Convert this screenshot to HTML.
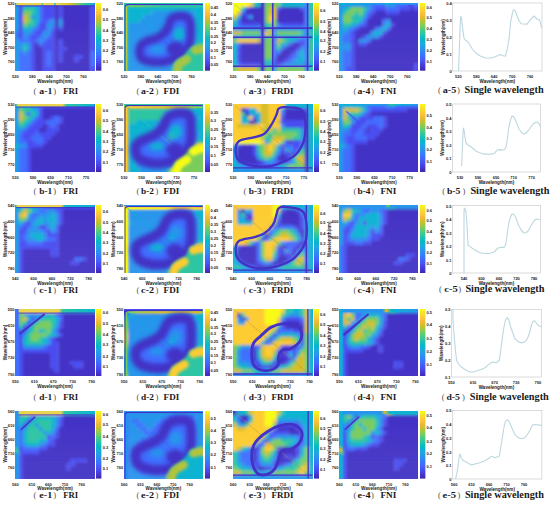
<!DOCTYPE html><html><head><meta charset="utf-8"><style>
*{margin:0;padding:0;box-sizing:border-box}
html,body{width:550px;height:505px;background:#fff;overflow:hidden}
body{position:relative}
.hm,.cb,.lp,.tx{position:absolute;display:block;overflow:hidden}
.tk{font-family:"Liberation Sans",sans-serif;font-weight:bold;font-size:4.0px;fill:#1a1a1a;dominant-baseline:central}
.xl{font-family:"Liberation Sans",sans-serif;font-weight:bold;font-size:4.6px;fill:#1a1a1a;dominant-baseline:central}
.cp{font-family:"Liberation Serif",serif;font-weight:normal;font-size:8.6px;fill:#555}
.cl{font-family:"Liberation Serif",serif;font-weight:bold;font-size:8.8px;fill:#1a1a1a}
.cn{font-family:"Liberation Serif",serif;font-weight:bold;font-size:9px;fill:#1a1a1a}
.cs{font-family:"Liberation Serif",serif;font-weight:bold;font-size:10.3px;fill:#1a1a1a}
</style></head><body>
<svg width="0" height="0" style="position:absolute"><defs><linearGradient id="pg" x1="0" y1="0" x2="0" y2="1"><stop offset="0" stop-color="#f9fb15"/><stop offset="0.05" stop-color="#f5e825"/><stop offset="0.1" stop-color="#fad42e"/><stop offset="0.15" stop-color="#fec13a"/><stop offset="0.2" stop-color="#eaba31"/><stop offset="0.25" stop-color="#c8c129"/><stop offset="0.3" stop-color="#9fc942"/><stop offset="0.35" stop-color="#71cd64"/><stop offset="0.4" stop-color="#48cb86"/><stop offset="0.45" stop-color="#2fc5a2"/><stop offset="0.5" stop-color="#12beb9"/><stop offset="0.55" stop-color="#05b6ce"/><stop offset="0.6" stop-color="#1caadf"/><stop offset="0.65" stop-color="#259ce7"/><stop offset="0.7" stop-color="#2d8cf3"/><stop offset="0.75" stop-color="#347afd"/><stop offset="0.8" stop-color="#4367fd"/><stop offset="0.85" stop-color="#4755f6"/><stop offset="0.9" stop-color="#4743e7"/><stop offset="0.95" stop-color="#4433cc"/><stop offset="1" stop-color="#3e26a8"/></linearGradient></defs></svg>

<svg class="hm" style="left:15.3px;top:3px;width:79.5px;height:67.7px" viewBox="0 0 550 468" preserveAspectRatio="none"><filter id="f1" x="-10%" y="-10%" width="120%" height="120%"><feGaussianBlur stdDeviation="12"/></filter><g filter="url(#f1)"><rect x="-27.5" y="-27.53" width="55.5" height="28.03" fill="#2895ec"/><rect x="27.5" y="-27.53" width="28" height="28.03" fill="#484ef1"/><rect x="55" y="-27.53" width="110.5" height="28.03" fill="#2895ec"/><rect x="165" y="-27.53" width="28" height="28.03" fill="#3f6eff"/><rect x="192.5" y="-27.53" width="83" height="28.03" fill="#484ef1"/><rect x="275" y="-27.53" width="28" height="28.03" fill="#4330c5"/><rect x="302.5" y="-27.53" width="28" height="28.03" fill="#484ef1"/><rect x="330" y="-27.53" width="193" height="28.03" fill="#4330c5"/><rect x="522.5" y="-27.53" width="55.5" height="28.03" fill="#484ef1"/><rect x="-27.5" y="0" width="55.5" height="28.03" fill="#2895ec"/><rect x="27.5" y="0" width="28" height="28.03" fill="#484ef1"/><rect x="55" y="0" width="110.5" height="28.03" fill="#2895ec"/><rect x="165" y="0" width="28" height="28.03" fill="#3f6eff"/><rect x="192.5" y="0" width="83" height="28.03" fill="#484ef1"/><rect x="275" y="0" width="28" height="28.03" fill="#4330c5"/><rect x="302.5" y="0" width="28" height="28.03" fill="#484ef1"/><rect x="330" y="0" width="193" height="28.03" fill="#4330c5"/><rect x="522.5" y="0" width="55.5" height="28.03" fill="#484ef1"/><rect x="-27.5" y="27.53" width="55.5" height="28.03" fill="#2895ec"/><rect x="27.5" y="27.53" width="28" height="28.03" fill="#484ef1"/><rect x="55" y="27.53" width="83" height="28.03" fill="#2fc5a2"/><rect x="137.5" y="27.53" width="28" height="28.03" fill="#0ab4d2"/><rect x="165" y="27.53" width="28" height="28.03" fill="#3f6eff"/><rect x="192.5" y="27.53" width="83" height="28.03" fill="#484ef1"/><rect x="275" y="27.53" width="28" height="28.03" fill="#4330c5"/><rect x="302.5" y="27.53" width="28" height="28.03" fill="#484ef1"/><rect x="330" y="27.53" width="193" height="28.03" fill="#4330c5"/><rect x="522.5" y="27.53" width="55.5" height="28.03" fill="#484ef1"/><rect x="-27.5" y="55.06" width="55.5" height="28.03" fill="#2895ec"/><rect x="27.5" y="55.06" width="28" height="28.03" fill="#484ef1"/><rect x="55" y="55.06" width="55.5" height="28.03" fill="#7acc5d"/><rect x="110" y="55.06" width="28" height="28.03" fill="#2fc5a2"/><rect x="137.5" y="55.06" width="28" height="28.03" fill="#0ab4d2"/><rect x="165" y="55.06" width="28" height="28.03" fill="#3f6eff"/><rect x="192.5" y="55.06" width="83" height="28.03" fill="#484ef1"/><rect x="275" y="55.06" width="28" height="28.03" fill="#4330c5"/><rect x="302.5" y="55.06" width="28" height="28.03" fill="#484ef1"/><rect x="330" y="55.06" width="193" height="28.03" fill="#4330c5"/><rect x="522.5" y="55.06" width="55.5" height="28.03" fill="#484ef1"/><rect x="-27.5" y="82.59" width="55.5" height="28.03" fill="#2895ec"/><rect x="27.5" y="82.59" width="28" height="28.03" fill="#484ef1"/><rect x="55" y="82.59" width="28" height="28.03" fill="#d7be28"/><rect x="82.5" y="82.59" width="28" height="28.03" fill="#7acc5d"/><rect x="110" y="82.59" width="28" height="28.03" fill="#2895ec"/><rect x="137.5" y="82.59" width="28" height="28.03" fill="#0ab4d2"/><rect x="165" y="82.59" width="28" height="28.03" fill="#3f6eff"/><rect x="192.5" y="82.59" width="83" height="28.03" fill="#484ef1"/><rect x="275" y="82.59" width="28" height="28.03" fill="#4330c5"/><rect x="302.5" y="82.59" width="28" height="28.03" fill="#484ef1"/><rect x="330" y="82.59" width="193" height="28.03" fill="#4330c5"/><rect x="522.5" y="82.59" width="55.5" height="28.03" fill="#484ef1"/><rect x="-27.5" y="110.12" width="55.5" height="28.03" fill="#2895ec"/><rect x="27.5" y="110.12" width="28" height="28.03" fill="#484ef1"/><rect x="55" y="110.12" width="28" height="28.03" fill="#d7be28"/><rect x="82.5" y="110.12" width="28" height="28.03" fill="#7acc5d"/><rect x="110" y="110.12" width="28" height="28.03" fill="#2fc5a2"/><rect x="137.5" y="110.12" width="28" height="28.03" fill="#0ab4d2"/><rect x="165" y="110.12" width="28" height="28.03" fill="#3f6eff"/><rect x="192.5" y="110.12" width="28" height="28.03" fill="#484ef1"/><rect x="220" y="110.12" width="28" height="28.03" fill="#3f6eff"/><rect x="247.5" y="110.12" width="28" height="28.03" fill="#2895ec"/><rect x="275" y="110.12" width="28" height="28.03" fill="#4330c5"/><rect x="302.5" y="110.12" width="28" height="28.03" fill="#2895ec"/><rect x="330" y="110.12" width="193" height="28.03" fill="#4330c5"/><rect x="522.5" y="110.12" width="55.5" height="28.03" fill="#484ef1"/><rect x="-27.5" y="137.65" width="55.5" height="28.03" fill="#2895ec"/><rect x="27.5" y="137.65" width="28" height="28.03" fill="#484ef1"/><rect x="55" y="137.65" width="28" height="28.03" fill="#7acc5d"/><rect x="82.5" y="137.65" width="55.5" height="28.03" fill="#2fc5a2"/><rect x="137.5" y="137.65" width="28" height="28.03" fill="#2895ec"/><rect x="165" y="137.65" width="55.5" height="28.03" fill="#484ef1"/><rect x="220" y="137.65" width="55.5" height="28.03" fill="#2895ec"/><rect x="275" y="137.65" width="28" height="28.03" fill="#4330c5"/><rect x="302.5" y="137.65" width="28" height="28.03" fill="#2895ec"/><rect x="330" y="137.65" width="193" height="28.03" fill="#4330c5"/><rect x="522.5" y="137.65" width="55.5" height="28.03" fill="#484ef1"/><rect x="-27.5" y="165.18" width="55.5" height="28.03" fill="#2895ec"/><rect x="27.5" y="165.18" width="28" height="28.03" fill="#484ef1"/><rect x="55" y="165.18" width="55.5" height="28.03" fill="#0ab4d2"/><rect x="110" y="165.18" width="28" height="28.03" fill="#2895ec"/><rect x="137.5" y="165.18" width="28" height="28.03" fill="#3f6eff"/><rect x="165" y="165.18" width="55.5" height="28.03" fill="#484ef1"/><rect x="220" y="165.18" width="28" height="28.03" fill="#2895ec"/><rect x="247.5" y="165.18" width="28" height="28.03" fill="#3f6eff"/><rect x="275" y="165.18" width="28" height="28.03" fill="#4330c5"/><rect x="302.5" y="165.18" width="28" height="28.03" fill="#484ef1"/><rect x="330" y="165.18" width="193" height="28.03" fill="#4330c5"/><rect x="522.5" y="165.18" width="55.5" height="28.03" fill="#484ef1"/><rect x="-27.5" y="192.71" width="55.5" height="28.03" fill="#3f6eff"/><rect x="27.5" y="192.71" width="28" height="28.03" fill="#484ef1"/><rect x="55" y="192.71" width="55.5" height="28.03" fill="#2895ec"/><rect x="110" y="192.71" width="28" height="28.03" fill="#3f6eff"/><rect x="137.5" y="192.71" width="55.5" height="28.03" fill="#484ef1"/><rect x="192.5" y="192.71" width="55.5" height="28.03" fill="#2895ec"/><rect x="247.5" y="192.71" width="28" height="28.03" fill="#484ef1"/><rect x="275" y="192.71" width="248" height="28.03" fill="#4330c5"/><rect x="522.5" y="192.71" width="55.5" height="28.03" fill="#484ef1"/><rect x="-27.5" y="220.24" width="55.5" height="28.03" fill="#3f6eff"/><rect x="27.5" y="220.24" width="28" height="28.03" fill="#484ef1"/><rect x="55" y="220.24" width="28" height="28.03" fill="#2895ec"/><rect x="82.5" y="220.24" width="28" height="28.03" fill="#3f6eff"/><rect x="110" y="220.24" width="55.5" height="28.03" fill="#484ef1"/><rect x="165" y="220.24" width="28" height="28.03" fill="#3f6eff"/><rect x="192.5" y="220.24" width="28" height="28.03" fill="#2895ec"/><rect x="220" y="220.24" width="28" height="28.03" fill="#3f6eff"/><rect x="247.5" y="220.24" width="28" height="28.03" fill="#484ef1"/><rect x="275" y="220.24" width="248" height="28.03" fill="#4330c5"/><rect x="522.5" y="220.24" width="55.5" height="28.03" fill="#484ef1"/><rect x="-27.5" y="247.76" width="55.5" height="28.03" fill="#2895ec"/><rect x="27.5" y="247.76" width="83" height="28.03" fill="#3f6eff"/><rect x="110" y="247.76" width="28" height="28.03" fill="#484ef1"/><rect x="137.5" y="247.76" width="28" height="28.03" fill="#3f6eff"/><rect x="165" y="247.76" width="28" height="28.03" fill="#2895ec"/><rect x="192.5" y="247.76" width="28" height="28.03" fill="#3f6eff"/><rect x="220" y="247.76" width="55.5" height="28.03" fill="#484ef1"/><rect x="275" y="247.76" width="28" height="28.03" fill="#4330c5"/><rect x="302.5" y="247.76" width="28" height="28.03" fill="#484ef1"/><rect x="330" y="247.76" width="193" height="28.03" fill="#4330c5"/><rect x="522.5" y="247.76" width="55.5" height="28.03" fill="#484ef1"/><rect x="-27.5" y="275.29" width="83" height="28.03" fill="#2895ec"/><rect x="55" y="275.29" width="28" height="28.03" fill="#0ab4d2"/><rect x="82.5" y="275.29" width="28" height="28.03" fill="#2895ec"/><rect x="110" y="275.29" width="28" height="28.03" fill="#484ef1"/><rect x="137.5" y="275.29" width="28" height="28.03" fill="#4330c5"/><rect x="165" y="275.29" width="28" height="28.03" fill="#3f6eff"/><rect x="192.5" y="275.29" width="83" height="28.03" fill="#484ef1"/><rect x="275" y="275.29" width="28" height="28.03" fill="#4330c5"/><rect x="302.5" y="275.29" width="28" height="28.03" fill="#484ef1"/><rect x="330" y="275.29" width="193" height="28.03" fill="#4330c5"/><rect x="522.5" y="275.29" width="55.5" height="28.03" fill="#484ef1"/><rect x="-27.5" y="302.82" width="83" height="28.03" fill="#2895ec"/><rect x="55" y="302.82" width="28" height="28.03" fill="#2fc5a2"/><rect x="82.5" y="302.82" width="28" height="28.03" fill="#2895ec"/><rect x="110" y="302.82" width="28" height="28.03" fill="#484ef1"/><rect x="137.5" y="302.82" width="55.5" height="28.03" fill="#4330c5"/><rect x="192.5" y="302.82" width="83" height="28.03" fill="#484ef1"/><rect x="275" y="302.82" width="28" height="28.03" fill="#4330c5"/><rect x="302.5" y="302.82" width="55.5" height="28.03" fill="#484ef1"/><rect x="357.5" y="302.82" width="165.5" height="28.03" fill="#4330c5"/><rect x="522.5" y="302.82" width="55.5" height="28.03" fill="#484ef1"/><rect x="-27.5" y="330.35" width="55.5" height="28.03" fill="#2895ec"/><rect x="27.5" y="330.35" width="28" height="28.03" fill="#3f6eff"/><rect x="55" y="330.35" width="28" height="28.03" fill="#2895ec"/><rect x="82.5" y="330.35" width="28" height="28.03" fill="#3f6eff"/><rect x="110" y="330.35" width="28" height="28.03" fill="#484ef1"/><rect x="137.5" y="330.35" width="55.5" height="28.03" fill="#4330c5"/><rect x="192.5" y="330.35" width="28" height="28.03" fill="#484ef1"/><rect x="220" y="330.35" width="28" height="28.03" fill="#3f6eff"/><rect x="247.5" y="330.35" width="28" height="28.03" fill="#484ef1"/><rect x="275" y="330.35" width="28" height="28.03" fill="#4330c5"/><rect x="302.5" y="330.35" width="28" height="28.03" fill="#484ef1"/><rect x="330" y="330.35" width="193" height="28.03" fill="#4330c5"/><rect x="522.5" y="330.35" width="55.5" height="28.03" fill="#3f6eff"/><rect x="-27.5" y="357.88" width="55.5" height="28.03" fill="#2895ec"/><rect x="27.5" y="357.88" width="83" height="28.03" fill="#3f6eff"/><rect x="110" y="357.88" width="28" height="28.03" fill="#484ef1"/><rect x="137.5" y="357.88" width="55.5" height="28.03" fill="#4330c5"/><rect x="192.5" y="357.88" width="28" height="28.03" fill="#484ef1"/><rect x="220" y="357.88" width="28" height="28.03" fill="#3f6eff"/><rect x="247.5" y="357.88" width="28" height="28.03" fill="#484ef1"/><rect x="275" y="357.88" width="28" height="28.03" fill="#4330c5"/><rect x="302.5" y="357.88" width="28" height="28.03" fill="#484ef1"/><rect x="330" y="357.88" width="83" height="28.03" fill="#4330c5"/><rect x="412.5" y="357.88" width="55.5" height="28.03" fill="#484ef1"/><rect x="467.5" y="357.88" width="55.5" height="28.03" fill="#4330c5"/><rect x="522.5" y="357.88" width="55.5" height="28.03" fill="#3f6eff"/><rect x="-27.5" y="385.41" width="55.5" height="28.03" fill="#2895ec"/><rect x="27.5" y="385.41" width="83" height="28.03" fill="#3f6eff"/><rect x="110" y="385.41" width="28" height="28.03" fill="#484ef1"/><rect x="137.5" y="385.41" width="55.5" height="28.03" fill="#4330c5"/><rect x="192.5" y="385.41" width="28" height="28.03" fill="#484ef1"/><rect x="220" y="385.41" width="28" height="28.03" fill="#3f6eff"/><rect x="247.5" y="385.41" width="28" height="28.03" fill="#484ef1"/><rect x="275" y="385.41" width="28" height="28.03" fill="#4330c5"/><rect x="302.5" y="385.41" width="28" height="28.03" fill="#484ef1"/><rect x="330" y="385.41" width="83" height="28.03" fill="#4330c5"/><rect x="412.5" y="385.41" width="28" height="28.03" fill="#484ef1"/><rect x="440" y="385.41" width="83" height="28.03" fill="#4330c5"/><rect x="522.5" y="385.41" width="55.5" height="28.03" fill="#3f6eff"/><rect x="-27.5" y="412.94" width="55.5" height="28.03" fill="#2895ec"/><rect x="27.5" y="412.94" width="83" height="28.03" fill="#3f6eff"/><rect x="110" y="412.94" width="28" height="28.03" fill="#484ef1"/><rect x="137.5" y="412.94" width="55.5" height="28.03" fill="#4330c5"/><rect x="192.5" y="412.94" width="28" height="28.03" fill="#484ef1"/><rect x="220" y="412.94" width="28" height="28.03" fill="#3f6eff"/><rect x="247.5" y="412.94" width="28" height="28.03" fill="#484ef1"/><rect x="275" y="412.94" width="248" height="28.03" fill="#4330c5"/><rect x="522.5" y="412.94" width="55.5" height="28.03" fill="#3f6eff"/><rect x="-27.5" y="440.47" width="55.5" height="28.03" fill="#2895ec"/><rect x="27.5" y="440.47" width="83" height="28.03" fill="#3f6eff"/><rect x="110" y="440.47" width="28" height="28.03" fill="#484ef1"/><rect x="137.5" y="440.47" width="55.5" height="28.03" fill="#4330c5"/><rect x="192.5" y="440.47" width="83" height="28.03" fill="#484ef1"/><rect x="275" y="440.47" width="248" height="28.03" fill="#4330c5"/><rect x="522.5" y="440.47" width="55.5" height="28.03" fill="#484ef1"/><rect x="-27.5" y="468" width="55.5" height="28.03" fill="#2895ec"/><rect x="27.5" y="468" width="83" height="28.03" fill="#3f6eff"/><rect x="110" y="468" width="28" height="28.03" fill="#484ef1"/><rect x="137.5" y="468" width="55.5" height="28.03" fill="#4330c5"/><rect x="192.5" y="468" width="83" height="28.03" fill="#484ef1"/><rect x="275" y="468" width="248" height="28.03" fill="#4330c5"/><rect x="522.5" y="468" width="55.5" height="28.03" fill="#484ef1"/></g><filter id="o1" filterUnits="userSpaceOnUse" x="-100" y="-100" width="750" height="668"><feGaussianBlur stdDeviation="1.5"/></filter><g filter="url(#o1)"><linearGradient id="go1" x1="0" y1="0" x2="1" y2="0"><stop offset="0" stop-color="#2fc5a2"/><stop offset="0.02" stop-color="#ead44e"/><stop offset="0.33" stop-color="#ead44e"/><stop offset="0.34" stop-color="#2fc5a2"/><stop offset="0.36" stop-color="#ead44e"/><stop offset="0.49" stop-color="#ead44e"/><stop offset="0.5" stop-color="#0ab4d2"/><stop offset="0.52" stop-color="#ead44e"/><stop offset="0.7" stop-color="#d7be28"/><stop offset="0.88" stop-color="#2fc5a2"/><stop offset="1" stop-color="#0ab4d2"/></linearGradient><rect x="0" y="0" width="550" height="17" fill="url(#go1)"/></g><filter id="o2" filterUnits="userSpaceOnUse" x="-100" y="-100" width="750" height="668"><feGaussianBlur stdDeviation="2"/></filter><g filter="url(#o2)"><rect x="0" y="17" width="550" height="6" fill="#4330c5"/></g><filter id="o3" filterUnits="userSpaceOnUse" x="-100" y="-100" width="750" height="668"><feGaussianBlur stdDeviation="1.5"/></filter><g filter="url(#o3)"><rect x="0" y="0" width="9" height="468" fill="#0ab4d2"/></g></svg>
<svg class="cb" style="left:96.4px;top:3px;width:5.4px;height:67.7px" viewBox="0 0 10 100" preserveAspectRatio="none"><rect width="10" height="100" fill="url(#pg)"/></svg>
<svg class="hm" style="left:124.1px;top:3px;width:78.6px;height:67.7px" viewBox="0 0 550 468" preserveAspectRatio="none"><filter id="f2" x="-10%" y="-10%" width="120%" height="120%"><feGaussianBlur stdDeviation="12"/></filter><g filter="url(#f2)"><rect x="-27.5" y="-27.53" width="550.5" height="28.03" fill="#2fc5a2"/><rect x="522.5" y="-27.53" width="55.5" height="28.03" fill="#0ab4d2"/><rect x="-27.5" y="0" width="550.5" height="28.03" fill="#2fc5a2"/><rect x="522.5" y="0" width="55.5" height="28.03" fill="#0ab4d2"/><rect x="-27.5" y="27.53" width="55.5" height="28.03" fill="#2fc5a2"/><rect x="27.5" y="27.53" width="550.5" height="28.03" fill="#0ab4d2"/><rect x="-27.5" y="55.06" width="55.5" height="28.03" fill="#2fc5a2"/><rect x="27.5" y="55.06" width="165.5" height="28.03" fill="#0ab4d2"/><rect x="192.5" y="55.06" width="303" height="28.03" fill="#2895ec"/><rect x="495" y="55.06" width="83" height="28.03" fill="#0ab4d2"/><rect x="-27.5" y="82.59" width="55.5" height="28.03" fill="#2fc5a2"/><rect x="27.5" y="82.59" width="110.5" height="28.03" fill="#0ab4d2"/><rect x="137.5" y="82.59" width="358" height="28.03" fill="#2895ec"/><rect x="495" y="82.59" width="83" height="28.03" fill="#0ab4d2"/><rect x="-27.5" y="110.12" width="55.5" height="28.03" fill="#2fc5a2"/><rect x="27.5" y="110.12" width="83" height="28.03" fill="#0ab4d2"/><rect x="110" y="110.12" width="385.5" height="28.03" fill="#2895ec"/><rect x="495" y="110.12" width="83" height="28.03" fill="#0ab4d2"/><rect x="-27.5" y="137.65" width="55.5" height="28.03" fill="#2fc5a2"/><rect x="27.5" y="137.65" width="468" height="28.03" fill="#2895ec"/><rect x="495" y="137.65" width="83" height="28.03" fill="#0ab4d2"/><rect x="-27.5" y="165.18" width="55.5" height="28.03" fill="#2fc5a2"/><rect x="27.5" y="165.18" width="275.5" height="28.03" fill="#2895ec"/><rect x="302.5" y="165.18" width="110.5" height="28.03" fill="#0ab4d2"/><rect x="412.5" y="165.18" width="83" height="28.03" fill="#2895ec"/><rect x="495" y="165.18" width="83" height="28.03" fill="#0ab4d2"/><rect x="-27.5" y="192.71" width="55.5" height="28.03" fill="#2fc5a2"/><rect x="27.5" y="192.71" width="248" height="28.03" fill="#2895ec"/><rect x="275" y="192.71" width="138" height="28.03" fill="#0ab4d2"/><rect x="412.5" y="192.71" width="83" height="28.03" fill="#2895ec"/><rect x="495" y="192.71" width="83" height="28.03" fill="#0ab4d2"/><rect x="-27.5" y="220.24" width="55.5" height="28.03" fill="#2fc5a2"/><rect x="27.5" y="220.24" width="275.5" height="28.03" fill="#2895ec"/><rect x="302.5" y="220.24" width="28" height="28.03" fill="#0ab4d2"/><rect x="330" y="220.24" width="165.5" height="28.03" fill="#2895ec"/><rect x="495" y="220.24" width="83" height="28.03" fill="#0ab4d2"/><rect x="-27.5" y="247.76" width="55.5" height="28.03" fill="#2fc5a2"/><rect x="27.5" y="247.76" width="468" height="28.03" fill="#2895ec"/><rect x="495" y="247.76" width="83" height="28.03" fill="#0ab4d2"/><rect x="-27.5" y="275.29" width="55.5" height="28.03" fill="#2fc5a2"/><rect x="27.5" y="275.29" width="468" height="28.03" fill="#2895ec"/><rect x="495" y="275.29" width="83" height="28.03" fill="#2fc5a2"/><rect x="-27.5" y="302.82" width="55.5" height="28.03" fill="#2fc5a2"/><rect x="27.5" y="302.82" width="440.5" height="28.03" fill="#2895ec"/><rect x="467.5" y="302.82" width="28" height="28.03" fill="#2fc5a2"/><rect x="495" y="302.82" width="83" height="28.03" fill="#7acc5d"/><rect x="-27.5" y="330.35" width="55.5" height="28.03" fill="#2fc5a2"/><rect x="27.5" y="330.35" width="413" height="28.03" fill="#2895ec"/><rect x="440" y="330.35" width="28" height="28.03" fill="#7acc5d"/><rect x="467.5" y="330.35" width="55.5" height="28.03" fill="#d7be28"/><rect x="522.5" y="330.35" width="55.5" height="28.03" fill="#7acc5d"/><rect x="-27.5" y="357.88" width="55.5" height="28.03" fill="#2fc5a2"/><rect x="27.5" y="357.88" width="358" height="28.03" fill="#2895ec"/><rect x="385" y="357.88" width="28" height="28.03" fill="#0ab4d2"/><rect x="412.5" y="357.88" width="28" height="28.03" fill="#7acc5d"/><rect x="440" y="357.88" width="83" height="28.03" fill="#d7be28"/><rect x="522.5" y="357.88" width="55.5" height="28.03" fill="#7acc5d"/><rect x="-27.5" y="385.41" width="55.5" height="28.03" fill="#2fc5a2"/><rect x="27.5" y="385.41" width="303" height="28.03" fill="#2895ec"/><rect x="330" y="385.41" width="28" height="28.03" fill="#0ab4d2"/><rect x="357.5" y="385.41" width="28" height="28.03" fill="#2fc5a2"/><rect x="385" y="385.41" width="28" height="28.03" fill="#d7be28"/><rect x="412.5" y="385.41" width="28" height="28.03" fill="#fdcc32"/><rect x="440" y="385.41" width="83" height="28.03" fill="#d7be28"/><rect x="522.5" y="385.41" width="55.5" height="28.03" fill="#7acc5d"/><rect x="-27.5" y="412.94" width="55.5" height="28.03" fill="#2fc5a2"/><rect x="27.5" y="412.94" width="303" height="28.03" fill="#2895ec"/><rect x="330" y="412.94" width="28" height="28.03" fill="#0ab4d2"/><rect x="357.5" y="412.94" width="28" height="28.03" fill="#d7be28"/><rect x="385" y="412.94" width="55.5" height="28.03" fill="#fdcc32"/><rect x="440" y="412.94" width="83" height="28.03" fill="#d7be28"/><rect x="522.5" y="412.94" width="55.5" height="28.03" fill="#7acc5d"/><rect x="-27.5" y="440.47" width="55.5" height="28.03" fill="#2fc5a2"/><rect x="27.5" y="440.47" width="303" height="28.03" fill="#2895ec"/><rect x="330" y="440.47" width="28" height="28.03" fill="#0ab4d2"/><rect x="357.5" y="440.47" width="165.5" height="28.03" fill="#d7be28"/><rect x="522.5" y="440.47" width="55.5" height="28.03" fill="#7acc5d"/><rect x="-27.5" y="468" width="55.5" height="28.03" fill="#2fc5a2"/><rect x="27.5" y="468" width="303" height="28.03" fill="#2895ec"/><rect x="330" y="468" width="28" height="28.03" fill="#0ab4d2"/><rect x="357.5" y="468" width="165.5" height="28.03" fill="#d7be28"/><rect x="522.5" y="468" width="55.5" height="28.03" fill="#7acc5d"/></g><filter id="o4" filterUnits="userSpaceOnUse" x="-100" y="-100" width="750" height="668"><feGaussianBlur stdDeviation="1"/></filter><g filter="url(#o4)"><rect x="0" y="0" width="550" height="8" fill="#2fc5a2"/></g><filter id="o5" filterUnits="userSpaceOnUse" x="-100" y="-100" width="750" height="668"><feGaussianBlur stdDeviation="1.5"/></filter><g filter="url(#o5)"><path d="M 8,470 L 8,30 Q 8,11 27,11 L 548,11" fill="none" stroke="#4330c5" stroke-width="8" stroke-linecap="round" stroke-linejoin="round"/></g><filter id="o6" filterUnits="userSpaceOnUse" x="-100" y="-100" width="750" height="668"><feGaussianBlur stdDeviation="1.5"/></filter><g filter="url(#o6)"><linearGradient id="go6" x1="0" y1="0" x2="1" y2="0"><stop offset="0" stop-color="#7acc5d"/><stop offset="0.5" stop-color="#2fc5a2"/><stop offset="1" stop-color="#2fc5a2"/></linearGradient><rect x="22" y="16" width="528" height="13" fill="url(#go6)"/></g><filter id="o7" filterUnits="userSpaceOnUse" x="-100" y="-100" width="750" height="668"><feGaussianBlur stdDeviation="1.5"/></filter><g filter="url(#o7)"><rect x="12" y="22" width="11" height="446" fill="#b8cc40"/></g><g transform="translate(0,0)"><filter id="o9" filterUnits="userSpaceOnUse" x="-100" y="-100" width="750" height="668"><feGaussianBlur stdDeviation="10"/></filter><g filter="url(#o9)"><path d="M 330,110 C 342,98 362,92 380,90 C 398,88 421,88 435,95 C 449,102 460,118 465,135 C 470,152 468,178 468,200 C 468,222 468,248 462,270 C 456,292 445,315 432,330 C 419,345 404,351 385,362 C 366,373 342,390 320,398 C 298,406 274,409 250,410 C 226,411 196,409 175,405 C 154,401 136,395 125,385 C 114,375 109,360 108,345 C 107,330 109,309 118,295 C 127,281 143,270 160,262 C 177,254 201,253 220,245 C 239,237 260,225 275,212 C 290,199 301,182 310,165 C 319,148 318,122 330,110 Z" fill="#3f6eff"/></g><filter id="o10" filterUnits="userSpaceOnUse" x="-100" y="-100" width="750" height="668"><feGaussianBlur stdDeviation="18"/></filter><g filter="url(#o10)"><ellipse cx="385" cy="215" rx="45" ry="50" fill="#0ab4d2"/></g><filter id="o11" filterUnits="userSpaceOnUse" x="-100" y="-100" width="750" height="668"><feGaussianBlur stdDeviation="18"/></filter><g filter="url(#o11)"><ellipse cx="235" cy="320" rx="60" ry="35" fill="#2895ec"/></g><filter id="o12" filterUnits="userSpaceOnUse" x="-100" y="-100" width="750" height="668"><feGaussianBlur stdDeviation="3"/></filter><g filter="url(#o12)"><line x1="20" y1="17" x2="550" y2="468" stroke="#0ab4d2" stroke-width="5"/></g><filter id="o13" filterUnits="userSpaceOnUse" x="-100" y="-100" width="750" height="668"><feGaussianBlur stdDeviation="14"/></filter><g filter="url(#o13)"><path d="M 330,110 C 342,98 362,92 380,90 C 398,88 421,88 435,95 C 449,102 460,118 465,135 C 470,152 468,178 468,200 C 468,222 468,248 462,270 C 456,292 445,315 432,330 C 419,345 404,351 385,362 C 366,373 342,390 320,398 C 298,406 274,409 250,410 C 226,411 196,409 175,405 C 154,401 136,395 125,385 C 114,375 109,360 108,345 C 107,330 109,309 118,295 C 127,281 143,270 160,262 C 177,254 201,253 220,245 C 239,237 260,225 275,212 C 290,199 301,182 310,165 C 319,148 318,122 330,110 Z" fill="none" stroke="#4330c5" stroke-width="60" stroke-linecap="round" stroke-linejoin="round"/></g><filter id="o14" filterUnits="userSpaceOnUse" x="-100" y="-100" width="750" height="668"><feGaussianBlur stdDeviation="14"/></filter><g filter="url(#o14)"><ellipse cx="362" cy="318" rx="62" ry="52" fill="#4330c5"/></g></g><filter id="o16" filterUnits="userSpaceOnUse" x="-100" y="-100" width="750" height="668"><feGaussianBlur stdDeviation="10"/></filter><g filter="url(#o16)"><path d="M 351,480 C 351,478 349,480 351,468 C 353,456 351,423 362,406 C 373,389 406,379 419,367 C 432,355 432,343 442,333 C 452,323 461,312 476,305 C 491,298 521,296 533,294 C 545,292 546,294 550,294 C 554,294 558,294 560,294 L 560,480 Z" fill="#2fc5a2"/></g><filter id="o17" filterUnits="userSpaceOnUse" x="-100" y="-100" width="750" height="668"><feGaussianBlur stdDeviation="10"/></filter><g filter="url(#o17)"><path d="M 373,490 C 375,480 373,445 384,428 C 395,411 432,396 441,389" fill="none" stroke="#a8c642" stroke-width="58" stroke-linecap="round" stroke-linejoin="round"/></g><filter id="o18" filterUnits="userSpaceOnUse" x="-100" y="-100" width="750" height="668"><feGaussianBlur stdDeviation="10"/></filter><g filter="url(#o18)"><path d="M 498,327 C 508,325 543,318 555,316 C 567,314 569,316 572,316" fill="none" stroke="#a8c642" stroke-width="58" stroke-linecap="round" stroke-linejoin="round"/></g></svg>
<svg class="cb" style="left:204.5px;top:3px;width:5px;height:67.7px" viewBox="0 0 10 100" preserveAspectRatio="none"><rect width="10" height="100" fill="url(#pg)"/></svg>
<svg class="hm" style="left:233.2px;top:3px;width:79.5px;height:67.7px" viewBox="0 0 550 468" preserveAspectRatio="none"><filter id="f3" x="-10%" y="-10%" width="120%" height="120%"><feGaussianBlur stdDeviation="12"/></filter><g filter="url(#f3)"><rect x="-27.5" y="-27.53" width="138" height="28.03" fill="#f9fb15"/><rect x="110" y="-27.53" width="28" height="28.03" fill="#fdcc32"/><rect x="137.5" y="-27.53" width="28" height="28.03" fill="#2fc5a2"/><rect x="165" y="-27.53" width="28" height="28.03" fill="#0ab4d2"/><rect x="192.5" y="-27.53" width="28" height="28.03" fill="#4330c5"/><rect x="220" y="-27.53" width="110.5" height="28.03" fill="#7acc5d"/><rect x="330" y="-27.53" width="165.5" height="28.03" fill="#0ab4d2"/><rect x="495" y="-27.53" width="28" height="28.03" fill="#3f6eff"/><rect x="522.5" y="-27.53" width="55.5" height="28.03" fill="#2fc5a2"/><rect x="-27.5" y="0" width="138" height="28.03" fill="#f9fb15"/><rect x="110" y="0" width="28" height="28.03" fill="#fdcc32"/><rect x="137.5" y="0" width="28" height="28.03" fill="#2fc5a2"/><rect x="165" y="0" width="28" height="28.03" fill="#0ab4d2"/><rect x="192.5" y="0" width="28" height="28.03" fill="#4330c5"/><rect x="220" y="0" width="110.5" height="28.03" fill="#7acc5d"/><rect x="330" y="0" width="165.5" height="28.03" fill="#0ab4d2"/><rect x="495" y="0" width="28" height="28.03" fill="#3f6eff"/><rect x="522.5" y="0" width="55.5" height="28.03" fill="#2fc5a2"/><rect x="-27.5" y="27.53" width="83" height="28.03" fill="#f9fb15"/><rect x="55" y="27.53" width="28" height="28.03" fill="#2fc5a2"/><rect x="82.5" y="27.53" width="28" height="28.03" fill="#484ef1"/><rect x="110" y="27.53" width="110.5" height="28.03" fill="#4330c5"/><rect x="220" y="27.53" width="28" height="28.03" fill="#7acc5d"/><rect x="247.5" y="27.53" width="55.5" height="28.03" fill="#d7be28"/><rect x="302.5" y="27.53" width="28" height="28.03" fill="#484ef1"/><rect x="330" y="27.53" width="138" height="28.03" fill="#4330c5"/><rect x="467.5" y="27.53" width="28" height="28.03" fill="#484ef1"/><rect x="495" y="27.53" width="28" height="28.03" fill="#3f6eff"/><rect x="522.5" y="27.53" width="55.5" height="28.03" fill="#2fc5a2"/><rect x="-27.5" y="55.06" width="55.5" height="28.03" fill="#f9fb15"/><rect x="27.5" y="55.06" width="28" height="28.03" fill="#d7be28"/><rect x="55" y="55.06" width="28" height="28.03" fill="#3f6eff"/><rect x="82.5" y="55.06" width="138" height="28.03" fill="#4330c5"/><rect x="220" y="55.06" width="28" height="28.03" fill="#7acc5d"/><rect x="247.5" y="55.06" width="55.5" height="28.03" fill="#d7be28"/><rect x="302.5" y="55.06" width="193" height="28.03" fill="#4330c5"/><rect x="495" y="55.06" width="28" height="28.03" fill="#3f6eff"/><rect x="522.5" y="55.06" width="55.5" height="28.03" fill="#2fc5a2"/><rect x="-27.5" y="82.59" width="55.5" height="28.03" fill="#d7be28"/><rect x="27.5" y="82.59" width="28" height="28.03" fill="#0ab4d2"/><rect x="55" y="82.59" width="28" height="28.03" fill="#4330c5"/><rect x="82.5" y="82.59" width="28" height="28.03" fill="#484ef1"/><rect x="110" y="82.59" width="28" height="28.03" fill="#2895ec"/><rect x="137.5" y="82.59" width="83" height="28.03" fill="#4330c5"/><rect x="220" y="82.59" width="28" height="28.03" fill="#7acc5d"/><rect x="247.5" y="82.59" width="28" height="28.03" fill="#fdcc32"/><rect x="275" y="82.59" width="28" height="28.03" fill="#d7be28"/><rect x="302.5" y="82.59" width="193" height="28.03" fill="#4330c5"/><rect x="495" y="82.59" width="28" height="28.03" fill="#3f6eff"/><rect x="522.5" y="82.59" width="55.5" height="28.03" fill="#2fc5a2"/><rect x="-27.5" y="110.12" width="55.5" height="28.03" fill="#2fc5a2"/><rect x="27.5" y="110.12" width="28" height="28.03" fill="#3f6eff"/><rect x="55" y="110.12" width="165.5" height="28.03" fill="#4330c5"/><rect x="220" y="110.12" width="28" height="28.03" fill="#7acc5d"/><rect x="247.5" y="110.12" width="28" height="28.03" fill="#fdcc32"/><rect x="275" y="110.12" width="28" height="28.03" fill="#7acc5d"/><rect x="302.5" y="110.12" width="193" height="28.03" fill="#4330c5"/><rect x="495" y="110.12" width="28" height="28.03" fill="#3f6eff"/><rect x="522.5" y="110.12" width="55.5" height="28.03" fill="#2fc5a2"/><rect x="-27.5" y="137.65" width="55.5" height="28.03" fill="#0ab4d2"/><rect x="27.5" y="137.65" width="28" height="28.03" fill="#3f6eff"/><rect x="55" y="137.65" width="138" height="28.03" fill="#484ef1"/><rect x="192.5" y="137.65" width="28" height="28.03" fill="#4330c5"/><rect x="220" y="137.65" width="55.5" height="28.03" fill="#2fc5a2"/><rect x="275" y="137.65" width="28" height="28.03" fill="#7acc5d"/><rect x="302.5" y="137.65" width="28" height="28.03" fill="#3f6eff"/><rect x="330" y="137.65" width="165.5" height="28.03" fill="#484ef1"/><rect x="495" y="137.65" width="28" height="28.03" fill="#3f6eff"/><rect x="522.5" y="137.65" width="55.5" height="28.03" fill="#2fc5a2"/><rect x="-27.5" y="165.18" width="220.5" height="28.03" fill="#2895ec"/><rect x="192.5" y="165.18" width="28" height="28.03" fill="#4330c5"/><rect x="220" y="165.18" width="28" height="28.03" fill="#0ab4d2"/><rect x="247.5" y="165.18" width="28" height="28.03" fill="#7acc5d"/><rect x="275" y="165.18" width="28" height="28.03" fill="#3f6eff"/><rect x="302.5" y="165.18" width="193" height="28.03" fill="#2895ec"/><rect x="495" y="165.18" width="28" height="28.03" fill="#3f6eff"/><rect x="522.5" y="165.18" width="55.5" height="28.03" fill="#0ab4d2"/><rect x="-27.5" y="192.71" width="83" height="28.03" fill="#d7be28"/><rect x="55" y="192.71" width="138" height="28.03" fill="#7acc5d"/><rect x="192.5" y="192.71" width="28" height="28.03" fill="#484ef1"/><rect x="220" y="192.71" width="28" height="28.03" fill="#fdcc32"/><rect x="247.5" y="192.71" width="28" height="28.03" fill="#d7be28"/><rect x="275" y="192.71" width="28" height="28.03" fill="#2895ec"/><rect x="302.5" y="192.71" width="165.5" height="28.03" fill="#7acc5d"/><rect x="467.5" y="192.71" width="28" height="28.03" fill="#2fc5a2"/><rect x="495" y="192.71" width="28" height="28.03" fill="#3f6eff"/><rect x="522.5" y="192.71" width="55.5" height="28.03" fill="#2fc5a2"/><rect x="-27.5" y="220.24" width="220.5" height="28.03" fill="#0ab4d2"/><rect x="192.5" y="220.24" width="28" height="28.03" fill="#484ef1"/><rect x="220" y="220.24" width="28" height="28.03" fill="#2fc5a2"/><rect x="247.5" y="220.24" width="28" height="28.03" fill="#7acc5d"/><rect x="275" y="220.24" width="28" height="28.03" fill="#3f6eff"/><rect x="302.5" y="220.24" width="165.5" height="28.03" fill="#0ab4d2"/><rect x="467.5" y="220.24" width="28" height="28.03" fill="#2895ec"/><rect x="495" y="220.24" width="28" height="28.03" fill="#3f6eff"/><rect x="522.5" y="220.24" width="55.5" height="28.03" fill="#0ab4d2"/><rect x="-27.5" y="247.76" width="55.5" height="28.03" fill="#7acc5d"/><rect x="27.5" y="247.76" width="138" height="28.03" fill="#fdcc32"/><rect x="165" y="247.76" width="28" height="28.03" fill="#d7be28"/><rect x="192.5" y="247.76" width="28" height="28.03" fill="#4330c5"/><rect x="220" y="247.76" width="55.5" height="28.03" fill="#7acc5d"/><rect x="275" y="247.76" width="28" height="28.03" fill="#3f6eff"/><rect x="302.5" y="247.76" width="28" height="28.03" fill="#d7be28"/><rect x="330" y="247.76" width="28" height="28.03" fill="#7acc5d"/><rect x="357.5" y="247.76" width="28" height="28.03" fill="#2fc5a2"/><rect x="385" y="247.76" width="28" height="28.03" fill="#0ab4d2"/><rect x="412.5" y="247.76" width="28" height="28.03" fill="#2895ec"/><rect x="440" y="247.76" width="28" height="28.03" fill="#3f6eff"/><rect x="467.5" y="247.76" width="28" height="28.03" fill="#484ef1"/><rect x="495" y="247.76" width="28" height="28.03" fill="#3f6eff"/><rect x="522.5" y="247.76" width="55.5" height="28.03" fill="#2fc5a2"/><rect x="-27.5" y="275.29" width="55.5" height="28.03" fill="#0ab4d2"/><rect x="27.5" y="275.29" width="28" height="28.03" fill="#3f6eff"/><rect x="55" y="275.29" width="165.5" height="28.03" fill="#4330c5"/><rect x="220" y="275.29" width="55.5" height="28.03" fill="#7acc5d"/><rect x="275" y="275.29" width="28" height="28.03" fill="#3f6eff"/><rect x="302.5" y="275.29" width="28" height="28.03" fill="#7acc5d"/><rect x="330" y="275.29" width="28" height="28.03" fill="#0ab4d2"/><rect x="357.5" y="275.29" width="28" height="28.03" fill="#2895ec"/><rect x="385" y="275.29" width="28" height="28.03" fill="#484ef1"/><rect x="412.5" y="275.29" width="55.5" height="28.03" fill="#4330c5"/><rect x="467.5" y="275.29" width="28" height="28.03" fill="#484ef1"/><rect x="495" y="275.29" width="28" height="28.03" fill="#3f6eff"/><rect x="522.5" y="275.29" width="55.5" height="28.03" fill="#2fc5a2"/><rect x="-27.5" y="302.82" width="55.5" height="28.03" fill="#0ab4d2"/><rect x="27.5" y="302.82" width="28" height="28.03" fill="#484ef1"/><rect x="55" y="302.82" width="165.5" height="28.03" fill="#4330c5"/><rect x="220" y="302.82" width="55.5" height="28.03" fill="#7acc5d"/><rect x="275" y="302.82" width="28" height="28.03" fill="#3f6eff"/><rect x="302.5" y="302.82" width="28" height="28.03" fill="#2fc5a2"/><rect x="330" y="302.82" width="28" height="28.03" fill="#3f6eff"/><rect x="357.5" y="302.82" width="83" height="28.03" fill="#4330c5"/><rect x="440" y="302.82" width="28" height="28.03" fill="#484ef1"/><rect x="467.5" y="302.82" width="28" height="28.03" fill="#2895ec"/><rect x="495" y="302.82" width="28" height="28.03" fill="#3f6eff"/><rect x="522.5" y="302.82" width="55.5" height="28.03" fill="#2fc5a2"/><rect x="-27.5" y="330.35" width="55.5" height="28.03" fill="#0ab4d2"/><rect x="27.5" y="330.35" width="28" height="28.03" fill="#484ef1"/><rect x="55" y="330.35" width="165.5" height="28.03" fill="#4330c5"/><rect x="220" y="330.35" width="55.5" height="28.03" fill="#7acc5d"/><rect x="275" y="330.35" width="55.5" height="28.03" fill="#3f6eff"/><rect x="330" y="330.35" width="83" height="28.03" fill="#4330c5"/><rect x="412.5" y="330.35" width="28" height="28.03" fill="#484ef1"/><rect x="440" y="330.35" width="28" height="28.03" fill="#2895ec"/><rect x="467.5" y="330.35" width="28" height="28.03" fill="#0ab4d2"/><rect x="495" y="330.35" width="28" height="28.03" fill="#3f6eff"/><rect x="522.5" y="330.35" width="55.5" height="28.03" fill="#2fc5a2"/><rect x="-27.5" y="357.88" width="55.5" height="28.03" fill="#0ab4d2"/><rect x="27.5" y="357.88" width="28" height="28.03" fill="#484ef1"/><rect x="55" y="357.88" width="165.5" height="28.03" fill="#4330c5"/><rect x="220" y="357.88" width="55.5" height="28.03" fill="#7acc5d"/><rect x="275" y="357.88" width="28" height="28.03" fill="#3f6eff"/><rect x="302.5" y="357.88" width="83" height="28.03" fill="#4330c5"/><rect x="385" y="357.88" width="28" height="28.03" fill="#484ef1"/><rect x="412.5" y="357.88" width="28" height="28.03" fill="#3f6eff"/><rect x="440" y="357.88" width="28" height="28.03" fill="#2895ec"/><rect x="467.5" y="357.88" width="28" height="28.03" fill="#0ab4d2"/><rect x="495" y="357.88" width="28" height="28.03" fill="#3f6eff"/><rect x="522.5" y="357.88" width="55.5" height="28.03" fill="#2fc5a2"/><rect x="-27.5" y="385.41" width="55.5" height="28.03" fill="#0ab4d2"/><rect x="27.5" y="385.41" width="28" height="28.03" fill="#484ef1"/><rect x="55" y="385.41" width="165.5" height="28.03" fill="#4330c5"/><rect x="220" y="385.41" width="55.5" height="28.03" fill="#2fc5a2"/><rect x="275" y="385.41" width="28" height="28.03" fill="#484ef1"/><rect x="302.5" y="385.41" width="55.5" height="28.03" fill="#4330c5"/><rect x="357.5" y="385.41" width="28" height="28.03" fill="#484ef1"/><rect x="385" y="385.41" width="28" height="28.03" fill="#3f6eff"/><rect x="412.5" y="385.41" width="28" height="28.03" fill="#2895ec"/><rect x="440" y="385.41" width="55.5" height="28.03" fill="#0ab4d2"/><rect x="495" y="385.41" width="28" height="28.03" fill="#3f6eff"/><rect x="522.5" y="385.41" width="55.5" height="28.03" fill="#2fc5a2"/><rect x="-27.5" y="412.94" width="55.5" height="28.03" fill="#0ab4d2"/><rect x="27.5" y="412.94" width="28" height="28.03" fill="#3f6eff"/><rect x="55" y="412.94" width="138" height="28.03" fill="#484ef1"/><rect x="192.5" y="412.94" width="28" height="28.03" fill="#4330c5"/><rect x="220" y="412.94" width="55.5" height="28.03" fill="#0ab4d2"/><rect x="275" y="412.94" width="55.5" height="28.03" fill="#484ef1"/><rect x="330" y="412.94" width="28" height="28.03" fill="#3f6eff"/><rect x="357.5" y="412.94" width="138" height="28.03" fill="#2895ec"/><rect x="495" y="412.94" width="28" height="28.03" fill="#484ef1"/><rect x="522.5" y="412.94" width="55.5" height="28.03" fill="#0ab4d2"/><rect x="-27.5" y="440.47" width="55.5" height="28.03" fill="#7acc5d"/><rect x="27.5" y="440.47" width="138" height="28.03" fill="#d7be28"/><rect x="165" y="440.47" width="28" height="28.03" fill="#7acc5d"/><rect x="192.5" y="440.47" width="28" height="28.03" fill="#4330c5"/><rect x="220" y="440.47" width="55.5" height="28.03" fill="#7acc5d"/><rect x="275" y="440.47" width="28" height="28.03" fill="#2895ec"/><rect x="302.5" y="440.47" width="193" height="28.03" fill="#7acc5d"/><rect x="495" y="440.47" width="28" height="28.03" fill="#3f6eff"/><rect x="522.5" y="440.47" width="55.5" height="28.03" fill="#2fc5a2"/><rect x="-27.5" y="468" width="55.5" height="28.03" fill="#7acc5d"/><rect x="27.5" y="468" width="138" height="28.03" fill="#d7be28"/><rect x="165" y="468" width="28" height="28.03" fill="#7acc5d"/><rect x="192.5" y="468" width="28" height="28.03" fill="#4330c5"/><rect x="220" y="468" width="55.5" height="28.03" fill="#7acc5d"/><rect x="275" y="468" width="28" height="28.03" fill="#2895ec"/><rect x="302.5" y="468" width="193" height="28.03" fill="#7acc5d"/><rect x="495" y="468" width="28" height="28.03" fill="#3f6eff"/><rect x="522.5" y="468" width="55.5" height="28.03" fill="#2fc5a2"/></g><filter id="o19" filterUnits="userSpaceOnUse" x="-100" y="-100" width="750" height="668"><feGaussianBlur stdDeviation="2"/></filter><g filter="url(#o19)"><line x1="15" y1="13" x2="550" y2="468" stroke="#2895ec" stroke-width="2"/></g><filter id="o20" filterUnits="userSpaceOnUse" x="-100" y="-100" width="750" height="668"><feGaussianBlur stdDeviation="2.5"/></filter><g filter="url(#o20)"><line x1="204" y1="0" x2="204" y2="468" stroke="#4330c5" stroke-width="11"/></g><filter id="o21" filterUnits="userSpaceOnUse" x="-100" y="-100" width="750" height="668"><feGaussianBlur stdDeviation="2.5"/></filter><g filter="url(#o21)"><line x1="275" y1="0" x2="275" y2="468" stroke="#4330c5" stroke-width="11"/></g><filter id="o22" filterUnits="userSpaceOnUse" x="-100" y="-100" width="750" height="668"><feGaussianBlur stdDeviation="2.5"/></filter><g filter="url(#o22)"><line x1="516" y1="0" x2="516" y2="468" stroke="#4330c5" stroke-width="10"/></g><filter id="o23" filterUnits="userSpaceOnUse" x="-100" y="-100" width="750" height="668"><feGaussianBlur stdDeviation="2.5"/></filter><g filter="url(#o23)"><line x1="0" y1="174" x2="550" y2="174" stroke="#4330c5" stroke-width="11"/></g><filter id="o24" filterUnits="userSpaceOnUse" x="-100" y="-100" width="750" height="668"><feGaussianBlur stdDeviation="2.5"/></filter><g filter="url(#o24)"><line x1="0" y1="237" x2="550" y2="237" stroke="#4330c5" stroke-width="11"/></g><filter id="o25" filterUnits="userSpaceOnUse" x="-100" y="-100" width="750" height="668"><feGaussianBlur stdDeviation="2.5"/></filter><g filter="url(#o25)"><line x1="0" y1="437" x2="550" y2="437" stroke="#4330c5" stroke-width="10"/></g></svg>
<svg class="cb" style="left:314.1px;top:3px;width:5px;height:67.7px" viewBox="0 0 10 100" preserveAspectRatio="none"><rect width="10" height="100" fill="url(#pg)"/></svg>
<svg class="hm" style="left:339.3px;top:3px;width:79.2px;height:67.7px" viewBox="0 0 550 468" preserveAspectRatio="none"><filter id="f4" x="-10%" y="-10%" width="120%" height="120%"><feGaussianBlur stdDeviation="12"/></filter><g filter="url(#f4)"><rect x="-27.5" y="-27.53" width="248" height="28.03" fill="#2895ec"/><rect x="220" y="-27.53" width="110.5" height="28.03" fill="#3f6eff"/><rect x="330" y="-27.53" width="55.5" height="28.03" fill="#2895ec"/><rect x="385" y="-27.53" width="83" height="28.03" fill="#3f6eff"/><rect x="467.5" y="-27.53" width="55.5" height="28.03" fill="#484ef1"/><rect x="522.5" y="-27.53" width="55.5" height="28.03" fill="#3f6eff"/><rect x="-27.5" y="0" width="248" height="28.03" fill="#2895ec"/><rect x="220" y="0" width="110.5" height="28.03" fill="#3f6eff"/><rect x="330" y="0" width="55.5" height="28.03" fill="#2895ec"/><rect x="385" y="0" width="83" height="28.03" fill="#3f6eff"/><rect x="467.5" y="0" width="55.5" height="28.03" fill="#484ef1"/><rect x="522.5" y="0" width="55.5" height="28.03" fill="#3f6eff"/><rect x="-27.5" y="27.53" width="55.5" height="28.03" fill="#2895ec"/><rect x="27.5" y="27.53" width="28" height="28.03" fill="#0ab4d2"/><rect x="55" y="27.53" width="28" height="28.03" fill="#2fc5a2"/><rect x="82.5" y="27.53" width="83" height="28.03" fill="#7acc5d"/><rect x="165" y="27.53" width="28" height="28.03" fill="#2fc5a2"/><rect x="192.5" y="27.53" width="28" height="28.03" fill="#2895ec"/><rect x="220" y="27.53" width="28" height="28.03" fill="#3f6eff"/><rect x="247.5" y="27.53" width="83" height="28.03" fill="#484ef1"/><rect x="330" y="27.53" width="83" height="28.03" fill="#3f6eff"/><rect x="412.5" y="27.53" width="83" height="28.03" fill="#484ef1"/><rect x="495" y="27.53" width="28" height="28.03" fill="#4330c5"/><rect x="522.5" y="27.53" width="55.5" height="28.03" fill="#484ef1"/><rect x="-27.5" y="55.06" width="55.5" height="28.03" fill="#2895ec"/><rect x="27.5" y="55.06" width="28" height="28.03" fill="#2fc5a2"/><rect x="55" y="55.06" width="55.5" height="28.03" fill="#7acc5d"/><rect x="110" y="55.06" width="28" height="28.03" fill="#2fc5a2"/><rect x="137.5" y="55.06" width="28" height="28.03" fill="#7acc5d"/><rect x="165" y="55.06" width="28" height="28.03" fill="#0ab4d2"/><rect x="192.5" y="55.06" width="28" height="28.03" fill="#3f6eff"/><rect x="220" y="55.06" width="28" height="28.03" fill="#484ef1"/><rect x="247.5" y="55.06" width="83" height="28.03" fill="#4330c5"/><rect x="330" y="55.06" width="83" height="28.03" fill="#484ef1"/><rect x="412.5" y="55.06" width="165.5" height="28.03" fill="#4330c5"/><rect x="-27.5" y="82.59" width="55.5" height="28.03" fill="#2895ec"/><rect x="27.5" y="82.59" width="55.5" height="28.03" fill="#7acc5d"/><rect x="82.5" y="82.59" width="28" height="28.03" fill="#2fc5a2"/><rect x="110" y="82.59" width="28" height="28.03" fill="#0ab4d2"/><rect x="137.5" y="82.59" width="28" height="28.03" fill="#2fc5a2"/><rect x="165" y="82.59" width="28" height="28.03" fill="#2895ec"/><rect x="192.5" y="82.59" width="28" height="28.03" fill="#484ef1"/><rect x="220" y="82.59" width="358" height="28.03" fill="#4330c5"/><rect x="-27.5" y="110.12" width="55.5" height="28.03" fill="#2895ec"/><rect x="27.5" y="110.12" width="55.5" height="28.03" fill="#7acc5d"/><rect x="82.5" y="110.12" width="55.5" height="28.03" fill="#2fc5a2"/><rect x="137.5" y="110.12" width="28" height="28.03" fill="#0ab4d2"/><rect x="165" y="110.12" width="28" height="28.03" fill="#3f6eff"/><rect x="192.5" y="110.12" width="110.5" height="28.03" fill="#4330c5"/><rect x="302.5" y="110.12" width="28" height="28.03" fill="#3f6eff"/><rect x="330" y="110.12" width="28" height="28.03" fill="#2895ec"/><rect x="357.5" y="110.12" width="220.5" height="28.03" fill="#4330c5"/><rect x="-27.5" y="137.65" width="55.5" height="28.03" fill="#2895ec"/><rect x="27.5" y="137.65" width="55.5" height="28.03" fill="#2fc5a2"/><rect x="82.5" y="137.65" width="28" height="28.03" fill="#0ab4d2"/><rect x="110" y="137.65" width="28" height="28.03" fill="#2895ec"/><rect x="137.5" y="137.65" width="28" height="28.03" fill="#3f6eff"/><rect x="165" y="137.65" width="28" height="28.03" fill="#484ef1"/><rect x="192.5" y="137.65" width="110.5" height="28.03" fill="#4330c5"/><rect x="302.5" y="137.65" width="28" height="28.03" fill="#2895ec"/><rect x="330" y="137.65" width="28" height="28.03" fill="#0ab4d2"/><rect x="357.5" y="137.65" width="28" height="28.03" fill="#484ef1"/><rect x="385" y="137.65" width="193" height="28.03" fill="#4330c5"/><rect x="-27.5" y="165.18" width="55.5" height="28.03" fill="#2895ec"/><rect x="27.5" y="165.18" width="28" height="28.03" fill="#0ab4d2"/><rect x="55" y="165.18" width="28" height="28.03" fill="#2895ec"/><rect x="82.5" y="165.18" width="28" height="28.03" fill="#3f6eff"/><rect x="110" y="165.18" width="28" height="28.03" fill="#484ef1"/><rect x="137.5" y="165.18" width="110.5" height="28.03" fill="#4330c5"/><rect x="247.5" y="165.18" width="28" height="28.03" fill="#3f6eff"/><rect x="275" y="165.18" width="28" height="28.03" fill="#2895ec"/><rect x="302.5" y="165.18" width="28" height="28.03" fill="#0ab4d2"/><rect x="330" y="165.18" width="28" height="28.03" fill="#3f6eff"/><rect x="357.5" y="165.18" width="220.5" height="28.03" fill="#4330c5"/><rect x="-27.5" y="192.71" width="83" height="28.03" fill="#2895ec"/><rect x="55" y="192.71" width="28" height="28.03" fill="#3f6eff"/><rect x="82.5" y="192.71" width="28" height="28.03" fill="#484ef1"/><rect x="110" y="192.71" width="110.5" height="28.03" fill="#4330c5"/><rect x="220" y="192.71" width="28" height="28.03" fill="#2895ec"/><rect x="247.5" y="192.71" width="55.5" height="28.03" fill="#0ab4d2"/><rect x="302.5" y="192.71" width="28" height="28.03" fill="#484ef1"/><rect x="330" y="192.71" width="248" height="28.03" fill="#4330c5"/><rect x="-27.5" y="220.24" width="55.5" height="28.03" fill="#2895ec"/><rect x="27.5" y="220.24" width="55.5" height="28.03" fill="#3f6eff"/><rect x="82.5" y="220.24" width="28" height="28.03" fill="#484ef1"/><rect x="110" y="220.24" width="55.5" height="28.03" fill="#4330c5"/><rect x="165" y="220.24" width="28" height="28.03" fill="#484ef1"/><rect x="192.5" y="220.24" width="83" height="28.03" fill="#2895ec"/><rect x="275" y="220.24" width="28" height="28.03" fill="#484ef1"/><rect x="302.5" y="220.24" width="275.5" height="28.03" fill="#4330c5"/><rect x="-27.5" y="247.76" width="55.5" height="28.03" fill="#2895ec"/><rect x="27.5" y="247.76" width="55.5" height="28.03" fill="#3f6eff"/><rect x="82.5" y="247.76" width="28" height="28.03" fill="#484ef1"/><rect x="110" y="247.76" width="28" height="28.03" fill="#4330c5"/><rect x="137.5" y="247.76" width="55.5" height="28.03" fill="#2895ec"/><rect x="192.5" y="247.76" width="28" height="28.03" fill="#3f6eff"/><rect x="220" y="247.76" width="358" height="28.03" fill="#4330c5"/><rect x="-27.5" y="275.29" width="110.5" height="28.03" fill="#2895ec"/><rect x="82.5" y="275.29" width="28" height="28.03" fill="#484ef1"/><rect x="110" y="275.29" width="28" height="28.03" fill="#4330c5"/><rect x="137.5" y="275.29" width="55.5" height="28.03" fill="#484ef1"/><rect x="192.5" y="275.29" width="385.5" height="28.03" fill="#4330c5"/><rect x="-27.5" y="302.82" width="110.5" height="28.03" fill="#2895ec"/><rect x="82.5" y="302.82" width="28" height="28.03" fill="#484ef1"/><rect x="110" y="302.82" width="468" height="28.03" fill="#4330c5"/><rect x="-27.5" y="330.35" width="55.5" height="28.03" fill="#2895ec"/><rect x="27.5" y="330.35" width="55.5" height="28.03" fill="#3f6eff"/><rect x="82.5" y="330.35" width="28" height="28.03" fill="#484ef1"/><rect x="110" y="330.35" width="468" height="28.03" fill="#4330c5"/><rect x="-27.5" y="357.88" width="55.5" height="28.03" fill="#2895ec"/><rect x="27.5" y="357.88" width="55.5" height="28.03" fill="#3f6eff"/><rect x="82.5" y="357.88" width="28" height="28.03" fill="#484ef1"/><rect x="110" y="357.88" width="468" height="28.03" fill="#4330c5"/><rect x="-27.5" y="385.41" width="55.5" height="28.03" fill="#2895ec"/><rect x="27.5" y="385.41" width="55.5" height="28.03" fill="#3f6eff"/><rect x="82.5" y="385.41" width="28" height="28.03" fill="#484ef1"/><rect x="110" y="385.41" width="468" height="28.03" fill="#4330c5"/><rect x="-27.5" y="412.94" width="55.5" height="28.03" fill="#2895ec"/><rect x="27.5" y="412.94" width="55.5" height="28.03" fill="#3f6eff"/><rect x="82.5" y="412.94" width="28" height="28.03" fill="#484ef1"/><rect x="110" y="412.94" width="413" height="28.03" fill="#4330c5"/><rect x="522.5" y="412.94" width="55.5" height="28.03" fill="#484ef1"/><rect x="-27.5" y="440.47" width="55.5" height="28.03" fill="#2895ec"/><rect x="27.5" y="440.47" width="28" height="28.03" fill="#3f6eff"/><rect x="55" y="440.47" width="55.5" height="28.03" fill="#484ef1"/><rect x="110" y="440.47" width="413" height="28.03" fill="#4330c5"/><rect x="522.5" y="440.47" width="55.5" height="28.03" fill="#484ef1"/><rect x="-27.5" y="468" width="55.5" height="28.03" fill="#2895ec"/><rect x="27.5" y="468" width="28" height="28.03" fill="#3f6eff"/><rect x="55" y="468" width="55.5" height="28.03" fill="#484ef1"/><rect x="110" y="468" width="413" height="28.03" fill="#4330c5"/><rect x="522.5" y="468" width="55.5" height="28.03" fill="#484ef1"/></g><filter id="o26" filterUnits="userSpaceOnUse" x="-100" y="-100" width="750" height="668"><feGaussianBlur stdDeviation="1.5"/></filter><g filter="url(#o26)"><linearGradient id="go26" x1="0" y1="0" x2="1" y2="0"><stop offset="0" stop-color="#0ab4d2"/><stop offset="0.55" stop-color="#2895ec"/><stop offset="0.6" stop-color="#0ab4d2"/><stop offset="0.75" stop-color="#2895ec"/><stop offset="1" stop-color="#2895ec"/></linearGradient><rect x="0" y="0" width="550" height="12" fill="url(#go26)"/></g><filter id="o27" filterUnits="userSpaceOnUse" x="-100" y="-100" width="750" height="668"><feGaussianBlur stdDeviation="1.5"/></filter><g filter="url(#o27)"><rect x="0" y="0" width="9" height="468" fill="#0ab4d2"/></g></svg>
<svg class="cb" style="left:420.2px;top:3px;width:5.4px;height:67.7px" viewBox="0 0 10 100" preserveAspectRatio="none"><rect width="10" height="100" fill="url(#pg)"/></svg>
<svg class="hm" style="left:15.3px;top:104px;width:79.5px;height:68px" viewBox="0 0 550 468" preserveAspectRatio="none"><filter id="f6" x="-10%" y="-10%" width="120%" height="120%"><feGaussianBlur stdDeviation="12"/></filter><g filter="url(#f6)"><rect x="-27.5" y="-27.53" width="55.5" height="28.03" fill="#2895ec"/><rect x="27.5" y="-27.53" width="83" height="28.03" fill="#0ab4d2"/><rect x="110" y="-27.53" width="55.5" height="28.03" fill="#2895ec"/><rect x="165" y="-27.53" width="28" height="28.03" fill="#3f6eff"/><rect x="192.5" y="-27.53" width="385.5" height="28.03" fill="#484ef1"/><rect x="-27.5" y="0" width="55.5" height="28.03" fill="#2895ec"/><rect x="27.5" y="0" width="83" height="28.03" fill="#0ab4d2"/><rect x="110" y="0" width="55.5" height="28.03" fill="#2895ec"/><rect x="165" y="0" width="28" height="28.03" fill="#3f6eff"/><rect x="192.5" y="0" width="385.5" height="28.03" fill="#484ef1"/><rect x="-27.5" y="27.53" width="55.5" height="28.03" fill="#2895ec"/><rect x="27.5" y="27.53" width="28" height="28.03" fill="#7acc5d"/><rect x="55" y="27.53" width="55.5" height="28.03" fill="#2fc5a2"/><rect x="110" y="27.53" width="28" height="28.03" fill="#0ab4d2"/><rect x="137.5" y="27.53" width="28" height="28.03" fill="#2895ec"/><rect x="165" y="27.53" width="28" height="28.03" fill="#484ef1"/><rect x="192.5" y="27.53" width="385.5" height="28.03" fill="#4330c5"/><rect x="-27.5" y="55.06" width="55.5" height="28.03" fill="#2895ec"/><rect x="27.5" y="55.06" width="28" height="28.03" fill="#d7be28"/><rect x="55" y="55.06" width="28" height="28.03" fill="#2fc5a2"/><rect x="82.5" y="55.06" width="28" height="28.03" fill="#3f6eff"/><rect x="110" y="55.06" width="28" height="28.03" fill="#2fc5a2"/><rect x="137.5" y="55.06" width="28" height="28.03" fill="#0ab4d2"/><rect x="165" y="55.06" width="28" height="28.03" fill="#484ef1"/><rect x="192.5" y="55.06" width="385.5" height="28.03" fill="#4330c5"/><rect x="-27.5" y="82.59" width="55.5" height="28.03" fill="#2895ec"/><rect x="27.5" y="82.59" width="28" height="28.03" fill="#d7be28"/><rect x="55" y="82.59" width="28" height="28.03" fill="#7acc5d"/><rect x="82.5" y="82.59" width="28" height="28.03" fill="#2fc5a2"/><rect x="110" y="82.59" width="28" height="28.03" fill="#0ab4d2"/><rect x="137.5" y="82.59" width="28" height="28.03" fill="#3f6eff"/><rect x="165" y="82.59" width="28" height="28.03" fill="#484ef1"/><rect x="192.5" y="82.59" width="55.5" height="28.03" fill="#4330c5"/><rect x="247.5" y="82.59" width="28" height="28.03" fill="#484ef1"/><rect x="275" y="82.59" width="28" height="28.03" fill="#3f6eff"/><rect x="302.5" y="82.59" width="28" height="28.03" fill="#484ef1"/><rect x="330" y="82.59" width="248" height="28.03" fill="#4330c5"/><rect x="-27.5" y="110.12" width="55.5" height="28.03" fill="#2895ec"/><rect x="27.5" y="110.12" width="28" height="28.03" fill="#7acc5d"/><rect x="55" y="110.12" width="28" height="28.03" fill="#2fc5a2"/><rect x="82.5" y="110.12" width="28" height="28.03" fill="#0ab4d2"/><rect x="110" y="110.12" width="28" height="28.03" fill="#3f6eff"/><rect x="137.5" y="110.12" width="83" height="28.03" fill="#484ef1"/><rect x="220" y="110.12" width="83" height="28.03" fill="#3f6eff"/><rect x="302.5" y="110.12" width="28" height="28.03" fill="#484ef1"/><rect x="330" y="110.12" width="248" height="28.03" fill="#4330c5"/><rect x="-27.5" y="137.65" width="55.5" height="28.03" fill="#2895ec"/><rect x="27.5" y="137.65" width="28" height="28.03" fill="#2fc5a2"/><rect x="55" y="137.65" width="28" height="28.03" fill="#0ab4d2"/><rect x="82.5" y="137.65" width="28" height="28.03" fill="#3f6eff"/><rect x="110" y="137.65" width="83" height="28.03" fill="#484ef1"/><rect x="192.5" y="137.65" width="28" height="28.03" fill="#4330c5"/><rect x="220" y="137.65" width="28" height="28.03" fill="#484ef1"/><rect x="247.5" y="137.65" width="28" height="28.03" fill="#3f6eff"/><rect x="275" y="137.65" width="28" height="28.03" fill="#484ef1"/><rect x="302.5" y="137.65" width="275.5" height="28.03" fill="#4330c5"/><rect x="-27.5" y="165.18" width="83" height="28.03" fill="#2895ec"/><rect x="55" y="165.18" width="28" height="28.03" fill="#3f6eff"/><rect x="82.5" y="165.18" width="83" height="28.03" fill="#484ef1"/><rect x="165" y="165.18" width="55.5" height="28.03" fill="#4330c5"/><rect x="220" y="165.18" width="83" height="28.03" fill="#484ef1"/><rect x="302.5" y="165.18" width="275.5" height="28.03" fill="#4330c5"/><rect x="-27.5" y="192.71" width="55.5" height="28.03" fill="#2895ec"/><rect x="27.5" y="192.71" width="28" height="28.03" fill="#3f6eff"/><rect x="55" y="192.71" width="83" height="28.03" fill="#484ef1"/><rect x="137.5" y="192.71" width="28" height="28.03" fill="#3f6eff"/><rect x="165" y="192.71" width="110.5" height="28.03" fill="#484ef1"/><rect x="275" y="192.71" width="303" height="28.03" fill="#4330c5"/><rect x="-27.5" y="220.24" width="55.5" height="28.03" fill="#2895ec"/><rect x="27.5" y="220.24" width="28" height="28.03" fill="#3f6eff"/><rect x="55" y="220.24" width="55.5" height="28.03" fill="#484ef1"/><rect x="110" y="220.24" width="83" height="28.03" fill="#3f6eff"/><rect x="192.5" y="220.24" width="55.5" height="28.03" fill="#484ef1"/><rect x="247.5" y="220.24" width="330.5" height="28.03" fill="#4330c5"/><rect x="-27.5" y="247.76" width="55.5" height="28.03" fill="#2895ec"/><rect x="27.5" y="247.76" width="55.5" height="28.03" fill="#3f6eff"/><rect x="82.5" y="247.76" width="55.5" height="28.03" fill="#484ef1"/><rect x="137.5" y="247.76" width="55.5" height="28.03" fill="#3f6eff"/><rect x="192.5" y="247.76" width="28" height="28.03" fill="#484ef1"/><rect x="220" y="247.76" width="358" height="28.03" fill="#4330c5"/><rect x="-27.5" y="275.29" width="55.5" height="28.03" fill="#0ab4d2"/><rect x="27.5" y="275.29" width="55.5" height="28.03" fill="#2895ec"/><rect x="82.5" y="275.29" width="110.5" height="28.03" fill="#484ef1"/><rect x="192.5" y="275.29" width="385.5" height="28.03" fill="#4330c5"/><rect x="-27.5" y="302.82" width="55.5" height="28.03" fill="#2895ec"/><rect x="27.5" y="302.82" width="55.5" height="28.03" fill="#3f6eff"/><rect x="82.5" y="302.82" width="28" height="28.03" fill="#484ef1"/><rect x="110" y="302.82" width="468" height="28.03" fill="#4330c5"/><rect x="-27.5" y="330.35" width="55.5" height="28.03" fill="#2895ec"/><rect x="27.5" y="330.35" width="55.5" height="28.03" fill="#3f6eff"/><rect x="82.5" y="330.35" width="28" height="28.03" fill="#484ef1"/><rect x="110" y="330.35" width="468" height="28.03" fill="#4330c5"/><rect x="-27.5" y="357.88" width="55.5" height="28.03" fill="#2895ec"/><rect x="27.5" y="357.88" width="55.5" height="28.03" fill="#3f6eff"/><rect x="82.5" y="357.88" width="28" height="28.03" fill="#484ef1"/><rect x="110" y="357.88" width="468" height="28.03" fill="#4330c5"/><rect x="-27.5" y="385.41" width="55.5" height="28.03" fill="#2895ec"/><rect x="27.5" y="385.41" width="55.5" height="28.03" fill="#3f6eff"/><rect x="82.5" y="385.41" width="28" height="28.03" fill="#484ef1"/><rect x="110" y="385.41" width="468" height="28.03" fill="#4330c5"/><rect x="-27.5" y="412.94" width="55.5" height="28.03" fill="#2895ec"/><rect x="27.5" y="412.94" width="55.5" height="28.03" fill="#3f6eff"/><rect x="82.5" y="412.94" width="28" height="28.03" fill="#484ef1"/><rect x="110" y="412.94" width="468" height="28.03" fill="#4330c5"/><rect x="-27.5" y="440.47" width="55.5" height="28.03" fill="#2895ec"/><rect x="27.5" y="440.47" width="55.5" height="28.03" fill="#3f6eff"/><rect x="82.5" y="440.47" width="28" height="28.03" fill="#484ef1"/><rect x="110" y="440.47" width="468" height="28.03" fill="#4330c5"/><rect x="-27.5" y="468" width="55.5" height="28.03" fill="#2895ec"/><rect x="27.5" y="468" width="55.5" height="28.03" fill="#3f6eff"/><rect x="82.5" y="468" width="28" height="28.03" fill="#484ef1"/><rect x="110" y="468" width="468" height="28.03" fill="#4330c5"/></g><filter id="o28" filterUnits="userSpaceOnUse" x="-100" y="-100" width="750" height="668"><feGaussianBlur stdDeviation="1.5"/></filter><g filter="url(#o28)"><linearGradient id="go28" x1="0" y1="0" x2="1" y2="0"><stop offset="0" stop-color="#2fc5a2"/><stop offset="0.04" stop-color="#ead44e"/><stop offset="0.6" stop-color="#ead44e"/><stop offset="0.65" stop-color="#2fc5a2"/><stop offset="1" stop-color="#0ab4d2"/></linearGradient><rect x="0" y="0" width="550" height="18" fill="url(#go28)"/></g><filter id="o29" filterUnits="userSpaceOnUse" x="-100" y="-100" width="750" height="668"><feGaussianBlur stdDeviation="2"/></filter><g filter="url(#o29)"><rect x="0" y="18" width="550" height="6" fill="#4330c5"/></g><filter id="o30" filterUnits="userSpaceOnUse" x="-100" y="-100" width="750" height="668"><feGaussianBlur stdDeviation="1.5"/></filter><g filter="url(#o30)"><rect x="0" y="0" width="9" height="468" fill="#0ab4d2"/></g></svg>
<svg class="cb" style="left:96.4px;top:104px;width:5.4px;height:68px" viewBox="0 0 10 100" preserveAspectRatio="none"><rect width="10" height="100" fill="url(#pg)"/></svg>
<svg class="hm" style="left:124.1px;top:104px;width:78.6px;height:68px" viewBox="0 0 550 468" preserveAspectRatio="none"><filter id="f7" x="-10%" y="-10%" width="120%" height="120%"><feGaussianBlur stdDeviation="12"/></filter><g filter="url(#f7)"><rect x="-27.5" y="-27.53" width="55.5" height="28.03" fill="#7acc5d"/><rect x="27.5" y="-27.53" width="413" height="28.03" fill="#d7be28"/><rect x="440" y="-27.53" width="55.5" height="28.03" fill="#7acc5d"/><rect x="495" y="-27.53" width="83" height="28.03" fill="#2fc5a2"/><rect x="-27.5" y="0" width="55.5" height="28.03" fill="#7acc5d"/><rect x="27.5" y="0" width="413" height="28.03" fill="#d7be28"/><rect x="440" y="0" width="55.5" height="28.03" fill="#7acc5d"/><rect x="495" y="0" width="83" height="28.03" fill="#2fc5a2"/><rect x="-27.5" y="27.53" width="55.5" height="28.03" fill="#d7be28"/><rect x="27.5" y="27.53" width="303" height="28.03" fill="#2fc5a2"/><rect x="330" y="27.53" width="248" height="28.03" fill="#0ab4d2"/><rect x="-27.5" y="55.06" width="55.5" height="28.03" fill="#d7be28"/><rect x="27.5" y="55.06" width="248" height="28.03" fill="#2fc5a2"/><rect x="275" y="55.06" width="28" height="28.03" fill="#0ab4d2"/><rect x="302.5" y="55.06" width="193" height="28.03" fill="#2895ec"/><rect x="495" y="55.06" width="83" height="28.03" fill="#0ab4d2"/><rect x="-27.5" y="82.59" width="55.5" height="28.03" fill="#d7be28"/><rect x="27.5" y="82.59" width="248" height="28.03" fill="#2fc5a2"/><rect x="275" y="82.59" width="28" height="28.03" fill="#0ab4d2"/><rect x="302.5" y="82.59" width="220.5" height="28.03" fill="#2895ec"/><rect x="522.5" y="82.59" width="55.5" height="28.03" fill="#0ab4d2"/><rect x="-27.5" y="110.12" width="55.5" height="28.03" fill="#d7be28"/><rect x="27.5" y="110.12" width="55.5" height="28.03" fill="#2fc5a2"/><rect x="82.5" y="110.12" width="165.5" height="28.03" fill="#0ab4d2"/><rect x="247.5" y="110.12" width="248" height="28.03" fill="#2895ec"/><rect x="495" y="110.12" width="83" height="28.03" fill="#0ab4d2"/><rect x="-27.5" y="137.65" width="55.5" height="28.03" fill="#d7be28"/><rect x="27.5" y="137.65" width="193" height="28.03" fill="#0ab4d2"/><rect x="220" y="137.65" width="110.5" height="28.03" fill="#2895ec"/><rect x="330" y="137.65" width="83" height="28.03" fill="#0ab4d2"/><rect x="412.5" y="137.65" width="83" height="28.03" fill="#2895ec"/><rect x="495" y="137.65" width="83" height="28.03" fill="#0ab4d2"/><rect x="-27.5" y="165.18" width="55.5" height="28.03" fill="#d7be28"/><rect x="27.5" y="165.18" width="193" height="28.03" fill="#0ab4d2"/><rect x="220" y="165.18" width="83" height="28.03" fill="#2895ec"/><rect x="302.5" y="165.18" width="110.5" height="28.03" fill="#0ab4d2"/><rect x="412.5" y="165.18" width="83" height="28.03" fill="#2895ec"/><rect x="495" y="165.18" width="83" height="28.03" fill="#0ab4d2"/><rect x="-27.5" y="192.71" width="55.5" height="28.03" fill="#d7be28"/><rect x="27.5" y="192.71" width="165.5" height="28.03" fill="#0ab4d2"/><rect x="192.5" y="192.71" width="110.5" height="28.03" fill="#2895ec"/><rect x="302.5" y="192.71" width="28" height="28.03" fill="#0ab4d2"/><rect x="330" y="192.71" width="28" height="28.03" fill="#2fc5a2"/><rect x="357.5" y="192.71" width="83" height="28.03" fill="#0ab4d2"/><rect x="440" y="192.71" width="83" height="28.03" fill="#2895ec"/><rect x="522.5" y="192.71" width="55.5" height="28.03" fill="#0ab4d2"/><rect x="-27.5" y="220.24" width="55.5" height="28.03" fill="#d7be28"/><rect x="27.5" y="220.24" width="110.5" height="28.03" fill="#0ab4d2"/><rect x="137.5" y="220.24" width="138" height="28.03" fill="#2895ec"/><rect x="275" y="220.24" width="28" height="28.03" fill="#0ab4d2"/><rect x="302.5" y="220.24" width="28" height="28.03" fill="#2fc5a2"/><rect x="330" y="220.24" width="28" height="28.03" fill="#0ab4d2"/><rect x="357.5" y="220.24" width="165.5" height="28.03" fill="#2895ec"/><rect x="522.5" y="220.24" width="55.5" height="28.03" fill="#0ab4d2"/><rect x="-27.5" y="247.76" width="55.5" height="28.03" fill="#d7be28"/><rect x="27.5" y="247.76" width="55.5" height="28.03" fill="#0ab4d2"/><rect x="82.5" y="247.76" width="138" height="28.03" fill="#2895ec"/><rect x="220" y="247.76" width="83" height="28.03" fill="#0ab4d2"/><rect x="302.5" y="247.76" width="193" height="28.03" fill="#2895ec"/><rect x="495" y="247.76" width="83" height="28.03" fill="#2fc5a2"/><rect x="-27.5" y="275.29" width="55.5" height="28.03" fill="#d7be28"/><rect x="27.5" y="275.29" width="55.5" height="28.03" fill="#0ab4d2"/><rect x="82.5" y="275.29" width="110.5" height="28.03" fill="#2895ec"/><rect x="192.5" y="275.29" width="28" height="28.03" fill="#0ab4d2"/><rect x="220" y="275.29" width="28" height="28.03" fill="#2fc5a2"/><rect x="247.5" y="275.29" width="28" height="28.03" fill="#0ab4d2"/><rect x="275" y="275.29" width="193" height="28.03" fill="#2895ec"/><rect x="467.5" y="275.29" width="28" height="28.03" fill="#2fc5a2"/><rect x="495" y="275.29" width="83" height="28.03" fill="#fdcc32"/><rect x="-27.5" y="302.82" width="55.5" height="28.03" fill="#d7be28"/><rect x="27.5" y="302.82" width="28" height="28.03" fill="#0ab4d2"/><rect x="55" y="302.82" width="138" height="28.03" fill="#2895ec"/><rect x="192.5" y="302.82" width="55.5" height="28.03" fill="#0ab4d2"/><rect x="247.5" y="302.82" width="220.5" height="28.03" fill="#2895ec"/><rect x="467.5" y="302.82" width="28" height="28.03" fill="#d7be28"/><rect x="495" y="302.82" width="28" height="28.03" fill="#fdcc32"/><rect x="522.5" y="302.82" width="55.5" height="28.03" fill="#d7be28"/><rect x="-27.5" y="330.35" width="55.5" height="28.03" fill="#d7be28"/><rect x="27.5" y="330.35" width="28" height="28.03" fill="#0ab4d2"/><rect x="55" y="330.35" width="385.5" height="28.03" fill="#2895ec"/><rect x="440" y="330.35" width="28" height="28.03" fill="#2fc5a2"/><rect x="467.5" y="330.35" width="28" height="28.03" fill="#d7be28"/><rect x="495" y="330.35" width="83" height="28.03" fill="#7acc5d"/><rect x="-27.5" y="357.88" width="55.5" height="28.03" fill="#d7be28"/><rect x="27.5" y="357.88" width="28" height="28.03" fill="#0ab4d2"/><rect x="55" y="357.88" width="358" height="28.03" fill="#2895ec"/><rect x="412.5" y="357.88" width="28" height="28.03" fill="#2fc5a2"/><rect x="440" y="357.88" width="138" height="28.03" fill="#7acc5d"/><rect x="-27.5" y="385.41" width="55.5" height="28.03" fill="#d7be28"/><rect x="27.5" y="385.41" width="55.5" height="28.03" fill="#0ab4d2"/><rect x="82.5" y="385.41" width="303" height="28.03" fill="#2895ec"/><rect x="385" y="385.41" width="28" height="28.03" fill="#d7be28"/><rect x="412.5" y="385.41" width="165.5" height="28.03" fill="#7acc5d"/><rect x="-27.5" y="412.94" width="55.5" height="28.03" fill="#d7be28"/><rect x="27.5" y="412.94" width="55.5" height="28.03" fill="#0ab4d2"/><rect x="82.5" y="412.94" width="275.5" height="28.03" fill="#2895ec"/><rect x="357.5" y="412.94" width="28" height="28.03" fill="#2fc5a2"/><rect x="385" y="412.94" width="55.5" height="28.03" fill="#fdcc32"/><rect x="440" y="412.94" width="138" height="28.03" fill="#7acc5d"/><rect x="-27.5" y="440.47" width="55.5" height="28.03" fill="#d7be28"/><rect x="27.5" y="440.47" width="83" height="28.03" fill="#0ab4d2"/><rect x="110" y="440.47" width="193" height="28.03" fill="#2895ec"/><rect x="302.5" y="440.47" width="28" height="28.03" fill="#2fc5a2"/><rect x="330" y="440.47" width="55.5" height="28.03" fill="#fdcc32"/><rect x="385" y="440.47" width="28" height="28.03" fill="#d7be28"/><rect x="412.5" y="440.47" width="110.5" height="28.03" fill="#7acc5d"/><rect x="522.5" y="440.47" width="55.5" height="28.03" fill="#2fc5a2"/><rect x="-27.5" y="468" width="55.5" height="28.03" fill="#d7be28"/><rect x="27.5" y="468" width="83" height="28.03" fill="#0ab4d2"/><rect x="110" y="468" width="193" height="28.03" fill="#2895ec"/><rect x="302.5" y="468" width="28" height="28.03" fill="#2fc5a2"/><rect x="330" y="468" width="55.5" height="28.03" fill="#fdcc32"/><rect x="385" y="468" width="28" height="28.03" fill="#d7be28"/><rect x="412.5" y="468" width="110.5" height="28.03" fill="#7acc5d"/><rect x="522.5" y="468" width="55.5" height="28.03" fill="#2fc5a2"/></g><filter id="o31" filterUnits="userSpaceOnUse" x="-100" y="-100" width="750" height="668"><feGaussianBlur stdDeviation="1"/></filter><g filter="url(#o31)"><rect x="0" y="0" width="550" height="8" fill="#2fc5a2"/></g><filter id="o32" filterUnits="userSpaceOnUse" x="-100" y="-100" width="750" height="668"><feGaussianBlur stdDeviation="1.5"/></filter><g filter="url(#o32)"><path d="M 8,470 L 8,30 Q 8,11 27,11 L 548,11" fill="none" stroke="#4330c5" stroke-width="8" stroke-linecap="round" stroke-linejoin="round"/></g><filter id="o33" filterUnits="userSpaceOnUse" x="-100" y="-100" width="750" height="668"><feGaussianBlur stdDeviation="1.5"/></filter><g filter="url(#o33)"><linearGradient id="go33" x1="0" y1="0" x2="1" y2="0"><stop offset="0" stop-color="#fdcc32"/><stop offset="0.6" stop-color="#d7be28"/><stop offset="1" stop-color="#7acc5d"/></linearGradient><rect x="22" y="16" width="528" height="13" fill="url(#go33)"/></g><filter id="o34" filterUnits="userSpaceOnUse" x="-100" y="-100" width="750" height="668"><feGaussianBlur stdDeviation="1.5"/></filter><g filter="url(#o34)"><rect x="12" y="22" width="11" height="446" fill="#fdcc32"/></g><g transform="translate(0,0)"><filter id="o36" filterUnits="userSpaceOnUse" x="-100" y="-100" width="750" height="668"><feGaussianBlur stdDeviation="10"/></filter><g filter="url(#o36)"><path d="M 295,110 C 306,94 312,83 330,75 C 348,67 380,62 400,62 C 420,62 439,62 450,72 C 461,82 465,99 468,120 C 471,141 470,176 470,200 C 470,224 470,242 465,262 C 460,282 452,304 440,320 C 428,336 408,342 390,355 C 372,368 353,386 330,395 C 307,404 278,409 250,410 C 222,411 185,407 160,400 C 135,393 113,383 100,370 C 87,357 82,336 80,320 C 78,304 80,288 90,275 C 100,262 120,253 140,243 C 160,233 189,225 210,213 C 231,201 251,187 265,170 C 279,153 284,126 295,110 Z" fill="#3f6eff"/></g><filter id="o37" filterUnits="userSpaceOnUse" x="-100" y="-100" width="750" height="668"><feGaussianBlur stdDeviation="18"/></filter><g filter="url(#o37)"><ellipse cx="360" cy="190" rx="50" ry="50" fill="#0ab4d2"/></g><filter id="o38" filterUnits="userSpaceOnUse" x="-100" y="-100" width="750" height="668"><feGaussianBlur stdDeviation="18"/></filter><g filter="url(#o38)"><ellipse cx="330" cy="225" rx="25" ry="20" fill="#2fc5a2"/></g><filter id="o39" filterUnits="userSpaceOnUse" x="-100" y="-100" width="750" height="668"><feGaussianBlur stdDeviation="18"/></filter><g filter="url(#o39)"><ellipse cx="230" cy="290" rx="55" ry="30" fill="#0ab4d2"/></g><filter id="o40" filterUnits="userSpaceOnUse" x="-100" y="-100" width="750" height="668"><feGaussianBlur stdDeviation="3"/></filter><g filter="url(#o40)"><line x1="20" y1="17" x2="550" y2="468" stroke="#2fc5a2" stroke-width="5"/></g><filter id="o41" filterUnits="userSpaceOnUse" x="-100" y="-100" width="750" height="668"><feGaussianBlur stdDeviation="14"/></filter><g filter="url(#o41)"><path d="M 295,110 C 306,94 312,83 330,75 C 348,67 380,62 400,62 C 420,62 439,62 450,72 C 461,82 465,99 468,120 C 471,141 470,176 470,200 C 470,224 470,242 465,262 C 460,282 452,304 440,320 C 428,336 408,342 390,355 C 372,368 353,386 330,395 C 307,404 278,409 250,410 C 222,411 185,407 160,400 C 135,393 113,383 100,370 C 87,357 82,336 80,320 C 78,304 80,288 90,275 C 100,262 120,253 140,243 C 160,233 189,225 210,213 C 231,201 251,187 265,170 C 279,153 284,126 295,110 Z" fill="none" stroke="#4330c5" stroke-width="68" stroke-linecap="round" stroke-linejoin="round"/></g><filter id="o42" filterUnits="userSpaceOnUse" x="-100" y="-100" width="750" height="668"><feGaussianBlur stdDeviation="14"/></filter><g filter="url(#o42)"><ellipse cx="357" cy="318" rx="62" ry="52" fill="#4330c5"/></g></g><filter id="o44" filterUnits="userSpaceOnUse" x="-100" y="-100" width="750" height="668"><feGaussianBlur stdDeviation="10"/></filter><g filter="url(#o44)"><path d="M 334,480 C 334,478 329,481 334,468 C 339,455 348,418 362,400 C 376,382 402,377 419,361 C 436,345 450,317 464,305 C 478,293 490,292 504,288 C 518,284 541,283 550,282 C 559,281 558,282 560,282 L 560,480 Z" fill="#7acc5d"/></g><filter id="o45" filterUnits="userSpaceOnUse" x="-100" y="-100" width="750" height="668"><feGaussianBlur stdDeviation="10"/></filter><g filter="url(#o45)"><path d="M 356,490 C 361,479 370,440 384,422 C 398,404 432,390 441,383" fill="none" stroke="#f9fb15" stroke-width="58" stroke-linecap="round" stroke-linejoin="round"/></g><filter id="o46" filterUnits="userSpaceOnUse" x="-100" y="-100" width="750" height="668"><feGaussianBlur stdDeviation="10"/></filter><g filter="url(#o46)"><path d="M 486,327 C 493,324 512,314 526,310 C 540,306 564,305 572,304" fill="none" stroke="#f9fb15" stroke-width="58" stroke-linecap="round" stroke-linejoin="round"/></g></svg>
<svg class="cb" style="left:204.5px;top:104px;width:5px;height:68px" viewBox="0 0 10 100" preserveAspectRatio="none"><rect width="10" height="100" fill="url(#pg)"/></svg>
<svg class="hm" style="left:233.2px;top:104px;width:79.5px;height:68px" viewBox="0 0 550 468" preserveAspectRatio="none"><filter id="f8" x="-10%" y="-10%" width="120%" height="120%"><feGaussianBlur stdDeviation="12"/></filter><g filter="url(#f8)"><rect x="-27.5" y="-27.53" width="220.5" height="28.03" fill="#fdcc32"/><rect x="192.5" y="-27.53" width="55.5" height="28.03" fill="#d7be28"/><rect x="247.5" y="-27.53" width="110.5" height="28.03" fill="#fdcc32"/><rect x="357.5" y="-27.53" width="220.5" height="28.03" fill="#0ab4d2"/><rect x="-27.5" y="0" width="220.5" height="28.03" fill="#fdcc32"/><rect x="192.5" y="0" width="55.5" height="28.03" fill="#d7be28"/><rect x="247.5" y="0" width="110.5" height="28.03" fill="#fdcc32"/><rect x="357.5" y="0" width="220.5" height="28.03" fill="#0ab4d2"/><rect x="-27.5" y="27.53" width="83" height="28.03" fill="#fdcc32"/><rect x="55" y="27.53" width="28" height="28.03" fill="#4330c5"/><rect x="82.5" y="27.53" width="28" height="28.03" fill="#484ef1"/><rect x="110" y="27.53" width="55.5" height="28.03" fill="#0ab4d2"/><rect x="165" y="27.53" width="28" height="28.03" fill="#fdcc32"/><rect x="192.5" y="27.53" width="55.5" height="28.03" fill="#d7be28"/><rect x="247.5" y="27.53" width="83" height="28.03" fill="#fdcc32"/><rect x="330" y="27.53" width="28" height="28.03" fill="#2895ec"/><rect x="357.5" y="27.53" width="138" height="28.03" fill="#4330c5"/><rect x="495" y="27.53" width="28" height="28.03" fill="#484ef1"/><rect x="522.5" y="27.53" width="55.5" height="28.03" fill="#0ab4d2"/><rect x="-27.5" y="55.06" width="83" height="28.03" fill="#fdcc32"/><rect x="55" y="55.06" width="28" height="28.03" fill="#2fc5a2"/><rect x="82.5" y="55.06" width="28" height="28.03" fill="#4330c5"/><rect x="110" y="55.06" width="28" height="28.03" fill="#2895ec"/><rect x="137.5" y="55.06" width="55.5" height="28.03" fill="#0ab4d2"/><rect x="192.5" y="55.06" width="55.5" height="28.03" fill="#d7be28"/><rect x="247.5" y="55.06" width="83" height="28.03" fill="#fdcc32"/><rect x="330" y="55.06" width="28" height="28.03" fill="#3f6eff"/><rect x="357.5" y="55.06" width="165.5" height="28.03" fill="#4330c5"/><rect x="522.5" y="55.06" width="55.5" height="28.03" fill="#0ab4d2"/><rect x="-27.5" y="82.59" width="83" height="28.03" fill="#fdcc32"/><rect x="55" y="82.59" width="55.5" height="28.03" fill="#0ab4d2"/><rect x="110" y="82.59" width="28" height="28.03" fill="#fdcc32"/><rect x="137.5" y="82.59" width="28" height="28.03" fill="#484ef1"/><rect x="165" y="82.59" width="28" height="28.03" fill="#0ab4d2"/><rect x="192.5" y="82.59" width="55.5" height="28.03" fill="#d7be28"/><rect x="247.5" y="82.59" width="83" height="28.03" fill="#fdcc32"/><rect x="330" y="82.59" width="28" height="28.03" fill="#484ef1"/><rect x="357.5" y="82.59" width="165.5" height="28.03" fill="#4330c5"/><rect x="522.5" y="82.59" width="55.5" height="28.03" fill="#0ab4d2"/><rect x="-27.5" y="110.12" width="83" height="28.03" fill="#fdcc32"/><rect x="55" y="110.12" width="55.5" height="28.03" fill="#0ab4d2"/><rect x="110" y="110.12" width="55.5" height="28.03" fill="#4330c5"/><rect x="165" y="110.12" width="28" height="28.03" fill="#0ab4d2"/><rect x="192.5" y="110.12" width="55.5" height="28.03" fill="#d7be28"/><rect x="247.5" y="110.12" width="55.5" height="28.03" fill="#fdcc32"/><rect x="302.5" y="110.12" width="28" height="28.03" fill="#d7be28"/><rect x="330" y="110.12" width="165.5" height="28.03" fill="#484ef1"/><rect x="495" y="110.12" width="28" height="28.03" fill="#4330c5"/><rect x="522.5" y="110.12" width="55.5" height="28.03" fill="#0ab4d2"/><rect x="-27.5" y="137.65" width="55.5" height="28.03" fill="#fdcc32"/><rect x="27.5" y="137.65" width="138" height="28.03" fill="#d7be28"/><rect x="165" y="137.65" width="55.5" height="28.03" fill="#fdcc32"/><rect x="220" y="137.65" width="55.5" height="28.03" fill="#d7be28"/><rect x="275" y="137.65" width="55.5" height="28.03" fill="#fdcc32"/><rect x="330" y="137.65" width="28" height="28.03" fill="#2895ec"/><rect x="357.5" y="137.65" width="138" height="28.03" fill="#484ef1"/><rect x="495" y="137.65" width="28" height="28.03" fill="#4330c5"/><rect x="522.5" y="137.65" width="55.5" height="28.03" fill="#0ab4d2"/><rect x="-27.5" y="165.18" width="220.5" height="28.03" fill="#fdcc32"/><rect x="192.5" y="165.18" width="28" height="28.03" fill="#d7be28"/><rect x="220" y="165.18" width="28" height="28.03" fill="#7acc5d"/><rect x="247.5" y="165.18" width="28" height="28.03" fill="#d7be28"/><rect x="275" y="165.18" width="28" height="28.03" fill="#2fc5a2"/><rect x="302.5" y="165.18" width="28" height="28.03" fill="#d7be28"/><rect x="330" y="165.18" width="138" height="28.03" fill="#2fc5a2"/><rect x="467.5" y="165.18" width="28" height="28.03" fill="#2895ec"/><rect x="495" y="165.18" width="28" height="28.03" fill="#4330c5"/><rect x="522.5" y="165.18" width="55.5" height="28.03" fill="#0ab4d2"/><rect x="-27.5" y="192.71" width="248" height="28.03" fill="#fdcc32"/><rect x="220" y="192.71" width="28" height="28.03" fill="#7acc5d"/><rect x="247.5" y="192.71" width="28" height="28.03" fill="#2fc5a2"/><rect x="275" y="192.71" width="165.5" height="28.03" fill="#7acc5d"/><rect x="440" y="192.71" width="28" height="28.03" fill="#2fc5a2"/><rect x="467.5" y="192.71" width="28" height="28.03" fill="#2895ec"/><rect x="495" y="192.71" width="28" height="28.03" fill="#4330c5"/><rect x="522.5" y="192.71" width="55.5" height="28.03" fill="#0ab4d2"/><rect x="-27.5" y="220.24" width="220.5" height="28.03" fill="#fdcc32"/><rect x="192.5" y="220.24" width="28" height="28.03" fill="#7acc5d"/><rect x="220" y="220.24" width="55.5" height="28.03" fill="#2fc5a2"/><rect x="275" y="220.24" width="83" height="28.03" fill="#d7be28"/><rect x="357.5" y="220.24" width="55.5" height="28.03" fill="#7acc5d"/><rect x="412.5" y="220.24" width="55.5" height="28.03" fill="#2fc5a2"/><rect x="467.5" y="220.24" width="28" height="28.03" fill="#2895ec"/><rect x="495" y="220.24" width="28" height="28.03" fill="#4330c5"/><rect x="522.5" y="220.24" width="55.5" height="28.03" fill="#0ab4d2"/><rect x="-27.5" y="247.76" width="55.5" height="28.03" fill="#fdcc32"/><rect x="27.5" y="247.76" width="165.5" height="28.03" fill="#f9fb15"/><rect x="192.5" y="247.76" width="28" height="28.03" fill="#fdcc32"/><rect x="220" y="247.76" width="28" height="28.03" fill="#2895ec"/><rect x="247.5" y="247.76" width="28" height="28.03" fill="#7acc5d"/><rect x="275" y="247.76" width="55.5" height="28.03" fill="#fdcc32"/><rect x="330" y="247.76" width="28" height="28.03" fill="#7acc5d"/><rect x="357.5" y="247.76" width="28" height="28.03" fill="#484ef1"/><rect x="385" y="247.76" width="28" height="28.03" fill="#4330c5"/><rect x="412.5" y="247.76" width="55.5" height="28.03" fill="#484ef1"/><rect x="467.5" y="247.76" width="28" height="28.03" fill="#3f6eff"/><rect x="495" y="247.76" width="28" height="28.03" fill="#4330c5"/><rect x="522.5" y="247.76" width="55.5" height="28.03" fill="#0ab4d2"/><rect x="-27.5" y="275.29" width="55.5" height="28.03" fill="#0ab4d2"/><rect x="27.5" y="275.29" width="28" height="28.03" fill="#484ef1"/><rect x="55" y="275.29" width="83" height="28.03" fill="#4330c5"/><rect x="137.5" y="275.29" width="28" height="28.03" fill="#484ef1"/><rect x="165" y="275.29" width="28" height="28.03" fill="#2fc5a2"/><rect x="192.5" y="275.29" width="28" height="28.03" fill="#7acc5d"/><rect x="220" y="275.29" width="28" height="28.03" fill="#d7be28"/><rect x="247.5" y="275.29" width="28" height="28.03" fill="#fdcc32"/><rect x="275" y="275.29" width="28" height="28.03" fill="#d7be28"/><rect x="302.5" y="275.29" width="28" height="28.03" fill="#0ab4d2"/><rect x="330" y="275.29" width="28" height="28.03" fill="#484ef1"/><rect x="357.5" y="275.29" width="55.5" height="28.03" fill="#3f6eff"/><rect x="412.5" y="275.29" width="55.5" height="28.03" fill="#484ef1"/><rect x="467.5" y="275.29" width="28" height="28.03" fill="#2895ec"/><rect x="495" y="275.29" width="28" height="28.03" fill="#4330c5"/><rect x="522.5" y="275.29" width="55.5" height="28.03" fill="#0ab4d2"/><rect x="-27.5" y="302.82" width="55.5" height="28.03" fill="#2895ec"/><rect x="27.5" y="302.82" width="110.5" height="28.03" fill="#4330c5"/><rect x="137.5" y="302.82" width="28" height="28.03" fill="#484ef1"/><rect x="165" y="302.82" width="28" height="28.03" fill="#2fc5a2"/><rect x="192.5" y="302.82" width="28" height="28.03" fill="#7acc5d"/><rect x="220" y="302.82" width="28" height="28.03" fill="#d7be28"/><rect x="247.5" y="302.82" width="28" height="28.03" fill="#fdcc32"/><rect x="275" y="302.82" width="28" height="28.03" fill="#7acc5d"/><rect x="302.5" y="302.82" width="28" height="28.03" fill="#2895ec"/><rect x="330" y="302.82" width="28" height="28.03" fill="#484ef1"/><rect x="357.5" y="302.82" width="55.5" height="28.03" fill="#2895ec"/><rect x="412.5" y="302.82" width="28" height="28.03" fill="#484ef1"/><rect x="440" y="302.82" width="28" height="28.03" fill="#3f6eff"/><rect x="467.5" y="302.82" width="28" height="28.03" fill="#2fc5a2"/><rect x="495" y="302.82" width="28" height="28.03" fill="#4330c5"/><rect x="522.5" y="302.82" width="55.5" height="28.03" fill="#0ab4d2"/><rect x="-27.5" y="330.35" width="55.5" height="28.03" fill="#2895ec"/><rect x="27.5" y="330.35" width="110.5" height="28.03" fill="#4330c5"/><rect x="137.5" y="330.35" width="28" height="28.03" fill="#484ef1"/><rect x="165" y="330.35" width="28" height="28.03" fill="#0ab4d2"/><rect x="192.5" y="330.35" width="28" height="28.03" fill="#7acc5d"/><rect x="220" y="330.35" width="55.5" height="28.03" fill="#d7be28"/><rect x="275" y="330.35" width="28" height="28.03" fill="#2fc5a2"/><rect x="302.5" y="330.35" width="28" height="28.03" fill="#3f6eff"/><rect x="330" y="330.35" width="28" height="28.03" fill="#4330c5"/><rect x="357.5" y="330.35" width="83" height="28.03" fill="#484ef1"/><rect x="440" y="330.35" width="28" height="28.03" fill="#2fc5a2"/><rect x="467.5" y="330.35" width="28" height="28.03" fill="#7acc5d"/><rect x="495" y="330.35" width="28" height="28.03" fill="#4330c5"/><rect x="522.5" y="330.35" width="55.5" height="28.03" fill="#0ab4d2"/><rect x="-27.5" y="357.88" width="55.5" height="28.03" fill="#2895ec"/><rect x="27.5" y="357.88" width="138" height="28.03" fill="#4330c5"/><rect x="165" y="357.88" width="28" height="28.03" fill="#2895ec"/><rect x="192.5" y="357.88" width="28" height="28.03" fill="#2fc5a2"/><rect x="220" y="357.88" width="28" height="28.03" fill="#7acc5d"/><rect x="247.5" y="357.88" width="28" height="28.03" fill="#2fc5a2"/><rect x="275" y="357.88" width="28" height="28.03" fill="#2895ec"/><rect x="302.5" y="357.88" width="83" height="28.03" fill="#4330c5"/><rect x="385" y="357.88" width="28" height="28.03" fill="#3f6eff"/><rect x="412.5" y="357.88" width="28" height="28.03" fill="#2fc5a2"/><rect x="440" y="357.88" width="55.5" height="28.03" fill="#d7be28"/><rect x="495" y="357.88" width="28" height="28.03" fill="#4330c5"/><rect x="522.5" y="357.88" width="55.5" height="28.03" fill="#0ab4d2"/><rect x="-27.5" y="385.41" width="55.5" height="28.03" fill="#0ab4d2"/><rect x="27.5" y="385.41" width="28" height="28.03" fill="#484ef1"/><rect x="55" y="385.41" width="138" height="28.03" fill="#4330c5"/><rect x="192.5" y="385.41" width="28" height="28.03" fill="#484ef1"/><rect x="220" y="385.41" width="55.5" height="28.03" fill="#2895ec"/><rect x="275" y="385.41" width="28" height="28.03" fill="#3f6eff"/><rect x="302.5" y="385.41" width="28" height="28.03" fill="#484ef1"/><rect x="330" y="385.41" width="28" height="28.03" fill="#4330c5"/><rect x="357.5" y="385.41" width="28" height="28.03" fill="#484ef1"/><rect x="385" y="385.41" width="28" height="28.03" fill="#3f6eff"/><rect x="412.5" y="385.41" width="28" height="28.03" fill="#0ab4d2"/><rect x="440" y="385.41" width="28" height="28.03" fill="#7acc5d"/><rect x="467.5" y="385.41" width="28" height="28.03" fill="#d7be28"/><rect x="495" y="385.41" width="28" height="28.03" fill="#4330c5"/><rect x="522.5" y="385.41" width="55.5" height="28.03" fill="#0ab4d2"/><rect x="-27.5" y="412.94" width="83" height="28.03" fill="#0ab4d2"/><rect x="55" y="412.94" width="28" height="28.03" fill="#2895ec"/><rect x="82.5" y="412.94" width="28" height="28.03" fill="#3f6eff"/><rect x="110" y="412.94" width="165.5" height="28.03" fill="#484ef1"/><rect x="275" y="412.94" width="28" height="28.03" fill="#3f6eff"/><rect x="302.5" y="412.94" width="28" height="28.03" fill="#2895ec"/><rect x="330" y="412.94" width="28" height="28.03" fill="#0ab4d2"/><rect x="357.5" y="412.94" width="28" height="28.03" fill="#2fc5a2"/><rect x="385" y="412.94" width="110.5" height="28.03" fill="#7acc5d"/><rect x="495" y="412.94" width="28" height="28.03" fill="#4330c5"/><rect x="522.5" y="412.94" width="55.5" height="28.03" fill="#0ab4d2"/><rect x="-27.5" y="440.47" width="523" height="28.03" fill="#2895ec"/><rect x="495" y="440.47" width="28" height="28.03" fill="#4330c5"/><rect x="522.5" y="440.47" width="55.5" height="28.03" fill="#2895ec"/><rect x="-27.5" y="468" width="523" height="28.03" fill="#2895ec"/><rect x="495" y="468" width="28" height="28.03" fill="#4330c5"/><rect x="522.5" y="468" width="55.5" height="28.03" fill="#2895ec"/></g><filter id="o47" filterUnits="userSpaceOnUse" x="-100" y="-100" width="750" height="668"><feGaussianBlur stdDeviation="1.5"/></filter><g filter="url(#o47)"><line x1="15" y1="13" x2="550" y2="468" stroke="#c09040" stroke-width="3"/></g><filter id="o48" filterUnits="userSpaceOnUse" x="-100" y="-100" width="750" height="668"><feGaussianBlur stdDeviation="2.5"/></filter><g filter="url(#o48)"><line x1="515" y1="0" x2="515" y2="468" stroke="#4330c5" stroke-width="9"/></g><filter id="o49" filterUnits="userSpaceOnUse" x="-100" y="-100" width="750" height="668"><feGaussianBlur stdDeviation="2.5"/></filter><g filter="url(#o49)"><line x1="0" y1="439" x2="550" y2="439" stroke="#4330c5" stroke-width="9"/></g><filter id="o50" filterUnits="userSpaceOnUse" x="-100" y="-100" width="750" height="668"><feGaussianBlur stdDeviation="4"/></filter><g filter="url(#o50)"><path d="M 314,34 C 322,26 326,22 351,22 C 376,22 438,22 462,34 C 486,46 492,64 498,95 C 504,126 502,185 498,218 C 494,251 488,268 474,292 C 460,316 447,343 412,365 C 377,387 310,416 265,426 C 220,436 179,432 142,426 C 105,420 64,408 43,390 C 22,372 18,338 18,316 C 18,294 22,269 43,255 C 64,241 113,238 142,230 C 171,222 194,220 215,206 C 236,192 250,166 265,144 C 280,122 294,89 302,71 C 310,53 306,42 314,34 Z" fill="none" stroke="#4330c5" stroke-width="16" stroke-linecap="round" stroke-linejoin="round"/></g></svg>
<svg class="cb" style="left:314.1px;top:104px;width:5px;height:68px" viewBox="0 0 10 100" preserveAspectRatio="none"><rect width="10" height="100" fill="url(#pg)"/></svg>
<svg class="hm" style="left:339.3px;top:104px;width:79.2px;height:68px" viewBox="0 0 550 468" preserveAspectRatio="none"><filter id="f9" x="-10%" y="-10%" width="120%" height="120%"><feGaussianBlur stdDeviation="12"/></filter><g filter="url(#f9)"><rect x="-27.5" y="-27.53" width="55.5" height="28.03" fill="#2895ec"/><rect x="27.5" y="-27.53" width="138" height="28.03" fill="#0ab4d2"/><rect x="165" y="-27.53" width="28" height="28.03" fill="#2895ec"/><rect x="192.5" y="-27.53" width="138" height="28.03" fill="#3f6eff"/><rect x="330" y="-27.53" width="55.5" height="28.03" fill="#2895ec"/><rect x="385" y="-27.53" width="193" height="28.03" fill="#3f6eff"/><rect x="-27.5" y="0" width="55.5" height="28.03" fill="#2895ec"/><rect x="27.5" y="0" width="138" height="28.03" fill="#0ab4d2"/><rect x="165" y="0" width="28" height="28.03" fill="#2895ec"/><rect x="192.5" y="0" width="138" height="28.03" fill="#3f6eff"/><rect x="330" y="0" width="55.5" height="28.03" fill="#2895ec"/><rect x="385" y="0" width="193" height="28.03" fill="#3f6eff"/><rect x="-27.5" y="27.53" width="55.5" height="28.03" fill="#2895ec"/><rect x="27.5" y="27.53" width="110.5" height="28.03" fill="#d7be28"/><rect x="137.5" y="27.53" width="28" height="28.03" fill="#7acc5d"/><rect x="165" y="27.53" width="28" height="28.03" fill="#0ab4d2"/><rect x="192.5" y="27.53" width="28" height="28.03" fill="#3f6eff"/><rect x="220" y="27.53" width="248" height="28.03" fill="#484ef1"/><rect x="467.5" y="27.53" width="110.5" height="28.03" fill="#4330c5"/><rect x="-27.5" y="55.06" width="55.5" height="28.03" fill="#2895ec"/><rect x="27.5" y="55.06" width="28" height="28.03" fill="#d7be28"/><rect x="55" y="55.06" width="28" height="28.03" fill="#0ab4d2"/><rect x="82.5" y="55.06" width="55.5" height="28.03" fill="#2fc5a2"/><rect x="137.5" y="55.06" width="28" height="28.03" fill="#0ab4d2"/><rect x="165" y="55.06" width="28" height="28.03" fill="#3f6eff"/><rect x="192.5" y="55.06" width="28" height="28.03" fill="#484ef1"/><rect x="220" y="55.06" width="358" height="28.03" fill="#4330c5"/><rect x="-27.5" y="82.59" width="55.5" height="28.03" fill="#2895ec"/><rect x="27.5" y="82.59" width="28" height="28.03" fill="#d7be28"/><rect x="55" y="82.59" width="28" height="28.03" fill="#2fc5a2"/><rect x="82.5" y="82.59" width="28" height="28.03" fill="#3f6eff"/><rect x="110" y="82.59" width="28" height="28.03" fill="#2895ec"/><rect x="137.5" y="82.59" width="110.5" height="28.03" fill="#484ef1"/><rect x="247.5" y="82.59" width="55.5" height="28.03" fill="#3f6eff"/><rect x="302.5" y="82.59" width="28" height="28.03" fill="#484ef1"/><rect x="330" y="82.59" width="248" height="28.03" fill="#4330c5"/><rect x="-27.5" y="110.12" width="55.5" height="28.03" fill="#2895ec"/><rect x="27.5" y="110.12" width="55.5" height="28.03" fill="#7acc5d"/><rect x="82.5" y="110.12" width="28" height="28.03" fill="#2895ec"/><rect x="110" y="110.12" width="83" height="28.03" fill="#484ef1"/><rect x="192.5" y="110.12" width="110.5" height="28.03" fill="#3f6eff"/><rect x="302.5" y="110.12" width="28" height="28.03" fill="#484ef1"/><rect x="330" y="110.12" width="248" height="28.03" fill="#4330c5"/><rect x="-27.5" y="137.65" width="55.5" height="28.03" fill="#2895ec"/><rect x="27.5" y="137.65" width="28" height="28.03" fill="#2fc5a2"/><rect x="55" y="137.65" width="28" height="28.03" fill="#0ab4d2"/><rect x="82.5" y="137.65" width="83" height="28.03" fill="#484ef1"/><rect x="165" y="137.65" width="28" height="28.03" fill="#3f6eff"/><rect x="192.5" y="137.65" width="83" height="28.03" fill="#484ef1"/><rect x="275" y="137.65" width="28" height="28.03" fill="#3f6eff"/><rect x="302.5" y="137.65" width="28" height="28.03" fill="#484ef1"/><rect x="330" y="137.65" width="248" height="28.03" fill="#4330c5"/><rect x="-27.5" y="165.18" width="83" height="28.03" fill="#2895ec"/><rect x="55" y="165.18" width="28" height="28.03" fill="#3f6eff"/><rect x="82.5" y="165.18" width="55.5" height="28.03" fill="#484ef1"/><rect x="137.5" y="165.18" width="28" height="28.03" fill="#3f6eff"/><rect x="165" y="165.18" width="28" height="28.03" fill="#484ef1"/><rect x="192.5" y="165.18" width="28" height="28.03" fill="#4330c5"/><rect x="220" y="165.18" width="83" height="28.03" fill="#484ef1"/><rect x="302.5" y="165.18" width="275.5" height="28.03" fill="#4330c5"/><rect x="-27.5" y="192.71" width="55.5" height="28.03" fill="#2895ec"/><rect x="27.5" y="192.71" width="55.5" height="28.03" fill="#3f6eff"/><rect x="82.5" y="192.71" width="28" height="28.03" fill="#484ef1"/><rect x="110" y="192.71" width="55.5" height="28.03" fill="#3f6eff"/><rect x="165" y="192.71" width="110.5" height="28.03" fill="#484ef1"/><rect x="275" y="192.71" width="303" height="28.03" fill="#4330c5"/><rect x="-27.5" y="220.24" width="55.5" height="28.03" fill="#2895ec"/><rect x="27.5" y="220.24" width="28" height="28.03" fill="#3f6eff"/><rect x="55" y="220.24" width="55.5" height="28.03" fill="#484ef1"/><rect x="110" y="220.24" width="83" height="28.03" fill="#3f6eff"/><rect x="192.5" y="220.24" width="55.5" height="28.03" fill="#484ef1"/><rect x="247.5" y="220.24" width="330.5" height="28.03" fill="#4330c5"/><rect x="-27.5" y="247.76" width="55.5" height="28.03" fill="#2895ec"/><rect x="27.5" y="247.76" width="28" height="28.03" fill="#3f6eff"/><rect x="55" y="247.76" width="138" height="28.03" fill="#484ef1"/><rect x="192.5" y="247.76" width="385.5" height="28.03" fill="#4330c5"/><rect x="-27.5" y="275.29" width="55.5" height="28.03" fill="#0ab4d2"/><rect x="27.5" y="275.29" width="28" height="28.03" fill="#2895ec"/><rect x="55" y="275.29" width="28" height="28.03" fill="#3f6eff"/><rect x="82.5" y="275.29" width="28" height="28.03" fill="#484ef1"/><rect x="110" y="275.29" width="468" height="28.03" fill="#4330c5"/><rect x="-27.5" y="302.82" width="55.5" height="28.03" fill="#2895ec"/><rect x="27.5" y="302.82" width="55.5" height="28.03" fill="#3f6eff"/><rect x="82.5" y="302.82" width="28" height="28.03" fill="#484ef1"/><rect x="110" y="302.82" width="468" height="28.03" fill="#4330c5"/><rect x="-27.5" y="330.35" width="55.5" height="28.03" fill="#2895ec"/><rect x="27.5" y="330.35" width="55.5" height="28.03" fill="#3f6eff"/><rect x="82.5" y="330.35" width="28" height="28.03" fill="#484ef1"/><rect x="110" y="330.35" width="468" height="28.03" fill="#4330c5"/><rect x="-27.5" y="357.88" width="55.5" height="28.03" fill="#2895ec"/><rect x="27.5" y="357.88" width="55.5" height="28.03" fill="#3f6eff"/><rect x="82.5" y="357.88" width="28" height="28.03" fill="#484ef1"/><rect x="110" y="357.88" width="468" height="28.03" fill="#4330c5"/><rect x="-27.5" y="385.41" width="55.5" height="28.03" fill="#2895ec"/><rect x="27.5" y="385.41" width="55.5" height="28.03" fill="#3f6eff"/><rect x="82.5" y="385.41" width="28" height="28.03" fill="#484ef1"/><rect x="110" y="385.41" width="468" height="28.03" fill="#4330c5"/><rect x="-27.5" y="412.94" width="55.5" height="28.03" fill="#2895ec"/><rect x="27.5" y="412.94" width="55.5" height="28.03" fill="#3f6eff"/><rect x="82.5" y="412.94" width="28" height="28.03" fill="#484ef1"/><rect x="110" y="412.94" width="468" height="28.03" fill="#4330c5"/><rect x="-27.5" y="440.47" width="55.5" height="28.03" fill="#2895ec"/><rect x="27.5" y="440.47" width="55.5" height="28.03" fill="#3f6eff"/><rect x="82.5" y="440.47" width="28" height="28.03" fill="#484ef1"/><rect x="110" y="440.47" width="468" height="28.03" fill="#4330c5"/><rect x="-27.5" y="468" width="55.5" height="28.03" fill="#2895ec"/><rect x="27.5" y="468" width="55.5" height="28.03" fill="#3f6eff"/><rect x="82.5" y="468" width="28" height="28.03" fill="#484ef1"/><rect x="110" y="468" width="468" height="28.03" fill="#4330c5"/></g><filter id="o51" filterUnits="userSpaceOnUse" x="-100" y="-100" width="750" height="668"><feGaussianBlur stdDeviation="1.5"/></filter><g filter="url(#o51)"><linearGradient id="go51" x1="0" y1="0" x2="1" y2="0"><stop offset="0" stop-color="#0ab4d2"/><stop offset="0.6" stop-color="#2895ec"/><stop offset="0.65" stop-color="#2fc5a2"/><stop offset="0.75" stop-color="#0ab4d2"/><stop offset="1" stop-color="#2895ec"/></linearGradient><rect x="0" y="0" width="550" height="12" fill="url(#go51)"/></g><filter id="o52" filterUnits="userSpaceOnUse" x="-100" y="-100" width="750" height="668"><feGaussianBlur stdDeviation="1.5"/></filter><g filter="url(#o52)"><rect x="0" y="0" width="9" height="468" fill="#0ab4d2"/></g><filter id="o53" filterUnits="userSpaceOnUse" x="-100" y="-100" width="750" height="668"><feGaussianBlur stdDeviation="2"/></filter><g filter="url(#o53)"><line x1="50" y1="50" x2="150" y2="135" stroke="#484ef1" stroke-width="7"/></g></svg>
<svg class="cb" style="left:420.2px;top:104px;width:5.4px;height:68px" viewBox="0 0 10 100" preserveAspectRatio="none"><rect width="10" height="100" fill="url(#pg)"/></svg>
<svg class="hm" style="left:15.3px;top:205px;width:79.5px;height:68.3px" viewBox="0 0 550 468" preserveAspectRatio="none"><filter id="f11" x="-10%" y="-10%" width="120%" height="120%"><feGaussianBlur stdDeviation="12"/></filter><g filter="url(#f11)"><rect x="-27.5" y="-27.53" width="55.5" height="28.03" fill="#2895ec"/><rect x="27.5" y="-27.53" width="110.5" height="28.03" fill="#0ab4d2"/><rect x="137.5" y="-27.53" width="55.5" height="28.03" fill="#2895ec"/><rect x="192.5" y="-27.53" width="28" height="28.03" fill="#3f6eff"/><rect x="220" y="-27.53" width="358" height="28.03" fill="#484ef1"/><rect x="-27.5" y="0" width="55.5" height="28.03" fill="#2895ec"/><rect x="27.5" y="0" width="110.5" height="28.03" fill="#0ab4d2"/><rect x="137.5" y="0" width="55.5" height="28.03" fill="#2895ec"/><rect x="192.5" y="0" width="28" height="28.03" fill="#3f6eff"/><rect x="220" y="0" width="358" height="28.03" fill="#484ef1"/><rect x="-27.5" y="27.53" width="55.5" height="28.03" fill="#2895ec"/><rect x="27.5" y="27.53" width="28" height="28.03" fill="#2fc5a2"/><rect x="55" y="27.53" width="28" height="28.03" fill="#d7be28"/><rect x="82.5" y="27.53" width="28" height="28.03" fill="#7acc5d"/><rect x="110" y="27.53" width="28" height="28.03" fill="#0ab4d2"/><rect x="137.5" y="27.53" width="28" height="28.03" fill="#2895ec"/><rect x="165" y="27.53" width="55.5" height="28.03" fill="#3f6eff"/><rect x="220" y="27.53" width="55.5" height="28.03" fill="#2895ec"/><rect x="275" y="27.53" width="28" height="28.03" fill="#3f6eff"/><rect x="302.5" y="27.53" width="28" height="28.03" fill="#484ef1"/><rect x="330" y="27.53" width="248" height="28.03" fill="#4330c5"/><rect x="-27.5" y="55.06" width="55.5" height="28.03" fill="#2895ec"/><rect x="27.5" y="55.06" width="28" height="28.03" fill="#d7be28"/><rect x="55" y="55.06" width="28" height="28.03" fill="#fdcc32"/><rect x="82.5" y="55.06" width="28" height="28.03" fill="#0ab4d2"/><rect x="110" y="55.06" width="55.5" height="28.03" fill="#3f6eff"/><rect x="165" y="55.06" width="83" height="28.03" fill="#2895ec"/><rect x="247.5" y="55.06" width="28" height="28.03" fill="#0ab4d2"/><rect x="275" y="55.06" width="28" height="28.03" fill="#2895ec"/><rect x="302.5" y="55.06" width="28" height="28.03" fill="#484ef1"/><rect x="330" y="55.06" width="248" height="28.03" fill="#4330c5"/><rect x="-27.5" y="82.59" width="55.5" height="28.03" fill="#2895ec"/><rect x="27.5" y="82.59" width="55.5" height="28.03" fill="#7acc5d"/><rect x="82.5" y="82.59" width="28" height="28.03" fill="#2895ec"/><rect x="110" y="82.59" width="28" height="28.03" fill="#3f6eff"/><rect x="137.5" y="82.59" width="28" height="28.03" fill="#2895ec"/><rect x="165" y="82.59" width="28" height="28.03" fill="#0ab4d2"/><rect x="192.5" y="82.59" width="28" height="28.03" fill="#2895ec"/><rect x="220" y="82.59" width="55.5" height="28.03" fill="#0ab4d2"/><rect x="275" y="82.59" width="28" height="28.03" fill="#2895ec"/><rect x="302.5" y="82.59" width="28" height="28.03" fill="#484ef1"/><rect x="330" y="82.59" width="248" height="28.03" fill="#4330c5"/><rect x="-27.5" y="110.12" width="55.5" height="28.03" fill="#2895ec"/><rect x="27.5" y="110.12" width="28" height="28.03" fill="#0ab4d2"/><rect x="55" y="110.12" width="28" height="28.03" fill="#3f6eff"/><rect x="82.5" y="110.12" width="28" height="28.03" fill="#484ef1"/><rect x="110" y="110.12" width="28" height="28.03" fill="#2895ec"/><rect x="137.5" y="110.12" width="55.5" height="28.03" fill="#0ab4d2"/><rect x="192.5" y="110.12" width="55.5" height="28.03" fill="#2895ec"/><rect x="247.5" y="110.12" width="28" height="28.03" fill="#0ab4d2"/><rect x="275" y="110.12" width="28" height="28.03" fill="#2895ec"/><rect x="302.5" y="110.12" width="28" height="28.03" fill="#484ef1"/><rect x="330" y="110.12" width="248" height="28.03" fill="#4330c5"/><rect x="-27.5" y="137.65" width="55.5" height="28.03" fill="#2895ec"/><rect x="27.5" y="137.65" width="28" height="28.03" fill="#3f6eff"/><rect x="55" y="137.65" width="28" height="28.03" fill="#484ef1"/><rect x="82.5" y="137.65" width="28" height="28.03" fill="#3f6eff"/><rect x="110" y="137.65" width="55.5" height="28.03" fill="#2895ec"/><rect x="165" y="137.65" width="55.5" height="28.03" fill="#484ef1"/><rect x="220" y="137.65" width="28" height="28.03" fill="#2895ec"/><rect x="247.5" y="137.65" width="28" height="28.03" fill="#0ab4d2"/><rect x="275" y="137.65" width="28" height="28.03" fill="#3f6eff"/><rect x="302.5" y="137.65" width="275.5" height="28.03" fill="#4330c5"/><rect x="-27.5" y="165.18" width="55.5" height="28.03" fill="#2895ec"/><rect x="27.5" y="165.18" width="55.5" height="28.03" fill="#484ef1"/><rect x="82.5" y="165.18" width="110.5" height="28.03" fill="#2895ec"/><rect x="192.5" y="165.18" width="28" height="28.03" fill="#3f6eff"/><rect x="220" y="165.18" width="28" height="28.03" fill="#484ef1"/><rect x="247.5" y="165.18" width="28" height="28.03" fill="#2895ec"/><rect x="275" y="165.18" width="28" height="28.03" fill="#3f6eff"/><rect x="302.5" y="165.18" width="275.5" height="28.03" fill="#4330c5"/><rect x="-27.5" y="192.71" width="55.5" height="28.03" fill="#2895ec"/><rect x="27.5" y="192.71" width="28" height="28.03" fill="#484ef1"/><rect x="55" y="192.71" width="28" height="28.03" fill="#3f6eff"/><rect x="82.5" y="192.71" width="28" height="28.03" fill="#2895ec"/><rect x="110" y="192.71" width="83" height="28.03" fill="#0ab4d2"/><rect x="192.5" y="192.71" width="28" height="28.03" fill="#2895ec"/><rect x="220" y="192.71" width="83" height="28.03" fill="#484ef1"/><rect x="302.5" y="192.71" width="275.5" height="28.03" fill="#4330c5"/><rect x="-27.5" y="220.24" width="55.5" height="28.03" fill="#2895ec"/><rect x="27.5" y="220.24" width="28" height="28.03" fill="#484ef1"/><rect x="55" y="220.24" width="28" height="28.03" fill="#3f6eff"/><rect x="82.5" y="220.24" width="55.5" height="28.03" fill="#2895ec"/><rect x="137.5" y="220.24" width="55.5" height="28.03" fill="#0ab4d2"/><rect x="192.5" y="220.24" width="28" height="28.03" fill="#2895ec"/><rect x="220" y="220.24" width="55.5" height="28.03" fill="#3f6eff"/><rect x="275" y="220.24" width="28" height="28.03" fill="#484ef1"/><rect x="302.5" y="220.24" width="275.5" height="28.03" fill="#4330c5"/><rect x="-27.5" y="247.76" width="55.5" height="28.03" fill="#2895ec"/><rect x="27.5" y="247.76" width="55.5" height="28.03" fill="#484ef1"/><rect x="82.5" y="247.76" width="110.5" height="28.03" fill="#3f6eff"/><rect x="192.5" y="247.76" width="110.5" height="28.03" fill="#484ef1"/><rect x="302.5" y="247.76" width="275.5" height="28.03" fill="#4330c5"/><rect x="-27.5" y="275.29" width="55.5" height="28.03" fill="#2895ec"/><rect x="27.5" y="275.29" width="275.5" height="28.03" fill="#484ef1"/><rect x="302.5" y="275.29" width="275.5" height="28.03" fill="#4330c5"/><rect x="-27.5" y="302.82" width="55.5" height="28.03" fill="#2895ec"/><rect x="27.5" y="302.82" width="28" height="28.03" fill="#484ef1"/><rect x="55" y="302.82" width="193" height="28.03" fill="#4330c5"/><rect x="247.5" y="302.82" width="55.5" height="28.03" fill="#484ef1"/><rect x="302.5" y="302.82" width="275.5" height="28.03" fill="#4330c5"/><rect x="-27.5" y="330.35" width="55.5" height="28.03" fill="#2895ec"/><rect x="27.5" y="330.35" width="28" height="28.03" fill="#484ef1"/><rect x="55" y="330.35" width="193" height="28.03" fill="#4330c5"/><rect x="247.5" y="330.35" width="55.5" height="28.03" fill="#484ef1"/><rect x="302.5" y="330.35" width="275.5" height="28.03" fill="#4330c5"/><rect x="-27.5" y="357.88" width="55.5" height="28.03" fill="#2895ec"/><rect x="27.5" y="357.88" width="28" height="28.03" fill="#484ef1"/><rect x="55" y="357.88" width="358" height="28.03" fill="#4330c5"/><rect x="412.5" y="357.88" width="55.5" height="28.03" fill="#3f6eff"/><rect x="467.5" y="357.88" width="28" height="28.03" fill="#484ef1"/><rect x="495" y="357.88" width="83" height="28.03" fill="#4330c5"/><rect x="-27.5" y="385.41" width="55.5" height="28.03" fill="#2895ec"/><rect x="27.5" y="385.41" width="28" height="28.03" fill="#484ef1"/><rect x="55" y="385.41" width="330.5" height="28.03" fill="#4330c5"/><rect x="385" y="385.41" width="55.5" height="28.03" fill="#484ef1"/><rect x="440" y="385.41" width="138" height="28.03" fill="#4330c5"/><rect x="-27.5" y="412.94" width="55.5" height="28.03" fill="#2895ec"/><rect x="27.5" y="412.94" width="28" height="28.03" fill="#484ef1"/><rect x="55" y="412.94" width="523" height="28.03" fill="#4330c5"/><rect x="-27.5" y="440.47" width="55.5" height="28.03" fill="#2895ec"/><rect x="27.5" y="440.47" width="28" height="28.03" fill="#484ef1"/><rect x="55" y="440.47" width="523" height="28.03" fill="#4330c5"/><rect x="-27.5" y="468" width="55.5" height="28.03" fill="#2895ec"/><rect x="27.5" y="468" width="28" height="28.03" fill="#484ef1"/><rect x="55" y="468" width="523" height="28.03" fill="#4330c5"/></g><filter id="o54" filterUnits="userSpaceOnUse" x="-100" y="-100" width="750" height="668"><feGaussianBlur stdDeviation="1.5"/></filter><g filter="url(#o54)"><linearGradient id="go54" x1="0" y1="0" x2="1" y2="0"><stop offset="0" stop-color="#7acc5d"/><stop offset="0.03" stop-color="#ead44e"/><stop offset="0.58" stop-color="#ead44e"/><stop offset="0.63" stop-color="#0ab4d2"/><stop offset="1" stop-color="#0ab4d2"/></linearGradient><rect x="0" y="0" width="550" height="15" fill="url(#go54)"/></g><filter id="o55" filterUnits="userSpaceOnUse" x="-100" y="-100" width="750" height="668"><feGaussianBlur stdDeviation="2"/></filter><g filter="url(#o55)"><rect x="0" y="15" width="550" height="6" fill="#4330c5"/></g><filter id="o56" filterUnits="userSpaceOnUse" x="-100" y="-100" width="750" height="668"><feGaussianBlur stdDeviation="1.5"/></filter><g filter="url(#o56)"><rect x="0" y="0" width="9" height="468" fill="#0ab4d2"/></g></svg>
<svg class="cb" style="left:96.4px;top:205px;width:5.4px;height:68.3px" viewBox="0 0 10 100" preserveAspectRatio="none"><rect width="10" height="100" fill="url(#pg)"/></svg>
<svg class="hm" style="left:124.1px;top:205px;width:78.6px;height:68.3px" viewBox="0 0 550 468" preserveAspectRatio="none"><filter id="f12" x="-10%" y="-10%" width="120%" height="120%"><feGaussianBlur stdDeviation="12"/></filter><g filter="url(#f12)"><rect x="-27.5" y="-27.53" width="55.5" height="28.03" fill="#fdcc32"/><rect x="27.5" y="-27.53" width="468" height="28.03" fill="#f9fb15"/><rect x="495" y="-27.53" width="28" height="28.03" fill="#fdcc32"/><rect x="522.5" y="-27.53" width="55.5" height="28.03" fill="#d7be28"/><rect x="-27.5" y="0" width="55.5" height="28.03" fill="#fdcc32"/><rect x="27.5" y="0" width="468" height="28.03" fill="#f9fb15"/><rect x="495" y="0" width="28" height="28.03" fill="#fdcc32"/><rect x="522.5" y="0" width="55.5" height="28.03" fill="#d7be28"/><rect x="-27.5" y="27.53" width="55.5" height="28.03" fill="#f9fb15"/><rect x="27.5" y="27.53" width="468" height="28.03" fill="#2895ec"/><rect x="495" y="27.53" width="83" height="28.03" fill="#0ab4d2"/><rect x="-27.5" y="55.06" width="55.5" height="28.03" fill="#f9fb15"/><rect x="27.5" y="55.06" width="468" height="28.03" fill="#2895ec"/><rect x="495" y="55.06" width="83" height="28.03" fill="#0ab4d2"/><rect x="-27.5" y="82.59" width="55.5" height="28.03" fill="#f9fb15"/><rect x="27.5" y="82.59" width="495.5" height="28.03" fill="#2895ec"/><rect x="522.5" y="82.59" width="55.5" height="28.03" fill="#0ab4d2"/><rect x="-27.5" y="110.12" width="55.5" height="28.03" fill="#f9fb15"/><rect x="27.5" y="110.12" width="28" height="28.03" fill="#0ab4d2"/><rect x="55" y="110.12" width="468" height="28.03" fill="#2895ec"/><rect x="522.5" y="110.12" width="55.5" height="28.03" fill="#0ab4d2"/><rect x="-27.5" y="137.65" width="55.5" height="28.03" fill="#f9fb15"/><rect x="27.5" y="137.65" width="495.5" height="28.03" fill="#2895ec"/><rect x="522.5" y="137.65" width="55.5" height="28.03" fill="#0ab4d2"/><rect x="-27.5" y="165.18" width="55.5" height="28.03" fill="#f9fb15"/><rect x="27.5" y="165.18" width="275.5" height="28.03" fill="#2895ec"/><rect x="302.5" y="165.18" width="55.5" height="28.03" fill="#0ab4d2"/><rect x="357.5" y="165.18" width="165.5" height="28.03" fill="#2895ec"/><rect x="522.5" y="165.18" width="55.5" height="28.03" fill="#0ab4d2"/><rect x="-27.5" y="192.71" width="55.5" height="28.03" fill="#f9fb15"/><rect x="27.5" y="192.71" width="248" height="28.03" fill="#2895ec"/><rect x="275" y="192.71" width="28" height="28.03" fill="#0ab4d2"/><rect x="302.5" y="192.71" width="28" height="28.03" fill="#2fc5a2"/><rect x="330" y="192.71" width="28" height="28.03" fill="#0ab4d2"/><rect x="357.5" y="192.71" width="165.5" height="28.03" fill="#2895ec"/><rect x="522.5" y="192.71" width="55.5" height="28.03" fill="#0ab4d2"/><rect x="-27.5" y="220.24" width="55.5" height="28.03" fill="#f9fb15"/><rect x="27.5" y="220.24" width="248" height="28.03" fill="#2895ec"/><rect x="275" y="220.24" width="55.5" height="28.03" fill="#0ab4d2"/><rect x="330" y="220.24" width="193" height="28.03" fill="#2895ec"/><rect x="522.5" y="220.24" width="55.5" height="28.03" fill="#0ab4d2"/><rect x="-27.5" y="247.76" width="55.5" height="28.03" fill="#f9fb15"/><rect x="27.5" y="247.76" width="193" height="28.03" fill="#2895ec"/><rect x="220" y="247.76" width="55.5" height="28.03" fill="#0ab4d2"/><rect x="275" y="247.76" width="220.5" height="28.03" fill="#2895ec"/><rect x="495" y="247.76" width="28" height="28.03" fill="#0ab4d2"/><rect x="522.5" y="247.76" width="55.5" height="28.03" fill="#2fc5a2"/><rect x="-27.5" y="275.29" width="55.5" height="28.03" fill="#f9fb15"/><rect x="27.5" y="275.29" width="165.5" height="28.03" fill="#2895ec"/><rect x="192.5" y="275.29" width="28" height="28.03" fill="#0ab4d2"/><rect x="220" y="275.29" width="28" height="28.03" fill="#2fc5a2"/><rect x="247.5" y="275.29" width="28" height="28.03" fill="#0ab4d2"/><rect x="275" y="275.29" width="193" height="28.03" fill="#2895ec"/><rect x="467.5" y="275.29" width="28" height="28.03" fill="#2fc5a2"/><rect x="495" y="275.29" width="83" height="28.03" fill="#fdcc32"/><rect x="-27.5" y="302.82" width="55.5" height="28.03" fill="#f9fb15"/><rect x="27.5" y="302.82" width="165.5" height="28.03" fill="#2895ec"/><rect x="192.5" y="302.82" width="55.5" height="28.03" fill="#0ab4d2"/><rect x="247.5" y="302.82" width="220.5" height="28.03" fill="#2895ec"/><rect x="467.5" y="302.82" width="55.5" height="28.03" fill="#d7be28"/><rect x="522.5" y="302.82" width="55.5" height="28.03" fill="#7acc5d"/><rect x="-27.5" y="330.35" width="55.5" height="28.03" fill="#f9fb15"/><rect x="27.5" y="330.35" width="413" height="28.03" fill="#2895ec"/><rect x="440" y="330.35" width="28" height="28.03" fill="#2fc5a2"/><rect x="467.5" y="330.35" width="28" height="28.03" fill="#7acc5d"/><rect x="495" y="330.35" width="83" height="28.03" fill="#2fc5a2"/><rect x="-27.5" y="357.88" width="55.5" height="28.03" fill="#f9fb15"/><rect x="27.5" y="357.88" width="385.5" height="28.03" fill="#2895ec"/><rect x="412.5" y="357.88" width="28" height="28.03" fill="#2fc5a2"/><rect x="440" y="357.88" width="28" height="28.03" fill="#7acc5d"/><rect x="467.5" y="357.88" width="110.5" height="28.03" fill="#2fc5a2"/><rect x="-27.5" y="385.41" width="55.5" height="28.03" fill="#f9fb15"/><rect x="27.5" y="385.41" width="330.5" height="28.03" fill="#2895ec"/><rect x="357.5" y="385.41" width="28" height="28.03" fill="#0ab4d2"/><rect x="385" y="385.41" width="28" height="28.03" fill="#d7be28"/><rect x="412.5" y="385.41" width="28" height="28.03" fill="#7acc5d"/><rect x="440" y="385.41" width="138" height="28.03" fill="#2fc5a2"/><rect x="-27.5" y="412.94" width="55.5" height="28.03" fill="#f9fb15"/><rect x="27.5" y="412.94" width="330.5" height="28.03" fill="#2895ec"/><rect x="357.5" y="412.94" width="28" height="28.03" fill="#2fc5a2"/><rect x="385" y="412.94" width="28" height="28.03" fill="#fdcc32"/><rect x="412.5" y="412.94" width="28" height="28.03" fill="#d7be28"/><rect x="440" y="412.94" width="28" height="28.03" fill="#7acc5d"/><rect x="467.5" y="412.94" width="110.5" height="28.03" fill="#2fc5a2"/><rect x="-27.5" y="440.47" width="55.5" height="28.03" fill="#f9fb15"/><rect x="27.5" y="440.47" width="275.5" height="28.03" fill="#2895ec"/><rect x="302.5" y="440.47" width="28" height="28.03" fill="#2fc5a2"/><rect x="330" y="440.47" width="55.5" height="28.03" fill="#fdcc32"/><rect x="385" y="440.47" width="28" height="28.03" fill="#d7be28"/><rect x="412.5" y="440.47" width="165.5" height="28.03" fill="#2fc5a2"/><rect x="-27.5" y="468" width="55.5" height="28.03" fill="#f9fb15"/><rect x="27.5" y="468" width="275.5" height="28.03" fill="#2895ec"/><rect x="302.5" y="468" width="28" height="28.03" fill="#2fc5a2"/><rect x="330" y="468" width="55.5" height="28.03" fill="#fdcc32"/><rect x="385" y="468" width="28" height="28.03" fill="#d7be28"/><rect x="412.5" y="468" width="165.5" height="28.03" fill="#2fc5a2"/></g><filter id="o57" filterUnits="userSpaceOnUse" x="-100" y="-100" width="750" height="668"><feGaussianBlur stdDeviation="1"/></filter><g filter="url(#o57)"><rect x="0" y="0" width="550" height="8" fill="#2895ec"/></g><filter id="o58" filterUnits="userSpaceOnUse" x="-100" y="-100" width="750" height="668"><feGaussianBlur stdDeviation="1.5"/></filter><g filter="url(#o58)"><path d="M 8,470 L 8,30 Q 8,11 27,11 L 548,11" fill="none" stroke="#4330c5" stroke-width="8" stroke-linecap="round" stroke-linejoin="round"/></g><filter id="o59" filterUnits="userSpaceOnUse" x="-100" y="-100" width="750" height="668"><feGaussianBlur stdDeviation="1.5"/></filter><g filter="url(#o59)"><linearGradient id="go59" x1="0" y1="0" x2="1" y2="0"><stop offset="0" stop-color="#f9fb15"/><stop offset="1" stop-color="#fdcc32"/></linearGradient><rect x="22" y="16" width="528" height="13" fill="url(#go59)"/></g><filter id="o60" filterUnits="userSpaceOnUse" x="-100" y="-100" width="750" height="668"><feGaussianBlur stdDeviation="1.5"/></filter><g filter="url(#o60)"><rect x="12" y="22" width="11" height="446" fill="#f9fb15"/></g><g transform="translate(0,0)"><filter id="o62" filterUnits="userSpaceOnUse" x="-100" y="-100" width="750" height="668"><feGaussianBlur stdDeviation="10"/></filter><g filter="url(#o62)"><path d="M 295,110 C 306,94 312,83 330,75 C 348,67 380,62 400,62 C 420,62 439,62 450,72 C 461,82 465,99 468,120 C 471,141 470,176 470,200 C 470,224 470,242 465,262 C 460,282 452,304 440,320 C 428,336 408,342 390,355 C 372,368 353,386 330,395 C 307,404 278,409 250,410 C 222,411 185,407 160,400 C 135,393 113,383 100,370 C 87,357 82,336 80,320 C 78,304 80,288 90,275 C 100,262 120,253 140,243 C 160,233 189,225 210,213 C 231,201 251,187 265,170 C 279,153 284,126 295,110 Z" fill="#3f6eff"/></g><filter id="o63" filterUnits="userSpaceOnUse" x="-100" y="-100" width="750" height="668"><feGaussianBlur stdDeviation="18"/></filter><g filter="url(#o63)"><ellipse cx="360" cy="190" rx="50" ry="50" fill="#2895ec"/></g><filter id="o64" filterUnits="userSpaceOnUse" x="-100" y="-100" width="750" height="668"><feGaussianBlur stdDeviation="18"/></filter><g filter="url(#o64)"><ellipse cx="330" cy="225" rx="25" ry="20" fill="#0ab4d2"/></g><filter id="o65" filterUnits="userSpaceOnUse" x="-100" y="-100" width="750" height="668"><feGaussianBlur stdDeviation="18"/></filter><g filter="url(#o65)"><ellipse cx="230" cy="290" rx="55" ry="30" fill="#0ab4d2"/></g><filter id="o66" filterUnits="userSpaceOnUse" x="-100" y="-100" width="750" height="668"><feGaussianBlur stdDeviation="3"/></filter><g filter="url(#o66)"><line x1="20" y1="17" x2="550" y2="468" stroke="#0ab4d2" stroke-width="5"/></g><filter id="o67" filterUnits="userSpaceOnUse" x="-100" y="-100" width="750" height="668"><feGaussianBlur stdDeviation="14"/></filter><g filter="url(#o67)"><path d="M 295,110 C 306,94 312,83 330,75 C 348,67 380,62 400,62 C 420,62 439,62 450,72 C 461,82 465,99 468,120 C 471,141 470,176 470,200 C 470,224 470,242 465,262 C 460,282 452,304 440,320 C 428,336 408,342 390,355 C 372,368 353,386 330,395 C 307,404 278,409 250,410 C 222,411 185,407 160,400 C 135,393 113,383 100,370 C 87,357 82,336 80,320 C 78,304 80,288 90,275 C 100,262 120,253 140,243 C 160,233 189,225 210,213 C 231,201 251,187 265,170 C 279,153 284,126 295,110 Z" fill="none" stroke="#4330c5" stroke-width="68" stroke-linecap="round" stroke-linejoin="round"/></g><filter id="o68" filterUnits="userSpaceOnUse" x="-100" y="-100" width="750" height="668"><feGaussianBlur stdDeviation="14"/></filter><g filter="url(#o68)"><ellipse cx="357" cy="318" rx="62" ry="52" fill="#4330c5"/></g></g><filter id="o70" filterUnits="userSpaceOnUse" x="-100" y="-100" width="750" height="668"><feGaussianBlur stdDeviation="10"/></filter><g filter="url(#o70)"><path d="M 322,480 C 322,478 319,480 322,468 C 325,456 326,423 339,406 C 352,389 387,376 402,367 C 417,358 420,364 430,351 C 440,338 452,300 464,288 C 476,276 490,279 504,277 C 518,275 541,277 550,277 C 559,277 558,277 560,277 L 560,480 Z" fill="#2fc5a2"/></g><filter id="o71" filterUnits="userSpaceOnUse" x="-100" y="-100" width="750" height="668"><feGaussianBlur stdDeviation="10"/></filter><g filter="url(#o71)"><path d="M 344,490 C 347,480 348,445 361,428 C 374,411 414,396 424,389" fill="none" stroke="#fdcc32" stroke-width="58" stroke-linecap="round" stroke-linejoin="round"/></g><filter id="o72" filterUnits="userSpaceOnUse" x="-100" y="-100" width="750" height="668"><feGaussianBlur stdDeviation="10"/></filter><g filter="url(#o72)"><path d="M 486,310 C 493,308 512,301 526,299 C 540,297 564,299 572,299" fill="none" stroke="#fdcc32" stroke-width="58" stroke-linecap="round" stroke-linejoin="round"/></g></svg>
<svg class="cb" style="left:204.5px;top:205px;width:5px;height:68.3px" viewBox="0 0 10 100" preserveAspectRatio="none"><rect width="10" height="100" fill="url(#pg)"/></svg>
<svg class="hm" style="left:233.2px;top:205px;width:79.5px;height:68.3px" viewBox="0 0 550 468" preserveAspectRatio="none"><filter id="f13" x="-10%" y="-10%" width="120%" height="120%"><feGaussianBlur stdDeviation="12"/></filter><g filter="url(#f13)"><rect x="-27.5" y="-27.53" width="303" height="28.03" fill="#fdcc32"/><rect x="275" y="-27.53" width="55.5" height="28.03" fill="#f9fb15"/><rect x="330" y="-27.53" width="165.5" height="28.03" fill="#0ab4d2"/><rect x="495" y="-27.53" width="28" height="28.03" fill="#2895ec"/><rect x="522.5" y="-27.53" width="55.5" height="28.03" fill="#0ab4d2"/><rect x="-27.5" y="0" width="303" height="28.03" fill="#fdcc32"/><rect x="275" y="0" width="55.5" height="28.03" fill="#f9fb15"/><rect x="330" y="0" width="165.5" height="28.03" fill="#0ab4d2"/><rect x="495" y="0" width="28" height="28.03" fill="#2895ec"/><rect x="522.5" y="0" width="55.5" height="28.03" fill="#0ab4d2"/><rect x="-27.5" y="27.53" width="55.5" height="28.03" fill="#fdcc32"/><rect x="27.5" y="27.53" width="28" height="28.03" fill="#2895ec"/><rect x="55" y="27.53" width="28" height="28.03" fill="#4330c5"/><rect x="82.5" y="27.53" width="28" height="28.03" fill="#0ab4d2"/><rect x="110" y="27.53" width="28" height="28.03" fill="#2895ec"/><rect x="137.5" y="27.53" width="138" height="28.03" fill="#fdcc32"/><rect x="275" y="27.53" width="28" height="28.03" fill="#f9fb15"/><rect x="302.5" y="27.53" width="28" height="28.03" fill="#d7be28"/><rect x="330" y="27.53" width="28" height="28.03" fill="#484ef1"/><rect x="357.5" y="27.53" width="83" height="28.03" fill="#4330c5"/><rect x="440" y="27.53" width="28" height="28.03" fill="#484ef1"/><rect x="467.5" y="27.53" width="55.5" height="28.03" fill="#2895ec"/><rect x="522.5" y="27.53" width="55.5" height="28.03" fill="#0ab4d2"/><rect x="-27.5" y="55.06" width="55.5" height="28.03" fill="#fdcc32"/><rect x="27.5" y="55.06" width="28" height="28.03" fill="#2895ec"/><rect x="55" y="55.06" width="28" height="28.03" fill="#2fc5a2"/><rect x="82.5" y="55.06" width="55.5" height="28.03" fill="#484ef1"/><rect x="137.5" y="55.06" width="138" height="28.03" fill="#fdcc32"/><rect x="275" y="55.06" width="28" height="28.03" fill="#f9fb15"/><rect x="302.5" y="55.06" width="28" height="28.03" fill="#0ab4d2"/><rect x="330" y="55.06" width="138" height="28.03" fill="#4330c5"/><rect x="467.5" y="55.06" width="28" height="28.03" fill="#3f6eff"/><rect x="495" y="55.06" width="28" height="28.03" fill="#2895ec"/><rect x="522.5" y="55.06" width="55.5" height="28.03" fill="#0ab4d2"/><rect x="-27.5" y="82.59" width="55.5" height="28.03" fill="#fdcc32"/><rect x="27.5" y="82.59" width="28" height="28.03" fill="#2895ec"/><rect x="55" y="82.59" width="28" height="28.03" fill="#0ab4d2"/><rect x="82.5" y="82.59" width="28" height="28.03" fill="#484ef1"/><rect x="110" y="82.59" width="28" height="28.03" fill="#4330c5"/><rect x="137.5" y="82.59" width="165.5" height="28.03" fill="#fdcc32"/><rect x="302.5" y="82.59" width="28" height="28.03" fill="#3f6eff"/><rect x="330" y="82.59" width="138" height="28.03" fill="#4330c5"/><rect x="467.5" y="82.59" width="28" height="28.03" fill="#484ef1"/><rect x="495" y="82.59" width="28" height="28.03" fill="#2895ec"/><rect x="522.5" y="82.59" width="55.5" height="28.03" fill="#0ab4d2"/><rect x="-27.5" y="110.12" width="55.5" height="28.03" fill="#fdcc32"/><rect x="27.5" y="110.12" width="110.5" height="28.03" fill="#0ab4d2"/><rect x="137.5" y="110.12" width="138" height="28.03" fill="#fdcc32"/><rect x="275" y="110.12" width="28" height="28.03" fill="#7acc5d"/><rect x="302.5" y="110.12" width="28" height="28.03" fill="#484ef1"/><rect x="330" y="110.12" width="138" height="28.03" fill="#4330c5"/><rect x="467.5" y="110.12" width="28" height="28.03" fill="#484ef1"/><rect x="495" y="110.12" width="28" height="28.03" fill="#2895ec"/><rect x="522.5" y="110.12" width="55.5" height="28.03" fill="#0ab4d2"/><rect x="-27.5" y="137.65" width="275.5" height="28.03" fill="#fdcc32"/><rect x="247.5" y="137.65" width="28" height="28.03" fill="#d7be28"/><rect x="275" y="137.65" width="28" height="28.03" fill="#3f6eff"/><rect x="302.5" y="137.65" width="28" height="28.03" fill="#484ef1"/><rect x="330" y="137.65" width="83" height="28.03" fill="#3f6eff"/><rect x="412.5" y="137.65" width="28" height="28.03" fill="#484ef1"/><rect x="440" y="137.65" width="28" height="28.03" fill="#4330c5"/><rect x="467.5" y="137.65" width="28" height="28.03" fill="#484ef1"/><rect x="495" y="137.65" width="28" height="28.03" fill="#2895ec"/><rect x="522.5" y="137.65" width="55.5" height="28.03" fill="#0ab4d2"/><rect x="-27.5" y="165.18" width="248" height="28.03" fill="#fdcc32"/><rect x="220" y="165.18" width="28" height="28.03" fill="#d7be28"/><rect x="247.5" y="165.18" width="28" height="28.03" fill="#3f6eff"/><rect x="275" y="165.18" width="28" height="28.03" fill="#2895ec"/><rect x="302.5" y="165.18" width="28" height="28.03" fill="#2fc5a2"/><rect x="330" y="165.18" width="55.5" height="28.03" fill="#7acc5d"/><rect x="385" y="165.18" width="28" height="28.03" fill="#2fc5a2"/><rect x="412.5" y="165.18" width="28" height="28.03" fill="#0ab4d2"/><rect x="440" y="165.18" width="28" height="28.03" fill="#484ef1"/><rect x="467.5" y="165.18" width="28" height="28.03" fill="#4330c5"/><rect x="495" y="165.18" width="28" height="28.03" fill="#2895ec"/><rect x="522.5" y="165.18" width="55.5" height="28.03" fill="#0ab4d2"/><rect x="-27.5" y="192.71" width="220.5" height="28.03" fill="#fdcc32"/><rect x="192.5" y="192.71" width="28" height="28.03" fill="#0ab4d2"/><rect x="220" y="192.71" width="28" height="28.03" fill="#4330c5"/><rect x="247.5" y="192.71" width="28" height="28.03" fill="#3f6eff"/><rect x="275" y="192.71" width="28" height="28.03" fill="#2fc5a2"/><rect x="302.5" y="192.71" width="28" height="28.03" fill="#7acc5d"/><rect x="330" y="192.71" width="55.5" height="28.03" fill="#d7be28"/><rect x="385" y="192.71" width="28" height="28.03" fill="#7acc5d"/><rect x="412.5" y="192.71" width="28" height="28.03" fill="#2fc5a2"/><rect x="440" y="192.71" width="28" height="28.03" fill="#2895ec"/><rect x="467.5" y="192.71" width="28" height="28.03" fill="#4330c5"/><rect x="495" y="192.71" width="28" height="28.03" fill="#2895ec"/><rect x="522.5" y="192.71" width="55.5" height="28.03" fill="#0ab4d2"/><rect x="-27.5" y="220.24" width="193" height="28.03" fill="#fdcc32"/><rect x="165" y="220.24" width="28" height="28.03" fill="#7acc5d"/><rect x="192.5" y="220.24" width="55.5" height="28.03" fill="#484ef1"/><rect x="247.5" y="220.24" width="28" height="28.03" fill="#2fc5a2"/><rect x="275" y="220.24" width="28" height="28.03" fill="#d7be28"/><rect x="302.5" y="220.24" width="83" height="28.03" fill="#fdcc32"/><rect x="385" y="220.24" width="28" height="28.03" fill="#d7be28"/><rect x="412.5" y="220.24" width="28" height="28.03" fill="#7acc5d"/><rect x="440" y="220.24" width="28" height="28.03" fill="#0ab4d2"/><rect x="467.5" y="220.24" width="28" height="28.03" fill="#484ef1"/><rect x="495" y="220.24" width="28" height="28.03" fill="#2895ec"/><rect x="522.5" y="220.24" width="55.5" height="28.03" fill="#0ab4d2"/><rect x="-27.5" y="247.76" width="110.5" height="28.03" fill="#fdcc32"/><rect x="82.5" y="247.76" width="28" height="28.03" fill="#d7be28"/><rect x="110" y="247.76" width="28" height="28.03" fill="#2fc5a2"/><rect x="137.5" y="247.76" width="55.5" height="28.03" fill="#3f6eff"/><rect x="192.5" y="247.76" width="28" height="28.03" fill="#7acc5d"/><rect x="220" y="247.76" width="83" height="28.03" fill="#fdcc32"/><rect x="302.5" y="247.76" width="28" height="28.03" fill="#7acc5d"/><rect x="330" y="247.76" width="28" height="28.03" fill="#2895ec"/><rect x="357.5" y="247.76" width="83" height="28.03" fill="#3f6eff"/><rect x="440" y="247.76" width="28" height="28.03" fill="#484ef1"/><rect x="467.5" y="247.76" width="28" height="28.03" fill="#4330c5"/><rect x="495" y="247.76" width="28" height="28.03" fill="#3f6eff"/><rect x="522.5" y="247.76" width="55.5" height="28.03" fill="#0ab4d2"/><rect x="-27.5" y="275.29" width="55.5" height="28.03" fill="#0ab4d2"/><rect x="27.5" y="275.29" width="28" height="28.03" fill="#484ef1"/><rect x="55" y="275.29" width="110.5" height="28.03" fill="#4330c5"/><rect x="165" y="275.29" width="28" height="28.03" fill="#3f6eff"/><rect x="192.5" y="275.29" width="28" height="28.03" fill="#7acc5d"/><rect x="220" y="275.29" width="55.5" height="28.03" fill="#fdcc32"/><rect x="275" y="275.29" width="28" height="28.03" fill="#d7be28"/><rect x="302.5" y="275.29" width="28" height="28.03" fill="#3f6eff"/><rect x="330" y="275.29" width="28" height="28.03" fill="#4330c5"/><rect x="357.5" y="275.29" width="28" height="28.03" fill="#484ef1"/><rect x="385" y="275.29" width="28" height="28.03" fill="#3f6eff"/><rect x="412.5" y="275.29" width="28" height="28.03" fill="#484ef1"/><rect x="440" y="275.29" width="28" height="28.03" fill="#4330c5"/><rect x="467.5" y="275.29" width="55.5" height="28.03" fill="#3f6eff"/><rect x="522.5" y="275.29" width="55.5" height="28.03" fill="#0ab4d2"/><rect x="-27.5" y="302.82" width="55.5" height="28.03" fill="#0ab4d2"/><rect x="27.5" y="302.82" width="138" height="28.03" fill="#4330c5"/><rect x="165" y="302.82" width="28" height="28.03" fill="#3f6eff"/><rect x="192.5" y="302.82" width="28" height="28.03" fill="#7acc5d"/><rect x="220" y="302.82" width="55.5" height="28.03" fill="#fdcc32"/><rect x="275" y="302.82" width="28" height="28.03" fill="#7acc5d"/><rect x="302.5" y="302.82" width="55.5" height="28.03" fill="#484ef1"/><rect x="357.5" y="302.82" width="28" height="28.03" fill="#2895ec"/><rect x="385" y="302.82" width="28" height="28.03" fill="#3f6eff"/><rect x="412.5" y="302.82" width="28" height="28.03" fill="#4330c5"/><rect x="440" y="302.82" width="28" height="28.03" fill="#3f6eff"/><rect x="467.5" y="302.82" width="28" height="28.03" fill="#0ab4d2"/><rect x="495" y="302.82" width="28" height="28.03" fill="#3f6eff"/><rect x="522.5" y="302.82" width="55.5" height="28.03" fill="#0ab4d2"/><rect x="-27.5" y="330.35" width="55.5" height="28.03" fill="#0ab4d2"/><rect x="27.5" y="330.35" width="138" height="28.03" fill="#4330c5"/><rect x="165" y="330.35" width="28" height="28.03" fill="#3f6eff"/><rect x="192.5" y="330.35" width="28" height="28.03" fill="#7acc5d"/><rect x="220" y="330.35" width="55.5" height="28.03" fill="#fdcc32"/><rect x="275" y="330.35" width="28" height="28.03" fill="#2fc5a2"/><rect x="302.5" y="330.35" width="28" height="28.03" fill="#484ef1"/><rect x="330" y="330.35" width="28" height="28.03" fill="#4330c5"/><rect x="357.5" y="330.35" width="83" height="28.03" fill="#484ef1"/><rect x="440" y="330.35" width="28" height="28.03" fill="#0ab4d2"/><rect x="467.5" y="330.35" width="28" height="28.03" fill="#7acc5d"/><rect x="495" y="330.35" width="28" height="28.03" fill="#3f6eff"/><rect x="522.5" y="330.35" width="55.5" height="28.03" fill="#0ab4d2"/><rect x="-27.5" y="357.88" width="55.5" height="28.03" fill="#0ab4d2"/><rect x="27.5" y="357.88" width="28" height="28.03" fill="#484ef1"/><rect x="55" y="357.88" width="110.5" height="28.03" fill="#4330c5"/><rect x="165" y="357.88" width="28" height="28.03" fill="#3f6eff"/><rect x="192.5" y="357.88" width="28" height="28.03" fill="#2fc5a2"/><rect x="220" y="357.88" width="55.5" height="28.03" fill="#d7be28"/><rect x="275" y="357.88" width="28" height="28.03" fill="#2895ec"/><rect x="302.5" y="357.88" width="83" height="28.03" fill="#4330c5"/><rect x="385" y="357.88" width="28" height="28.03" fill="#484ef1"/><rect x="412.5" y="357.88" width="28" height="28.03" fill="#0ab4d2"/><rect x="440" y="357.88" width="55.5" height="28.03" fill="#d7be28"/><rect x="495" y="357.88" width="28" height="28.03" fill="#3f6eff"/><rect x="522.5" y="357.88" width="55.5" height="28.03" fill="#0ab4d2"/><rect x="-27.5" y="385.41" width="55.5" height="28.03" fill="#0ab4d2"/><rect x="27.5" y="385.41" width="28" height="28.03" fill="#2895ec"/><rect x="55" y="385.41" width="28" height="28.03" fill="#484ef1"/><rect x="82.5" y="385.41" width="83" height="28.03" fill="#4330c5"/><rect x="165" y="385.41" width="28" height="28.03" fill="#484ef1"/><rect x="192.5" y="385.41" width="28" height="28.03" fill="#3f6eff"/><rect x="220" y="385.41" width="28" height="28.03" fill="#2895ec"/><rect x="247.5" y="385.41" width="28" height="28.03" fill="#3f6eff"/><rect x="275" y="385.41" width="83" height="28.03" fill="#4330c5"/><rect x="357.5" y="385.41" width="28" height="28.03" fill="#3f6eff"/><rect x="385" y="385.41" width="28" height="28.03" fill="#0ab4d2"/><rect x="412.5" y="385.41" width="28" height="28.03" fill="#7acc5d"/><rect x="440" y="385.41" width="28" height="28.03" fill="#d7be28"/><rect x="467.5" y="385.41" width="28" height="28.03" fill="#7acc5d"/><rect x="495" y="385.41" width="28" height="28.03" fill="#3f6eff"/><rect x="522.5" y="385.41" width="55.5" height="28.03" fill="#0ab4d2"/><rect x="-27.5" y="412.94" width="83" height="28.03" fill="#2fc5a2"/><rect x="55" y="412.94" width="28" height="28.03" fill="#0ab4d2"/><rect x="82.5" y="412.94" width="28" height="28.03" fill="#2895ec"/><rect x="110" y="412.94" width="28" height="28.03" fill="#3f6eff"/><rect x="137.5" y="412.94" width="28" height="28.03" fill="#484ef1"/><rect x="165" y="412.94" width="110.5" height="28.03" fill="#4330c5"/><rect x="275" y="412.94" width="28" height="28.03" fill="#484ef1"/><rect x="302.5" y="412.94" width="28" height="28.03" fill="#2895ec"/><rect x="330" y="412.94" width="165.5" height="28.03" fill="#2fc5a2"/><rect x="495" y="412.94" width="28" height="28.03" fill="#484ef1"/><rect x="522.5" y="412.94" width="55.5" height="28.03" fill="#0ab4d2"/><rect x="-27.5" y="440.47" width="523" height="28.03" fill="#2895ec"/><rect x="495" y="440.47" width="28" height="28.03" fill="#484ef1"/><rect x="522.5" y="440.47" width="55.5" height="28.03" fill="#2895ec"/><rect x="-27.5" y="468" width="523" height="28.03" fill="#2895ec"/><rect x="495" y="468" width="28" height="28.03" fill="#484ef1"/><rect x="522.5" y="468" width="55.5" height="28.03" fill="#2895ec"/></g><filter id="o73" filterUnits="userSpaceOnUse" x="-100" y="-100" width="750" height="668"><feGaussianBlur stdDeviation="1.5"/></filter><g filter="url(#o73)"><line x1="15" y1="13" x2="550" y2="468" stroke="#b88a3a" stroke-width="3"/></g><filter id="o74" filterUnits="userSpaceOnUse" x="-100" y="-100" width="750" height="668"><feGaussianBlur stdDeviation="2.5"/></filter><g filter="url(#o74)"><line x1="507" y1="0" x2="507" y2="468" stroke="#4330c5" stroke-width="9"/></g><filter id="o75" filterUnits="userSpaceOnUse" x="-100" y="-100" width="750" height="668"><feGaussianBlur stdDeviation="2.5"/></filter><g filter="url(#o75)"><line x1="0" y1="446" x2="550" y2="446" stroke="#4330c5" stroke-width="9"/></g><filter id="o76" filterUnits="userSpaceOnUse" x="-100" y="-100" width="750" height="668"><feGaussianBlur stdDeviation="4"/></filter><g filter="url(#o76)"><path d="M 314,25 C 322,17 324,10 351,12 C 378,14 448,21 474,37 C 500,53 501,77 506,110 C 511,143 511,200 506,233 C 501,266 492,282 474,307 C 456,332 435,360 400,380 C 365,400 308,421 265,429 C 222,437 179,437 142,429 C 105,421 64,400 43,380 C 22,360 18,330 18,307 C 18,284 22,259 43,245 C 64,231 113,229 142,221 C 171,213 192,210 215,196 C 238,182 262,158 277,135 C 292,112 296,79 302,61 C 308,43 306,33 314,25 Z" fill="none" stroke="#4330c5" stroke-width="16" stroke-linecap="round" stroke-linejoin="round"/></g></svg>
<svg class="cb" style="left:314.1px;top:205px;width:5px;height:68.3px" viewBox="0 0 10 100" preserveAspectRatio="none"><rect width="10" height="100" fill="url(#pg)"/></svg>
<svg class="hm" style="left:339.3px;top:205px;width:79.2px;height:68.3px" viewBox="0 0 550 468" preserveAspectRatio="none"><filter id="f14" x="-10%" y="-10%" width="120%" height="120%"><feGaussianBlur stdDeviation="12"/></filter><g filter="url(#f14)"><rect x="-27.5" y="-27.53" width="358" height="28.03" fill="#2895ec"/><rect x="330" y="-27.53" width="55.5" height="28.03" fill="#0ab4d2"/><rect x="385" y="-27.53" width="193" height="28.03" fill="#2895ec"/><rect x="-27.5" y="0" width="358" height="28.03" fill="#2895ec"/><rect x="330" y="0" width="55.5" height="28.03" fill="#0ab4d2"/><rect x="385" y="0" width="193" height="28.03" fill="#2895ec"/><rect x="-27.5" y="27.53" width="55.5" height="28.03" fill="#2895ec"/><rect x="27.5" y="27.53" width="28" height="28.03" fill="#7acc5d"/><rect x="55" y="27.53" width="28" height="28.03" fill="#d7be28"/><rect x="82.5" y="27.53" width="28" height="28.03" fill="#2fc5a2"/><rect x="110" y="27.53" width="28" height="28.03" fill="#0ab4d2"/><rect x="137.5" y="27.53" width="28" height="28.03" fill="#2895ec"/><rect x="165" y="27.53" width="55.5" height="28.03" fill="#3f6eff"/><rect x="220" y="27.53" width="55.5" height="28.03" fill="#2895ec"/><rect x="275" y="27.53" width="28" height="28.03" fill="#3f6eff"/><rect x="302.5" y="27.53" width="28" height="28.03" fill="#484ef1"/><rect x="330" y="27.53" width="248" height="28.03" fill="#4330c5"/><rect x="-27.5" y="55.06" width="55.5" height="28.03" fill="#2895ec"/><rect x="27.5" y="55.06" width="55.5" height="28.03" fill="#fdcc32"/><rect x="82.5" y="55.06" width="28" height="28.03" fill="#0ab4d2"/><rect x="110" y="55.06" width="28" height="28.03" fill="#3f6eff"/><rect x="137.5" y="55.06" width="55.5" height="28.03" fill="#2895ec"/><rect x="192.5" y="55.06" width="83" height="28.03" fill="#0ab4d2"/><rect x="275" y="55.06" width="28" height="28.03" fill="#2895ec"/><rect x="302.5" y="55.06" width="28" height="28.03" fill="#484ef1"/><rect x="330" y="55.06" width="248" height="28.03" fill="#4330c5"/><rect x="-27.5" y="82.59" width="55.5" height="28.03" fill="#2895ec"/><rect x="27.5" y="82.59" width="28" height="28.03" fill="#d7be28"/><rect x="55" y="82.59" width="28" height="28.03" fill="#7acc5d"/><rect x="82.5" y="82.59" width="28" height="28.03" fill="#2895ec"/><rect x="110" y="82.59" width="28" height="28.03" fill="#3f6eff"/><rect x="137.5" y="82.59" width="138" height="28.03" fill="#0ab4d2"/><rect x="275" y="82.59" width="28" height="28.03" fill="#2895ec"/><rect x="302.5" y="82.59" width="28" height="28.03" fill="#484ef1"/><rect x="330" y="82.59" width="248" height="28.03" fill="#4330c5"/><rect x="-27.5" y="110.12" width="55.5" height="28.03" fill="#2895ec"/><rect x="27.5" y="110.12" width="28" height="28.03" fill="#0ab4d2"/><rect x="55" y="110.12" width="28" height="28.03" fill="#3f6eff"/><rect x="82.5" y="110.12" width="28" height="28.03" fill="#484ef1"/><rect x="110" y="110.12" width="28" height="28.03" fill="#2895ec"/><rect x="137.5" y="110.12" width="28" height="28.03" fill="#0ab4d2"/><rect x="165" y="110.12" width="28" height="28.03" fill="#484ef1"/><rect x="192.5" y="110.12" width="83" height="28.03" fill="#0ab4d2"/><rect x="275" y="110.12" width="28" height="28.03" fill="#2895ec"/><rect x="302.5" y="110.12" width="28" height="28.03" fill="#484ef1"/><rect x="330" y="110.12" width="248" height="28.03" fill="#4330c5"/><rect x="-27.5" y="137.65" width="55.5" height="28.03" fill="#2895ec"/><rect x="27.5" y="137.65" width="28" height="28.03" fill="#3f6eff"/><rect x="55" y="137.65" width="28" height="28.03" fill="#484ef1"/><rect x="82.5" y="137.65" width="28" height="28.03" fill="#3f6eff"/><rect x="110" y="137.65" width="110.5" height="28.03" fill="#0ab4d2"/><rect x="220" y="137.65" width="28" height="28.03" fill="#2895ec"/><rect x="247.5" y="137.65" width="28" height="28.03" fill="#0ab4d2"/><rect x="275" y="137.65" width="28" height="28.03" fill="#3f6eff"/><rect x="302.5" y="137.65" width="275.5" height="28.03" fill="#4330c5"/><rect x="-27.5" y="165.18" width="55.5" height="28.03" fill="#2895ec"/><rect x="27.5" y="165.18" width="55.5" height="28.03" fill="#484ef1"/><rect x="82.5" y="165.18" width="28" height="28.03" fill="#2895ec"/><rect x="110" y="165.18" width="83" height="28.03" fill="#0ab4d2"/><rect x="192.5" y="165.18" width="28" height="28.03" fill="#2895ec"/><rect x="220" y="165.18" width="28" height="28.03" fill="#484ef1"/><rect x="247.5" y="165.18" width="28" height="28.03" fill="#2895ec"/><rect x="275" y="165.18" width="28" height="28.03" fill="#3f6eff"/><rect x="302.5" y="165.18" width="275.5" height="28.03" fill="#4330c5"/><rect x="-27.5" y="192.71" width="55.5" height="28.03" fill="#2895ec"/><rect x="27.5" y="192.71" width="28" height="28.03" fill="#484ef1"/><rect x="55" y="192.71" width="28" height="28.03" fill="#3f6eff"/><rect x="82.5" y="192.71" width="110.5" height="28.03" fill="#0ab4d2"/><rect x="192.5" y="192.71" width="28" height="28.03" fill="#2895ec"/><rect x="220" y="192.71" width="83" height="28.03" fill="#484ef1"/><rect x="302.5" y="192.71" width="275.5" height="28.03" fill="#4330c5"/><rect x="-27.5" y="220.24" width="55.5" height="28.03" fill="#2895ec"/><rect x="27.5" y="220.24" width="28" height="28.03" fill="#484ef1"/><rect x="55" y="220.24" width="28" height="28.03" fill="#3f6eff"/><rect x="82.5" y="220.24" width="110.5" height="28.03" fill="#2895ec"/><rect x="192.5" y="220.24" width="28" height="28.03" fill="#3f6eff"/><rect x="220" y="220.24" width="55.5" height="28.03" fill="#484ef1"/><rect x="275" y="220.24" width="303" height="28.03" fill="#4330c5"/><rect x="-27.5" y="247.76" width="55.5" height="28.03" fill="#2895ec"/><rect x="27.5" y="247.76" width="83" height="28.03" fill="#484ef1"/><rect x="110" y="247.76" width="55.5" height="28.03" fill="#3f6eff"/><rect x="165" y="247.76" width="55.5" height="28.03" fill="#484ef1"/><rect x="220" y="247.76" width="358" height="28.03" fill="#4330c5"/><rect x="-27.5" y="275.29" width="55.5" height="28.03" fill="#3f6eff"/><rect x="27.5" y="275.29" width="28" height="28.03" fill="#484ef1"/><rect x="55" y="275.29" width="523" height="28.03" fill="#4330c5"/><rect x="-27.5" y="302.82" width="55.5" height="28.03" fill="#3f6eff"/><rect x="27.5" y="302.82" width="28" height="28.03" fill="#484ef1"/><rect x="55" y="302.82" width="523" height="28.03" fill="#4330c5"/><rect x="-27.5" y="330.35" width="55.5" height="28.03" fill="#3f6eff"/><rect x="27.5" y="330.35" width="28" height="28.03" fill="#484ef1"/><rect x="55" y="330.35" width="413" height="28.03" fill="#4330c5"/><rect x="467.5" y="330.35" width="55.5" height="28.03" fill="#484ef1"/><rect x="522.5" y="330.35" width="55.5" height="28.03" fill="#4330c5"/><rect x="-27.5" y="357.88" width="55.5" height="28.03" fill="#3f6eff"/><rect x="27.5" y="357.88" width="28" height="28.03" fill="#484ef1"/><rect x="55" y="357.88" width="358" height="28.03" fill="#4330c5"/><rect x="412.5" y="357.88" width="55.5" height="28.03" fill="#3f6eff"/><rect x="467.5" y="357.88" width="28" height="28.03" fill="#484ef1"/><rect x="495" y="357.88" width="83" height="28.03" fill="#4330c5"/><rect x="-27.5" y="385.41" width="55.5" height="28.03" fill="#3f6eff"/><rect x="27.5" y="385.41" width="28" height="28.03" fill="#484ef1"/><rect x="55" y="385.41" width="330.5" height="28.03" fill="#4330c5"/><rect x="385" y="385.41" width="55.5" height="28.03" fill="#484ef1"/><rect x="440" y="385.41" width="138" height="28.03" fill="#4330c5"/><rect x="-27.5" y="412.94" width="55.5" height="28.03" fill="#3f6eff"/><rect x="27.5" y="412.94" width="28" height="28.03" fill="#484ef1"/><rect x="55" y="412.94" width="523" height="28.03" fill="#4330c5"/><rect x="-27.5" y="440.47" width="55.5" height="28.03" fill="#3f6eff"/><rect x="27.5" y="440.47" width="28" height="28.03" fill="#484ef1"/><rect x="55" y="440.47" width="523" height="28.03" fill="#4330c5"/><rect x="-27.5" y="468" width="55.5" height="28.03" fill="#3f6eff"/><rect x="27.5" y="468" width="28" height="28.03" fill="#484ef1"/><rect x="55" y="468" width="523" height="28.03" fill="#4330c5"/></g><filter id="o77" filterUnits="userSpaceOnUse" x="-100" y="-100" width="750" height="668"><feGaussianBlur stdDeviation="1.5"/></filter><g filter="url(#o77)"><linearGradient id="go77" x1="0" y1="0" x2="1" y2="0"><stop offset="0" stop-color="#2895ec"/><stop offset="0.58" stop-color="#2895ec"/><stop offset="0.62" stop-color="#7acc5d"/><stop offset="0.66" stop-color="#2895ec"/><stop offset="1" stop-color="#2895ec"/></linearGradient><rect x="0" y="0" width="550" height="12" fill="url(#go77)"/></g><filter id="o78" filterUnits="userSpaceOnUse" x="-100" y="-100" width="750" height="668"><feGaussianBlur stdDeviation="1.5"/></filter><g filter="url(#o78)"><rect x="0" y="0" width="9" height="468" fill="#0ab4d2"/></g></svg>
<svg class="cb" style="left:420.2px;top:205px;width:5.4px;height:68.3px" viewBox="0 0 10 100" preserveAspectRatio="none"><rect width="10" height="100" fill="url(#pg)"/></svg>
<svg class="hm" style="left:15.3px;top:308.5px;width:79.5px;height:67.9px" viewBox="0 0 550 468" preserveAspectRatio="none"><filter id="f16" x="-10%" y="-10%" width="120%" height="120%"><feGaussianBlur stdDeviation="12"/></filter><g filter="url(#f16)"><rect x="-27.5" y="-27.53" width="55.5" height="28.03" fill="#3f6eff"/><rect x="27.5" y="-27.53" width="28" height="28.03" fill="#d7be28"/><rect x="55" y="-27.53" width="248" height="28.03" fill="#fdcc32"/><rect x="302.5" y="-27.53" width="28" height="28.03" fill="#2fc5a2"/><rect x="330" y="-27.53" width="248" height="28.03" fill="#0ab4d2"/><rect x="-27.5" y="0" width="55.5" height="28.03" fill="#3f6eff"/><rect x="27.5" y="0" width="28" height="28.03" fill="#d7be28"/><rect x="55" y="0" width="248" height="28.03" fill="#fdcc32"/><rect x="302.5" y="0" width="28" height="28.03" fill="#2fc5a2"/><rect x="330" y="0" width="248" height="28.03" fill="#0ab4d2"/><rect x="-27.5" y="27.53" width="55.5" height="28.03" fill="#3f6eff"/><rect x="27.5" y="27.53" width="28" height="28.03" fill="#7acc5d"/><rect x="55" y="27.53" width="28" height="28.03" fill="#0ab4d2"/><rect x="82.5" y="27.53" width="138" height="28.03" fill="#2895ec"/><rect x="220" y="27.53" width="55.5" height="28.03" fill="#0ab4d2"/><rect x="275" y="27.53" width="28" height="28.03" fill="#3f6eff"/><rect x="302.5" y="27.53" width="28" height="28.03" fill="#484ef1"/><rect x="330" y="27.53" width="248" height="28.03" fill="#4330c5"/><rect x="-27.5" y="55.06" width="55.5" height="28.03" fill="#3f6eff"/><rect x="27.5" y="55.06" width="28" height="28.03" fill="#7acc5d"/><rect x="55" y="55.06" width="28" height="28.03" fill="#d7be28"/><rect x="82.5" y="55.06" width="28" height="28.03" fill="#0ab4d2"/><rect x="110" y="55.06" width="28" height="28.03" fill="#484ef1"/><rect x="137.5" y="55.06" width="28" height="28.03" fill="#2895ec"/><rect x="165" y="55.06" width="28" height="28.03" fill="#0ab4d2"/><rect x="192.5" y="55.06" width="83" height="28.03" fill="#2fc5a2"/><rect x="275" y="55.06" width="28" height="28.03" fill="#0ab4d2"/><rect x="302.5" y="55.06" width="28" height="28.03" fill="#3f6eff"/><rect x="330" y="55.06" width="248" height="28.03" fill="#4330c5"/><rect x="-27.5" y="82.59" width="55.5" height="28.03" fill="#3f6eff"/><rect x="27.5" y="82.59" width="28" height="28.03" fill="#7acc5d"/><rect x="55" y="82.59" width="28" height="28.03" fill="#2fc5a2"/><rect x="82.5" y="82.59" width="28" height="28.03" fill="#484ef1"/><rect x="110" y="82.59" width="28" height="28.03" fill="#2895ec"/><rect x="137.5" y="82.59" width="28" height="28.03" fill="#2fc5a2"/><rect x="165" y="82.59" width="83" height="28.03" fill="#7acc5d"/><rect x="247.5" y="82.59" width="28" height="28.03" fill="#2fc5a2"/><rect x="275" y="82.59" width="28" height="28.03" fill="#0ab4d2"/><rect x="302.5" y="82.59" width="28" height="28.03" fill="#484ef1"/><rect x="330" y="82.59" width="248" height="28.03" fill="#4330c5"/><rect x="-27.5" y="110.12" width="55.5" height="28.03" fill="#3f6eff"/><rect x="27.5" y="110.12" width="28" height="28.03" fill="#2fc5a2"/><rect x="55" y="110.12" width="28" height="28.03" fill="#484ef1"/><rect x="82.5" y="110.12" width="28" height="28.03" fill="#3f6eff"/><rect x="110" y="110.12" width="28" height="28.03" fill="#2fc5a2"/><rect x="137.5" y="110.12" width="110.5" height="28.03" fill="#7acc5d"/><rect x="247.5" y="110.12" width="28" height="28.03" fill="#2fc5a2"/><rect x="275" y="110.12" width="28" height="28.03" fill="#2895ec"/><rect x="302.5" y="110.12" width="28" height="28.03" fill="#484ef1"/><rect x="330" y="110.12" width="248" height="28.03" fill="#4330c5"/><rect x="-27.5" y="137.65" width="55.5" height="28.03" fill="#3f6eff"/><rect x="27.5" y="137.65" width="55.5" height="28.03" fill="#484ef1"/><rect x="82.5" y="137.65" width="28" height="28.03" fill="#0ab4d2"/><rect x="110" y="137.65" width="28" height="28.03" fill="#2fc5a2"/><rect x="137.5" y="137.65" width="28" height="28.03" fill="#7acc5d"/><rect x="165" y="137.65" width="28" height="28.03" fill="#0ab4d2"/><rect x="192.5" y="137.65" width="28" height="28.03" fill="#2fc5a2"/><rect x="220" y="137.65" width="28" height="28.03" fill="#7acc5d"/><rect x="247.5" y="137.65" width="28" height="28.03" fill="#0ab4d2"/><rect x="275" y="137.65" width="28" height="28.03" fill="#3f6eff"/><rect x="302.5" y="137.65" width="275.5" height="28.03" fill="#4330c5"/><rect x="-27.5" y="165.18" width="55.5" height="28.03" fill="#3f6eff"/><rect x="27.5" y="165.18" width="28" height="28.03" fill="#484ef1"/><rect x="55" y="165.18" width="28" height="28.03" fill="#2895ec"/><rect x="82.5" y="165.18" width="28" height="28.03" fill="#2fc5a2"/><rect x="110" y="165.18" width="110.5" height="28.03" fill="#7acc5d"/><rect x="220" y="165.18" width="28" height="28.03" fill="#2fc5a2"/><rect x="247.5" y="165.18" width="28" height="28.03" fill="#0ab4d2"/><rect x="275" y="165.18" width="28" height="28.03" fill="#2895ec"/><rect x="302.5" y="165.18" width="28" height="28.03" fill="#484ef1"/><rect x="330" y="165.18" width="248" height="28.03" fill="#4330c5"/><rect x="-27.5" y="192.71" width="55.5" height="28.03" fill="#3f6eff"/><rect x="27.5" y="192.71" width="28" height="28.03" fill="#484ef1"/><rect x="55" y="192.71" width="28" height="28.03" fill="#0ab4d2"/><rect x="82.5" y="192.71" width="28" height="28.03" fill="#2fc5a2"/><rect x="110" y="192.71" width="55.5" height="28.03" fill="#7acc5d"/><rect x="165" y="192.71" width="28" height="28.03" fill="#2fc5a2"/><rect x="192.5" y="192.71" width="28" height="28.03" fill="#0ab4d2"/><rect x="220" y="192.71" width="28" height="28.03" fill="#2895ec"/><rect x="247.5" y="192.71" width="28" height="28.03" fill="#484ef1"/><rect x="275" y="192.71" width="303" height="28.03" fill="#4330c5"/><rect x="-27.5" y="220.24" width="55.5" height="28.03" fill="#3f6eff"/><rect x="27.5" y="220.24" width="28" height="28.03" fill="#484ef1"/><rect x="55" y="220.24" width="28" height="28.03" fill="#0ab4d2"/><rect x="82.5" y="220.24" width="110.5" height="28.03" fill="#2fc5a2"/><rect x="192.5" y="220.24" width="28" height="28.03" fill="#0ab4d2"/><rect x="220" y="220.24" width="28" height="28.03" fill="#2895ec"/><rect x="247.5" y="220.24" width="55.5" height="28.03" fill="#484ef1"/><rect x="302.5" y="220.24" width="275.5" height="28.03" fill="#4330c5"/><rect x="-27.5" y="247.76" width="55.5" height="28.03" fill="#3f6eff"/><rect x="27.5" y="247.76" width="28" height="28.03" fill="#484ef1"/><rect x="55" y="247.76" width="138" height="28.03" fill="#2895ec"/><rect x="192.5" y="247.76" width="28" height="28.03" fill="#3f6eff"/><rect x="220" y="247.76" width="83" height="28.03" fill="#484ef1"/><rect x="302.5" y="247.76" width="275.5" height="28.03" fill="#4330c5"/><rect x="-27.5" y="275.29" width="55.5" height="28.03" fill="#3f6eff"/><rect x="27.5" y="275.29" width="275.5" height="28.03" fill="#484ef1"/><rect x="302.5" y="275.29" width="275.5" height="28.03" fill="#4330c5"/><rect x="-27.5" y="302.82" width="55.5" height="28.03" fill="#3f6eff"/><rect x="27.5" y="302.82" width="28" height="28.03" fill="#484ef1"/><rect x="55" y="302.82" width="193" height="28.03" fill="#4330c5"/><rect x="247.5" y="302.82" width="55.5" height="28.03" fill="#484ef1"/><rect x="302.5" y="302.82" width="275.5" height="28.03" fill="#4330c5"/><rect x="-27.5" y="330.35" width="55.5" height="28.03" fill="#3f6eff"/><rect x="27.5" y="330.35" width="28" height="28.03" fill="#484ef1"/><rect x="55" y="330.35" width="193" height="28.03" fill="#4330c5"/><rect x="247.5" y="330.35" width="55.5" height="28.03" fill="#484ef1"/><rect x="302.5" y="330.35" width="275.5" height="28.03" fill="#4330c5"/><rect x="-27.5" y="357.88" width="55.5" height="28.03" fill="#3f6eff"/><rect x="27.5" y="357.88" width="28" height="28.03" fill="#484ef1"/><rect x="55" y="357.88" width="193" height="28.03" fill="#4330c5"/><rect x="247.5" y="357.88" width="55.5" height="28.03" fill="#484ef1"/><rect x="302.5" y="357.88" width="83" height="28.03" fill="#4330c5"/><rect x="385" y="357.88" width="83" height="28.03" fill="#484ef1"/><rect x="467.5" y="357.88" width="110.5" height="28.03" fill="#4330c5"/><rect x="-27.5" y="385.41" width="55.5" height="28.03" fill="#3f6eff"/><rect x="27.5" y="385.41" width="28" height="28.03" fill="#484ef1"/><rect x="55" y="385.41" width="193" height="28.03" fill="#4330c5"/><rect x="247.5" y="385.41" width="55.5" height="28.03" fill="#484ef1"/><rect x="302.5" y="385.41" width="110.5" height="28.03" fill="#4330c5"/><rect x="412.5" y="385.41" width="55.5" height="28.03" fill="#484ef1"/><rect x="467.5" y="385.41" width="110.5" height="28.03" fill="#4330c5"/><rect x="-27.5" y="412.94" width="55.5" height="28.03" fill="#3f6eff"/><rect x="27.5" y="412.94" width="28" height="28.03" fill="#484ef1"/><rect x="55" y="412.94" width="220.5" height="28.03" fill="#4330c5"/><rect x="275" y="412.94" width="28" height="28.03" fill="#484ef1"/><rect x="302.5" y="412.94" width="275.5" height="28.03" fill="#4330c5"/><rect x="-27.5" y="440.47" width="55.5" height="28.03" fill="#3f6eff"/><rect x="27.5" y="440.47" width="28" height="28.03" fill="#484ef1"/><rect x="55" y="440.47" width="523" height="28.03" fill="#4330c5"/><rect x="-27.5" y="468" width="55.5" height="28.03" fill="#3f6eff"/><rect x="27.5" y="468" width="28" height="28.03" fill="#484ef1"/><rect x="55" y="468" width="523" height="28.03" fill="#4330c5"/></g><filter id="o79" filterUnits="userSpaceOnUse" x="-100" y="-100" width="750" height="668"><feGaussianBlur stdDeviation="1.5"/></filter><g filter="url(#o79)"><linearGradient id="go79" x1="0" y1="0" x2="1" y2="0"><stop offset="0" stop-color="#2895ec"/><stop offset="0.06" stop-color="#ead44e"/><stop offset="0.55" stop-color="#ead44e"/><stop offset="0.6" stop-color="#2fc5a2"/><stop offset="1" stop-color="#0ab4d2"/></linearGradient><rect x="0" y="0" width="550" height="25" fill="url(#go79)"/></g><filter id="o80" filterUnits="userSpaceOnUse" x="-100" y="-100" width="750" height="668"><feGaussianBlur stdDeviation="2"/></filter><g filter="url(#o80)"><rect x="0" y="25" width="550" height="6" fill="#4330c5"/></g><filter id="o81" filterUnits="userSpaceOnUse" x="-100" y="-100" width="750" height="668"><feGaussianBlur stdDeviation="1.5"/></filter><g filter="url(#o81)"><linearGradient id="go81" x1="0" y1="0" x2="0" y2="1"><stop offset="0" stop-color="#3f6eff"/><stop offset="1" stop-color="#3f6eff"/></linearGradient><rect x="0" y="0" width="24" height="468" fill="url(#go81)"/></g><filter id="o82" filterUnits="userSpaceOnUse" x="-100" y="-100" width="750" height="668"><feGaussianBlur stdDeviation="3.5"/></filter><g filter="url(#o82)"><line x1="31" y1="172" x2="205" y2="34" stroke="#4330c5" stroke-width="13"/></g></svg>
<svg class="cb" style="left:96.4px;top:308.5px;width:5.4px;height:67.9px" viewBox="0 0 10 100" preserveAspectRatio="none"><rect width="10" height="100" fill="url(#pg)"/></svg>
<svg class="hm" style="left:124.1px;top:308.5px;width:78.6px;height:67.9px" viewBox="0 0 550 468" preserveAspectRatio="none"><filter id="f17" x="-10%" y="-10%" width="120%" height="120%"><feGaussianBlur stdDeviation="12"/></filter><g filter="url(#f17)"><rect x="-27.5" y="-27.53" width="55.5" height="28.03" fill="#4330c5"/><rect x="27.5" y="-27.53" width="28" height="28.03" fill="#484ef1"/><rect x="55" y="-27.53" width="28" height="28.03" fill="#7acc5d"/><rect x="82.5" y="-27.53" width="220.5" height="28.03" fill="#d7be28"/><rect x="302.5" y="-27.53" width="165.5" height="28.03" fill="#7acc5d"/><rect x="467.5" y="-27.53" width="55.5" height="28.03" fill="#d7be28"/><rect x="522.5" y="-27.53" width="55.5" height="28.03" fill="#7acc5d"/><rect x="-27.5" y="0" width="55.5" height="28.03" fill="#4330c5"/><rect x="27.5" y="0" width="28" height="28.03" fill="#484ef1"/><rect x="55" y="0" width="28" height="28.03" fill="#7acc5d"/><rect x="82.5" y="0" width="220.5" height="28.03" fill="#d7be28"/><rect x="302.5" y="0" width="165.5" height="28.03" fill="#7acc5d"/><rect x="467.5" y="0" width="55.5" height="28.03" fill="#d7be28"/><rect x="522.5" y="0" width="55.5" height="28.03" fill="#7acc5d"/><rect x="-27.5" y="27.53" width="55.5" height="28.03" fill="#484ef1"/><rect x="27.5" y="27.53" width="28" height="28.03" fill="#0ab4d2"/><rect x="55" y="27.53" width="440.5" height="28.03" fill="#2895ec"/><rect x="495" y="27.53" width="83" height="28.03" fill="#0ab4d2"/><rect x="-27.5" y="55.06" width="55.5" height="28.03" fill="#2fc5a2"/><rect x="27.5" y="55.06" width="468" height="28.03" fill="#2895ec"/><rect x="495" y="55.06" width="83" height="28.03" fill="#0ab4d2"/><rect x="-27.5" y="82.59" width="55.5" height="28.03" fill="#7acc5d"/><rect x="27.5" y="82.59" width="495.5" height="28.03" fill="#2895ec"/><rect x="522.5" y="82.59" width="55.5" height="28.03" fill="#0ab4d2"/><rect x="-27.5" y="110.12" width="55.5" height="28.03" fill="#7acc5d"/><rect x="27.5" y="110.12" width="495.5" height="28.03" fill="#2895ec"/><rect x="522.5" y="110.12" width="55.5" height="28.03" fill="#0ab4d2"/><rect x="-27.5" y="137.65" width="55.5" height="28.03" fill="#d7be28"/><rect x="27.5" y="137.65" width="495.5" height="28.03" fill="#2895ec"/><rect x="522.5" y="137.65" width="55.5" height="28.03" fill="#0ab4d2"/><rect x="-27.5" y="165.18" width="55.5" height="28.03" fill="#fdcc32"/><rect x="27.5" y="165.18" width="275.5" height="28.03" fill="#2895ec"/><rect x="302.5" y="165.18" width="55.5" height="28.03" fill="#0ab4d2"/><rect x="357.5" y="165.18" width="165.5" height="28.03" fill="#2895ec"/><rect x="522.5" y="165.18" width="55.5" height="28.03" fill="#0ab4d2"/><rect x="-27.5" y="192.71" width="55.5" height="28.03" fill="#fdcc32"/><rect x="27.5" y="192.71" width="248" height="28.03" fill="#2895ec"/><rect x="275" y="192.71" width="55.5" height="28.03" fill="#0ab4d2"/><rect x="330" y="192.71" width="193" height="28.03" fill="#2895ec"/><rect x="522.5" y="192.71" width="55.5" height="28.03" fill="#0ab4d2"/><rect x="-27.5" y="220.24" width="55.5" height="28.03" fill="#d7be28"/><rect x="27.5" y="220.24" width="248" height="28.03" fill="#2895ec"/><rect x="275" y="220.24" width="55.5" height="28.03" fill="#0ab4d2"/><rect x="330" y="220.24" width="193" height="28.03" fill="#2895ec"/><rect x="522.5" y="220.24" width="55.5" height="28.03" fill="#0ab4d2"/><rect x="-27.5" y="247.76" width="55.5" height="28.03" fill="#7acc5d"/><rect x="27.5" y="247.76" width="193" height="28.03" fill="#2895ec"/><rect x="220" y="247.76" width="55.5" height="28.03" fill="#0ab4d2"/><rect x="275" y="247.76" width="220.5" height="28.03" fill="#2895ec"/><rect x="495" y="247.76" width="28" height="28.03" fill="#0ab4d2"/><rect x="522.5" y="247.76" width="55.5" height="28.03" fill="#2fc5a2"/><rect x="-27.5" y="275.29" width="55.5" height="28.03" fill="#2fc5a2"/><rect x="27.5" y="275.29" width="165.5" height="28.03" fill="#2895ec"/><rect x="192.5" y="275.29" width="83" height="28.03" fill="#0ab4d2"/><rect x="275" y="275.29" width="193" height="28.03" fill="#2895ec"/><rect x="467.5" y="275.29" width="28" height="28.03" fill="#2fc5a2"/><rect x="495" y="275.29" width="28" height="28.03" fill="#fdcc32"/><rect x="522.5" y="275.29" width="55.5" height="28.03" fill="#d7be28"/><rect x="-27.5" y="302.82" width="55.5" height="28.03" fill="#2fc5a2"/><rect x="27.5" y="302.82" width="440.5" height="28.03" fill="#2895ec"/><rect x="467.5" y="302.82" width="55.5" height="28.03" fill="#d7be28"/><rect x="522.5" y="302.82" width="55.5" height="28.03" fill="#7acc5d"/><rect x="-27.5" y="330.35" width="55.5" height="28.03" fill="#0ab4d2"/><rect x="27.5" y="330.35" width="413" height="28.03" fill="#2895ec"/><rect x="440" y="330.35" width="28" height="28.03" fill="#2fc5a2"/><rect x="467.5" y="330.35" width="28" height="28.03" fill="#7acc5d"/><rect x="495" y="330.35" width="83" height="28.03" fill="#2fc5a2"/><rect x="-27.5" y="357.88" width="55.5" height="28.03" fill="#0ab4d2"/><rect x="27.5" y="357.88" width="385.5" height="28.03" fill="#2895ec"/><rect x="412.5" y="357.88" width="28" height="28.03" fill="#2fc5a2"/><rect x="440" y="357.88" width="28" height="28.03" fill="#7acc5d"/><rect x="467.5" y="357.88" width="110.5" height="28.03" fill="#2fc5a2"/><rect x="-27.5" y="385.41" width="55.5" height="28.03" fill="#0ab4d2"/><rect x="27.5" y="385.41" width="330.5" height="28.03" fill="#2895ec"/><rect x="357.5" y="385.41" width="28" height="28.03" fill="#0ab4d2"/><rect x="385" y="385.41" width="28" height="28.03" fill="#d7be28"/><rect x="412.5" y="385.41" width="28" height="28.03" fill="#7acc5d"/><rect x="440" y="385.41" width="138" height="28.03" fill="#2fc5a2"/><rect x="-27.5" y="412.94" width="55.5" height="28.03" fill="#2fc5a2"/><rect x="27.5" y="412.94" width="330.5" height="28.03" fill="#2895ec"/><rect x="357.5" y="412.94" width="28" height="28.03" fill="#2fc5a2"/><rect x="385" y="412.94" width="28" height="28.03" fill="#fdcc32"/><rect x="412.5" y="412.94" width="28" height="28.03" fill="#d7be28"/><rect x="440" y="412.94" width="28" height="28.03" fill="#7acc5d"/><rect x="467.5" y="412.94" width="110.5" height="28.03" fill="#2fc5a2"/><rect x="-27.5" y="440.47" width="55.5" height="28.03" fill="#7acc5d"/><rect x="27.5" y="440.47" width="275.5" height="28.03" fill="#2895ec"/><rect x="302.5" y="440.47" width="28" height="28.03" fill="#2fc5a2"/><rect x="330" y="440.47" width="55.5" height="28.03" fill="#fdcc32"/><rect x="385" y="440.47" width="28" height="28.03" fill="#d7be28"/><rect x="412.5" y="440.47" width="165.5" height="28.03" fill="#2fc5a2"/><rect x="-27.5" y="468" width="55.5" height="28.03" fill="#7acc5d"/><rect x="27.5" y="468" width="275.5" height="28.03" fill="#2895ec"/><rect x="302.5" y="468" width="28" height="28.03" fill="#2fc5a2"/><rect x="330" y="468" width="55.5" height="28.03" fill="#fdcc32"/><rect x="385" y="468" width="28" height="28.03" fill="#d7be28"/><rect x="412.5" y="468" width="165.5" height="28.03" fill="#2fc5a2"/></g><filter id="o83" filterUnits="userSpaceOnUse" x="-100" y="-100" width="750" height="668"><feGaussianBlur stdDeviation="1"/></filter><g filter="url(#o83)"><rect x="0" y="0" width="550" height="8" fill="#484ef1"/></g><filter id="o84" filterUnits="userSpaceOnUse" x="-100" y="-100" width="750" height="668"><feGaussianBlur stdDeviation="1.5"/></filter><g filter="url(#o84)"><path d="M 8,470 L 8,30 Q 8,11 27,11 L 548,11" fill="none" stroke="#4330c5" stroke-width="8" stroke-linecap="round" stroke-linejoin="round"/></g><filter id="o85" filterUnits="userSpaceOnUse" x="-100" y="-100" width="750" height="668"><feGaussianBlur stdDeviation="1.5"/></filter><g filter="url(#o85)"><linearGradient id="go85" x1="0" y1="0" x2="1" y2="0"><stop offset="0" stop-color="#7acc5d"/><stop offset="0.5" stop-color="#d7be28"/><stop offset="1" stop-color="#d7be28"/></linearGradient><rect x="22" y="16" width="528" height="13" fill="url(#go85)"/></g><filter id="o86" filterUnits="userSpaceOnUse" x="-100" y="-100" width="750" height="668"><feGaussianBlur stdDeviation="1.5"/></filter><g filter="url(#o86)"><rect x="12" y="22" width="11" height="446" fill="#7acc5d"/></g><g transform="translate(0,0)"><filter id="o88" filterUnits="userSpaceOnUse" x="-100" y="-100" width="750" height="668"><feGaussianBlur stdDeviation="10"/></filter><g filter="url(#o88)"><path d="M 295,110 C 306,94 312,83 330,75 C 348,67 380,62 400,62 C 420,62 439,62 450,72 C 461,82 465,99 468,120 C 471,141 470,176 470,200 C 470,224 470,242 465,262 C 460,282 452,304 440,320 C 428,336 408,342 390,355 C 372,368 353,386 330,395 C 307,404 278,409 250,410 C 222,411 185,407 160,400 C 135,393 113,383 100,370 C 87,357 82,336 80,320 C 78,304 80,288 90,275 C 100,262 120,253 140,243 C 160,233 189,225 210,213 C 231,201 251,187 265,170 C 279,153 284,126 295,110 Z" fill="#3f6eff"/></g><filter id="o89" filterUnits="userSpaceOnUse" x="-100" y="-100" width="750" height="668"><feGaussianBlur stdDeviation="18"/></filter><g filter="url(#o89)"><ellipse cx="360" cy="190" rx="50" ry="50" fill="#2895ec"/></g><filter id="o90" filterUnits="userSpaceOnUse" x="-100" y="-100" width="750" height="668"><feGaussianBlur stdDeviation="18"/></filter><g filter="url(#o90)"><ellipse cx="330" cy="225" rx="25" ry="20" fill="#0ab4d2"/></g><filter id="o91" filterUnits="userSpaceOnUse" x="-100" y="-100" width="750" height="668"><feGaussianBlur stdDeviation="18"/></filter><g filter="url(#o91)"><ellipse cx="230" cy="290" rx="55" ry="30" fill="#2895ec"/></g><filter id="o92" filterUnits="userSpaceOnUse" x="-100" y="-100" width="750" height="668"><feGaussianBlur stdDeviation="3"/></filter><g filter="url(#o92)"><line x1="20" y1="17" x2="550" y2="468" stroke="#0ab4d2" stroke-width="5"/></g><filter id="o93" filterUnits="userSpaceOnUse" x="-100" y="-100" width="750" height="668"><feGaussianBlur stdDeviation="14"/></filter><g filter="url(#o93)"><path d="M 295,110 C 306,94 312,83 330,75 C 348,67 380,62 400,62 C 420,62 439,62 450,72 C 461,82 465,99 468,120 C 471,141 470,176 470,200 C 470,224 470,242 465,262 C 460,282 452,304 440,320 C 428,336 408,342 390,355 C 372,368 353,386 330,395 C 307,404 278,409 250,410 C 222,411 185,407 160,400 C 135,393 113,383 100,370 C 87,357 82,336 80,320 C 78,304 80,288 90,275 C 100,262 120,253 140,243 C 160,233 189,225 210,213 C 231,201 251,187 265,170 C 279,153 284,126 295,110 Z" fill="none" stroke="#4330c5" stroke-width="68" stroke-linecap="round" stroke-linejoin="round"/></g><filter id="o94" filterUnits="userSpaceOnUse" x="-100" y="-100" width="750" height="668"><feGaussianBlur stdDeviation="14"/></filter><g filter="url(#o94)"><ellipse cx="357" cy="318" rx="62" ry="52" fill="#4330c5"/></g></g><filter id="o96" filterUnits="userSpaceOnUse" x="-100" y="-100" width="750" height="668"><feGaussianBlur stdDeviation="10"/></filter><g filter="url(#o96)"><path d="M 316,480 C 316,478 313,479 316,466 C 319,453 320,422 334,404 C 348,386 385,373 402,360 C 419,347 426,338 436,326 C 446,314 453,294 464,286 C 475,278 490,277 504,275 C 518,273 541,275 550,275 C 559,275 558,275 560,275 L 560,480 Z" fill="#2fc5a2"/></g><filter id="o97" filterUnits="userSpaceOnUse" x="-100" y="-100" width="750" height="668"><feGaussianBlur stdDeviation="10"/></filter><g filter="url(#o97)"><path d="M 338,488 C 341,478 342,444 356,426 C 370,408 413,389 424,382" fill="none" stroke="#fdcc32" stroke-width="58" stroke-linecap="round" stroke-linejoin="round"/></g><filter id="o98" filterUnits="userSpaceOnUse" x="-100" y="-100" width="750" height="668"><feGaussianBlur stdDeviation="10"/></filter><g filter="url(#o98)"><path d="M 486,308 C 493,306 512,299 526,297 C 540,295 564,297 572,297" fill="none" stroke="#fdcc32" stroke-width="58" stroke-linecap="round" stroke-linejoin="round"/></g></svg>
<svg class="cb" style="left:204.5px;top:308.5px;width:5px;height:67.9px" viewBox="0 0 10 100" preserveAspectRatio="none"><rect width="10" height="100" fill="url(#pg)"/></svg>
<svg class="hm" style="left:233.2px;top:308.5px;width:79.5px;height:67.9px" viewBox="0 0 550 468" preserveAspectRatio="none"><filter id="f18" x="-10%" y="-10%" width="120%" height="120%"><feGaussianBlur stdDeviation="12"/></filter><g filter="url(#f18)"><rect x="-27.5" y="-27.53" width="248" height="28.03" fill="#fdcc32"/><rect x="220" y="-27.53" width="110.5" height="28.03" fill="#f9fb15"/><rect x="330" y="-27.53" width="28" height="28.03" fill="#fdcc32"/><rect x="357.5" y="-27.53" width="55.5" height="28.03" fill="#2fc5a2"/><rect x="412.5" y="-27.53" width="55.5" height="28.03" fill="#0ab4d2"/><rect x="467.5" y="-27.53" width="28" height="28.03" fill="#2fc5a2"/><rect x="495" y="-27.53" width="28" height="28.03" fill="#d7be28"/><rect x="522.5" y="-27.53" width="55.5" height="28.03" fill="#0ab4d2"/><rect x="-27.5" y="0" width="248" height="28.03" fill="#fdcc32"/><rect x="220" y="0" width="110.5" height="28.03" fill="#f9fb15"/><rect x="330" y="0" width="28" height="28.03" fill="#fdcc32"/><rect x="357.5" y="0" width="55.5" height="28.03" fill="#2fc5a2"/><rect x="412.5" y="0" width="55.5" height="28.03" fill="#0ab4d2"/><rect x="467.5" y="0" width="28" height="28.03" fill="#2fc5a2"/><rect x="495" y="0" width="28" height="28.03" fill="#d7be28"/><rect x="522.5" y="0" width="55.5" height="28.03" fill="#0ab4d2"/><rect x="-27.5" y="27.53" width="55.5" height="28.03" fill="#fdcc32"/><rect x="27.5" y="27.53" width="28" height="28.03" fill="#4330c5"/><rect x="55" y="27.53" width="28" height="28.03" fill="#2fc5a2"/><rect x="82.5" y="27.53" width="138" height="28.03" fill="#fdcc32"/><rect x="220" y="27.53" width="110.5" height="28.03" fill="#f9fb15"/><rect x="330" y="27.53" width="28" height="28.03" fill="#7acc5d"/><rect x="357.5" y="27.53" width="28" height="28.03" fill="#0ab4d2"/><rect x="385" y="27.53" width="83" height="28.03" fill="#2895ec"/><rect x="467.5" y="27.53" width="28" height="28.03" fill="#2fc5a2"/><rect x="495" y="27.53" width="28" height="28.03" fill="#d7be28"/><rect x="522.5" y="27.53" width="55.5" height="28.03" fill="#0ab4d2"/><rect x="-27.5" y="55.06" width="55.5" height="28.03" fill="#fdcc32"/><rect x="27.5" y="55.06" width="28" height="28.03" fill="#2895ec"/><rect x="55" y="55.06" width="28" height="28.03" fill="#484ef1"/><rect x="82.5" y="55.06" width="28" height="28.03" fill="#2895ec"/><rect x="110" y="55.06" width="110.5" height="28.03" fill="#fdcc32"/><rect x="220" y="55.06" width="83" height="28.03" fill="#f9fb15"/><rect x="302.5" y="55.06" width="28" height="28.03" fill="#fdcc32"/><rect x="330" y="55.06" width="28" height="28.03" fill="#2895ec"/><rect x="357.5" y="55.06" width="110.5" height="28.03" fill="#484ef1"/><rect x="467.5" y="55.06" width="28" height="28.03" fill="#3f6eff"/><rect x="495" y="55.06" width="28" height="28.03" fill="#d7be28"/><rect x="522.5" y="55.06" width="55.5" height="28.03" fill="#0ab4d2"/><rect x="-27.5" y="82.59" width="55.5" height="28.03" fill="#fdcc32"/><rect x="27.5" y="82.59" width="28" height="28.03" fill="#0ab4d2"/><rect x="55" y="82.59" width="28" height="28.03" fill="#2895ec"/><rect x="82.5" y="82.59" width="138" height="28.03" fill="#fdcc32"/><rect x="220" y="82.59" width="83" height="28.03" fill="#f9fb15"/><rect x="302.5" y="82.59" width="28" height="28.03" fill="#d7be28"/><rect x="330" y="82.59" width="28" height="28.03" fill="#484ef1"/><rect x="357.5" y="82.59" width="110.5" height="28.03" fill="#4330c5"/><rect x="467.5" y="82.59" width="28" height="28.03" fill="#484ef1"/><rect x="495" y="82.59" width="28" height="28.03" fill="#d7be28"/><rect x="522.5" y="82.59" width="55.5" height="28.03" fill="#0ab4d2"/><rect x="-27.5" y="110.12" width="330.5" height="28.03" fill="#fdcc32"/><rect x="302.5" y="110.12" width="28" height="28.03" fill="#0ab4d2"/><rect x="330" y="110.12" width="28" height="28.03" fill="#484ef1"/><rect x="357.5" y="110.12" width="138" height="28.03" fill="#4330c5"/><rect x="495" y="110.12" width="28" height="28.03" fill="#d7be28"/><rect x="522.5" y="110.12" width="55.5" height="28.03" fill="#0ab4d2"/><rect x="-27.5" y="137.65" width="303" height="28.03" fill="#fdcc32"/><rect x="275" y="137.65" width="28" height="28.03" fill="#7acc5d"/><rect x="302.5" y="137.65" width="28" height="28.03" fill="#484ef1"/><rect x="330" y="137.65" width="83" height="28.03" fill="#3f6eff"/><rect x="412.5" y="137.65" width="55.5" height="28.03" fill="#484ef1"/><rect x="467.5" y="137.65" width="28" height="28.03" fill="#4330c5"/><rect x="495" y="137.65" width="28" height="28.03" fill="#d7be28"/><rect x="522.5" y="137.65" width="55.5" height="28.03" fill="#0ab4d2"/><rect x="-27.5" y="165.18" width="275.5" height="28.03" fill="#fdcc32"/><rect x="247.5" y="165.18" width="28" height="28.03" fill="#2fc5a2"/><rect x="275" y="165.18" width="28" height="28.03" fill="#484ef1"/><rect x="302.5" y="165.18" width="28" height="28.03" fill="#2895ec"/><rect x="330" y="165.18" width="110.5" height="28.03" fill="#0ab4d2"/><rect x="440" y="165.18" width="28" height="28.03" fill="#2895ec"/><rect x="467.5" y="165.18" width="28" height="28.03" fill="#484ef1"/><rect x="495" y="165.18" width="28" height="28.03" fill="#7acc5d"/><rect x="522.5" y="165.18" width="55.5" height="28.03" fill="#0ab4d2"/><rect x="-27.5" y="192.71" width="248" height="28.03" fill="#fdcc32"/><rect x="220" y="192.71" width="28" height="28.03" fill="#0ab4d2"/><rect x="247.5" y="192.71" width="28" height="28.03" fill="#484ef1"/><rect x="275" y="192.71" width="28" height="28.03" fill="#2895ec"/><rect x="302.5" y="192.71" width="28" height="28.03" fill="#7acc5d"/><rect x="330" y="192.71" width="83" height="28.03" fill="#d7be28"/><rect x="412.5" y="192.71" width="28" height="28.03" fill="#7acc5d"/><rect x="440" y="192.71" width="28" height="28.03" fill="#2fc5a2"/><rect x="467.5" y="192.71" width="28" height="28.03" fill="#3f6eff"/><rect x="495" y="192.71" width="28" height="28.03" fill="#7acc5d"/><rect x="522.5" y="192.71" width="55.5" height="28.03" fill="#0ab4d2"/><rect x="-27.5" y="220.24" width="220.5" height="28.03" fill="#fdcc32"/><rect x="192.5" y="220.24" width="28" height="28.03" fill="#0ab4d2"/><rect x="220" y="220.24" width="28" height="28.03" fill="#484ef1"/><rect x="247.5" y="220.24" width="28" height="28.03" fill="#2895ec"/><rect x="275" y="220.24" width="28" height="28.03" fill="#d7be28"/><rect x="302.5" y="220.24" width="110.5" height="28.03" fill="#fdcc32"/><rect x="412.5" y="220.24" width="28" height="28.03" fill="#d7be28"/><rect x="440" y="220.24" width="28" height="28.03" fill="#2fc5a2"/><rect x="467.5" y="220.24" width="28" height="28.03" fill="#484ef1"/><rect x="495" y="220.24" width="28" height="28.03" fill="#7acc5d"/><rect x="522.5" y="220.24" width="55.5" height="28.03" fill="#0ab4d2"/><rect x="-27.5" y="247.76" width="55.5" height="28.03" fill="#7acc5d"/><rect x="27.5" y="247.76" width="28" height="28.03" fill="#2fc5a2"/><rect x="55" y="247.76" width="83" height="28.03" fill="#2895ec"/><rect x="137.5" y="247.76" width="28" height="28.03" fill="#484ef1"/><rect x="165" y="247.76" width="28" height="28.03" fill="#3f6eff"/><rect x="192.5" y="247.76" width="28" height="28.03" fill="#d7be28"/><rect x="220" y="247.76" width="83" height="28.03" fill="#fdcc32"/><rect x="302.5" y="247.76" width="28" height="28.03" fill="#d7be28"/><rect x="330" y="247.76" width="28" height="28.03" fill="#484ef1"/><rect x="357.5" y="247.76" width="28" height="28.03" fill="#4330c5"/><rect x="385" y="247.76" width="28" height="28.03" fill="#484ef1"/><rect x="412.5" y="247.76" width="28" height="28.03" fill="#4330c5"/><rect x="440" y="247.76" width="28" height="28.03" fill="#484ef1"/><rect x="467.5" y="247.76" width="28" height="28.03" fill="#2895ec"/><rect x="495" y="247.76" width="28" height="28.03" fill="#7acc5d"/><rect x="522.5" y="247.76" width="55.5" height="28.03" fill="#0ab4d2"/><rect x="-27.5" y="275.29" width="55.5" height="28.03" fill="#7acc5d"/><rect x="27.5" y="275.29" width="28" height="28.03" fill="#2895ec"/><rect x="55" y="275.29" width="83" height="28.03" fill="#3f6eff"/><rect x="137.5" y="275.29" width="28" height="28.03" fill="#4330c5"/><rect x="165" y="275.29" width="28" height="28.03" fill="#0ab4d2"/><rect x="192.5" y="275.29" width="28" height="28.03" fill="#d7be28"/><rect x="220" y="275.29" width="55.5" height="28.03" fill="#fdcc32"/><rect x="275" y="275.29" width="28" height="28.03" fill="#d7be28"/><rect x="302.5" y="275.29" width="28" height="28.03" fill="#3f6eff"/><rect x="330" y="275.29" width="28" height="28.03" fill="#4330c5"/><rect x="357.5" y="275.29" width="28" height="28.03" fill="#484ef1"/><rect x="385" y="275.29" width="28" height="28.03" fill="#3f6eff"/><rect x="412.5" y="275.29" width="28" height="28.03" fill="#484ef1"/><rect x="440" y="275.29" width="28" height="28.03" fill="#2895ec"/><rect x="467.5" y="275.29" width="55.5" height="28.03" fill="#7acc5d"/><rect x="522.5" y="275.29" width="55.5" height="28.03" fill="#0ab4d2"/><rect x="-27.5" y="302.82" width="55.5" height="28.03" fill="#7acc5d"/><rect x="27.5" y="302.82" width="28" height="28.03" fill="#2895ec"/><rect x="55" y="302.82" width="83" height="28.03" fill="#3f6eff"/><rect x="137.5" y="302.82" width="28" height="28.03" fill="#4330c5"/><rect x="165" y="302.82" width="28" height="28.03" fill="#0ab4d2"/><rect x="192.5" y="302.82" width="28" height="28.03" fill="#d7be28"/><rect x="220" y="302.82" width="55.5" height="28.03" fill="#fdcc32"/><rect x="275" y="302.82" width="28" height="28.03" fill="#7acc5d"/><rect x="302.5" y="302.82" width="28" height="28.03" fill="#484ef1"/><rect x="330" y="302.82" width="28" height="28.03" fill="#4330c5"/><rect x="357.5" y="302.82" width="28" height="28.03" fill="#484ef1"/><rect x="385" y="302.82" width="28" height="28.03" fill="#0ab4d2"/><rect x="412.5" y="302.82" width="28" height="28.03" fill="#484ef1"/><rect x="440" y="302.82" width="28" height="28.03" fill="#2fc5a2"/><rect x="467.5" y="302.82" width="28" height="28.03" fill="#d7be28"/><rect x="495" y="302.82" width="28" height="28.03" fill="#7acc5d"/><rect x="522.5" y="302.82" width="55.5" height="28.03" fill="#0ab4d2"/><rect x="-27.5" y="330.35" width="55.5" height="28.03" fill="#7acc5d"/><rect x="27.5" y="330.35" width="28" height="28.03" fill="#2895ec"/><rect x="55" y="330.35" width="83" height="28.03" fill="#3f6eff"/><rect x="137.5" y="330.35" width="28" height="28.03" fill="#4330c5"/><rect x="165" y="330.35" width="28" height="28.03" fill="#2895ec"/><rect x="192.5" y="330.35" width="28" height="28.03" fill="#7acc5d"/><rect x="220" y="330.35" width="55.5" height="28.03" fill="#d7be28"/><rect x="275" y="330.35" width="28" height="28.03" fill="#0ab4d2"/><rect x="302.5" y="330.35" width="83" height="28.03" fill="#4330c5"/><rect x="385" y="330.35" width="28" height="28.03" fill="#484ef1"/><rect x="412.5" y="330.35" width="28" height="28.03" fill="#2895ec"/><rect x="440" y="330.35" width="55.5" height="28.03" fill="#d7be28"/><rect x="495" y="330.35" width="28" height="28.03" fill="#7acc5d"/><rect x="522.5" y="330.35" width="55.5" height="28.03" fill="#0ab4d2"/><rect x="-27.5" y="357.88" width="55.5" height="28.03" fill="#7acc5d"/><rect x="27.5" y="357.88" width="83" height="28.03" fill="#2895ec"/><rect x="110" y="357.88" width="28" height="28.03" fill="#3f6eff"/><rect x="137.5" y="357.88" width="55.5" height="28.03" fill="#484ef1"/><rect x="192.5" y="357.88" width="28" height="28.03" fill="#0ab4d2"/><rect x="220" y="357.88" width="28" height="28.03" fill="#2fc5a2"/><rect x="247.5" y="357.88" width="28" height="28.03" fill="#0ab4d2"/><rect x="275" y="357.88" width="28" height="28.03" fill="#484ef1"/><rect x="302.5" y="357.88" width="55.5" height="28.03" fill="#4330c5"/><rect x="357.5" y="357.88" width="28" height="28.03" fill="#484ef1"/><rect x="385" y="357.88" width="28" height="28.03" fill="#0ab4d2"/><rect x="412.5" y="357.88" width="28" height="28.03" fill="#7acc5d"/><rect x="440" y="357.88" width="55.5" height="28.03" fill="#d7be28"/><rect x="495" y="357.88" width="28" height="28.03" fill="#7acc5d"/><rect x="522.5" y="357.88" width="55.5" height="28.03" fill="#0ab4d2"/><rect x="-27.5" y="385.41" width="55.5" height="28.03" fill="#7acc5d"/><rect x="27.5" y="385.41" width="28" height="28.03" fill="#2fc5a2"/><rect x="55" y="385.41" width="55.5" height="28.03" fill="#0ab4d2"/><rect x="110" y="385.41" width="28" height="28.03" fill="#2895ec"/><rect x="137.5" y="385.41" width="28" height="28.03" fill="#3f6eff"/><rect x="165" y="385.41" width="28" height="28.03" fill="#4330c5"/><rect x="192.5" y="385.41" width="55.5" height="28.03" fill="#484ef1"/><rect x="247.5" y="385.41" width="28" height="28.03" fill="#4330c5"/><rect x="275" y="385.41" width="28" height="28.03" fill="#484ef1"/><rect x="302.5" y="385.41" width="28" height="28.03" fill="#2895ec"/><rect x="330" y="385.41" width="28" height="28.03" fill="#0ab4d2"/><rect x="357.5" y="385.41" width="28" height="28.03" fill="#2fc5a2"/><rect x="385" y="385.41" width="28" height="28.03" fill="#7acc5d"/><rect x="412.5" y="385.41" width="83" height="28.03" fill="#d7be28"/><rect x="495" y="385.41" width="28" height="28.03" fill="#7acc5d"/><rect x="522.5" y="385.41" width="55.5" height="28.03" fill="#0ab4d2"/><rect x="-27.5" y="412.94" width="83" height="28.03" fill="#d7be28"/><rect x="55" y="412.94" width="83" height="28.03" fill="#7acc5d"/><rect x="137.5" y="412.94" width="28" height="28.03" fill="#2fc5a2"/><rect x="165" y="412.94" width="28" height="28.03" fill="#0ab4d2"/><rect x="192.5" y="412.94" width="28" height="28.03" fill="#2895ec"/><rect x="220" y="412.94" width="28" height="28.03" fill="#0ab4d2"/><rect x="247.5" y="412.94" width="28" height="28.03" fill="#2fc5a2"/><rect x="275" y="412.94" width="55.5" height="28.03" fill="#7acc5d"/><rect x="330" y="412.94" width="165.5" height="28.03" fill="#d7be28"/><rect x="495" y="412.94" width="28" height="28.03" fill="#7acc5d"/><rect x="522.5" y="412.94" width="55.5" height="28.03" fill="#0ab4d2"/><rect x="-27.5" y="440.47" width="605.5" height="28.03" fill="#2895ec"/><rect x="-27.5" y="468" width="605.5" height="28.03" fill="#2895ec"/></g><filter id="o99" filterUnits="userSpaceOnUse" x="-100" y="-100" width="750" height="668"><feGaussianBlur stdDeviation="1.5"/></filter><g filter="url(#o99)"><line x1="15" y1="13" x2="550" y2="468" stroke="#b88a3a" stroke-width="3"/></g><filter id="o100" filterUnits="userSpaceOnUse" x="-100" y="-100" width="750" height="668"><feGaussianBlur stdDeviation="2.5"/></filter><g filter="url(#o100)"><line x1="518" y1="0" x2="518" y2="468" stroke="#4330c5" stroke-width="9"/></g><filter id="o101" filterUnits="userSpaceOnUse" x="-100" y="-100" width="750" height="668"><feGaussianBlur stdDeviation="2.5"/></filter><g filter="url(#o101)"><line x1="0" y1="448" x2="550" y2="448" stroke="#4330c5" stroke-width="9"/></g><filter id="o102" filterUnits="userSpaceOnUse" x="-100" y="-100" width="750" height="668"><feGaussianBlur stdDeviation="4.5"/></filter><g filter="url(#o102)"><path d="M 191,187 C 212,168 238,139 265,125 C 292,111 322,103 351,101 C 380,99 416,103 437,113 C 458,123 470,144 474,162 C 478,180 474,206 462,224 C 450,242 420,263 400,273 C 380,283 353,275 339,285 C 325,295 318,318 314,334 C 310,350 322,369 314,383 C 306,397 286,414 265,420 C 244,426 212,426 191,420 C 170,414 152,402 142,383 C 132,364 129,334 129,309 C 129,284 132,256 142,236 C 152,216 170,206 191,187 Z" fill="none" stroke="#4330c5" stroke-width="20" stroke-linecap="round" stroke-linejoin="round"/></g></svg>
<svg class="cb" style="left:314.1px;top:308.5px;width:5px;height:67.9px" viewBox="0 0 10 100" preserveAspectRatio="none"><rect width="10" height="100" fill="url(#pg)"/></svg>
<svg class="hm" style="left:339.3px;top:308.5px;width:79.2px;height:67.9px" viewBox="0 0 550 468" preserveAspectRatio="none"><filter id="f19" x="-10%" y="-10%" width="120%" height="120%"><feGaussianBlur stdDeviation="12"/></filter><g filter="url(#f19)"><rect x="-27.5" y="-27.53" width="358" height="28.03" fill="#2895ec"/><rect x="330" y="-27.53" width="28" height="28.03" fill="#0ab4d2"/><rect x="357.5" y="-27.53" width="28" height="28.03" fill="#2fc5a2"/><rect x="385" y="-27.53" width="28" height="28.03" fill="#0ab4d2"/><rect x="412.5" y="-27.53" width="165.5" height="28.03" fill="#2895ec"/><rect x="-27.5" y="0" width="358" height="28.03" fill="#2895ec"/><rect x="330" y="0" width="28" height="28.03" fill="#0ab4d2"/><rect x="357.5" y="0" width="28" height="28.03" fill="#2fc5a2"/><rect x="385" y="0" width="28" height="28.03" fill="#0ab4d2"/><rect x="412.5" y="0" width="165.5" height="28.03" fill="#2895ec"/><rect x="-27.5" y="27.53" width="55.5" height="28.03" fill="#2895ec"/><rect x="27.5" y="27.53" width="28" height="28.03" fill="#d7be28"/><rect x="55" y="27.53" width="28" height="28.03" fill="#fdcc32"/><rect x="82.5" y="27.53" width="28" height="28.03" fill="#7acc5d"/><rect x="110" y="27.53" width="55.5" height="28.03" fill="#3f6eff"/><rect x="165" y="27.53" width="28" height="28.03" fill="#2895ec"/><rect x="192.5" y="27.53" width="83" height="28.03" fill="#0ab4d2"/><rect x="275" y="27.53" width="28" height="28.03" fill="#2895ec"/><rect x="302.5" y="27.53" width="28" height="28.03" fill="#3f6eff"/><rect x="330" y="27.53" width="248" height="28.03" fill="#4330c5"/><rect x="-27.5" y="55.06" width="55.5" height="28.03" fill="#2895ec"/><rect x="27.5" y="55.06" width="28" height="28.03" fill="#d7be28"/><rect x="55" y="55.06" width="28" height="28.03" fill="#2fc5a2"/><rect x="82.5" y="55.06" width="28" height="28.03" fill="#d7be28"/><rect x="110" y="55.06" width="28" height="28.03" fill="#3f6eff"/><rect x="137.5" y="55.06" width="28" height="28.03" fill="#2895ec"/><rect x="165" y="55.06" width="28" height="28.03" fill="#2fc5a2"/><rect x="192.5" y="55.06" width="83" height="28.03" fill="#7acc5d"/><rect x="275" y="55.06" width="28" height="28.03" fill="#0ab4d2"/><rect x="302.5" y="55.06" width="28" height="28.03" fill="#3f6eff"/><rect x="330" y="55.06" width="248" height="28.03" fill="#4330c5"/><rect x="-27.5" y="82.59" width="55.5" height="28.03" fill="#2895ec"/><rect x="27.5" y="82.59" width="55.5" height="28.03" fill="#d7be28"/><rect x="82.5" y="82.59" width="55.5" height="28.03" fill="#2895ec"/><rect x="137.5" y="82.59" width="28" height="28.03" fill="#2fc5a2"/><rect x="165" y="82.59" width="28" height="28.03" fill="#7acc5d"/><rect x="192.5" y="82.59" width="55.5" height="28.03" fill="#d7be28"/><rect x="247.5" y="82.59" width="28" height="28.03" fill="#7acc5d"/><rect x="275" y="82.59" width="28" height="28.03" fill="#0ab4d2"/><rect x="302.5" y="82.59" width="28" height="28.03" fill="#484ef1"/><rect x="330" y="82.59" width="248" height="28.03" fill="#4330c5"/><rect x="-27.5" y="110.12" width="55.5" height="28.03" fill="#2895ec"/><rect x="27.5" y="110.12" width="28" height="28.03" fill="#2fc5a2"/><rect x="55" y="110.12" width="55.5" height="28.03" fill="#3f6eff"/><rect x="110" y="110.12" width="28" height="28.03" fill="#2fc5a2"/><rect x="137.5" y="110.12" width="28" height="28.03" fill="#7acc5d"/><rect x="165" y="110.12" width="28" height="28.03" fill="#d7be28"/><rect x="192.5" y="110.12" width="28" height="28.03" fill="#7acc5d"/><rect x="220" y="110.12" width="28" height="28.03" fill="#d7be28"/><rect x="247.5" y="110.12" width="28" height="28.03" fill="#2fc5a2"/><rect x="275" y="110.12" width="28" height="28.03" fill="#2895ec"/><rect x="302.5" y="110.12" width="28" height="28.03" fill="#484ef1"/><rect x="330" y="110.12" width="248" height="28.03" fill="#4330c5"/><rect x="-27.5" y="137.65" width="55.5" height="28.03" fill="#2895ec"/><rect x="27.5" y="137.65" width="55.5" height="28.03" fill="#484ef1"/><rect x="82.5" y="137.65" width="28" height="28.03" fill="#0ab4d2"/><rect x="110" y="137.65" width="28" height="28.03" fill="#7acc5d"/><rect x="137.5" y="137.65" width="28" height="28.03" fill="#d7be28"/><rect x="165" y="137.65" width="28" height="28.03" fill="#2fc5a2"/><rect x="192.5" y="137.65" width="55.5" height="28.03" fill="#7acc5d"/><rect x="247.5" y="137.65" width="28" height="28.03" fill="#0ab4d2"/><rect x="275" y="137.65" width="28" height="28.03" fill="#3f6eff"/><rect x="302.5" y="137.65" width="275.5" height="28.03" fill="#4330c5"/><rect x="-27.5" y="165.18" width="55.5" height="28.03" fill="#2895ec"/><rect x="27.5" y="165.18" width="28" height="28.03" fill="#484ef1"/><rect x="55" y="165.18" width="28" height="28.03" fill="#2895ec"/><rect x="82.5" y="165.18" width="28" height="28.03" fill="#7acc5d"/><rect x="110" y="165.18" width="55.5" height="28.03" fill="#d7be28"/><rect x="165" y="165.18" width="55.5" height="28.03" fill="#7acc5d"/><rect x="220" y="165.18" width="28" height="28.03" fill="#0ab4d2"/><rect x="247.5" y="165.18" width="28" height="28.03" fill="#2895ec"/><rect x="275" y="165.18" width="28" height="28.03" fill="#484ef1"/><rect x="302.5" y="165.18" width="275.5" height="28.03" fill="#4330c5"/><rect x="-27.5" y="192.71" width="55.5" height="28.03" fill="#2895ec"/><rect x="27.5" y="192.71" width="28" height="28.03" fill="#484ef1"/><rect x="55" y="192.71" width="28" height="28.03" fill="#0ab4d2"/><rect x="82.5" y="192.71" width="28" height="28.03" fill="#7acc5d"/><rect x="110" y="192.71" width="28" height="28.03" fill="#d7be28"/><rect x="137.5" y="192.71" width="55.5" height="28.03" fill="#7acc5d"/><rect x="192.5" y="192.71" width="28" height="28.03" fill="#0ab4d2"/><rect x="220" y="192.71" width="28" height="28.03" fill="#2895ec"/><rect x="247.5" y="192.71" width="28" height="28.03" fill="#484ef1"/><rect x="275" y="192.71" width="303" height="28.03" fill="#4330c5"/><rect x="-27.5" y="220.24" width="55.5" height="28.03" fill="#2895ec"/><rect x="27.5" y="220.24" width="28" height="28.03" fill="#484ef1"/><rect x="55" y="220.24" width="28" height="28.03" fill="#0ab4d2"/><rect x="82.5" y="220.24" width="110.5" height="28.03" fill="#2fc5a2"/><rect x="192.5" y="220.24" width="28" height="28.03" fill="#0ab4d2"/><rect x="220" y="220.24" width="28" height="28.03" fill="#2895ec"/><rect x="247.5" y="220.24" width="28" height="28.03" fill="#484ef1"/><rect x="275" y="220.24" width="303" height="28.03" fill="#4330c5"/><rect x="-27.5" y="247.76" width="55.5" height="28.03" fill="#2895ec"/><rect x="27.5" y="247.76" width="28" height="28.03" fill="#484ef1"/><rect x="55" y="247.76" width="28" height="28.03" fill="#3f6eff"/><rect x="82.5" y="247.76" width="55.5" height="28.03" fill="#2895ec"/><rect x="137.5" y="247.76" width="55.5" height="28.03" fill="#3f6eff"/><rect x="192.5" y="247.76" width="28" height="28.03" fill="#484ef1"/><rect x="220" y="247.76" width="55.5" height="28.03" fill="#4330c5"/><rect x="275" y="247.76" width="28" height="28.03" fill="#484ef1"/><rect x="302.5" y="247.76" width="275.5" height="28.03" fill="#4330c5"/><rect x="-27.5" y="275.29" width="55.5" height="28.03" fill="#0ab4d2"/><rect x="27.5" y="275.29" width="138" height="28.03" fill="#484ef1"/><rect x="165" y="275.29" width="110.5" height="28.03" fill="#4330c5"/><rect x="275" y="275.29" width="28" height="28.03" fill="#484ef1"/><rect x="302.5" y="275.29" width="275.5" height="28.03" fill="#4330c5"/><rect x="-27.5" y="302.82" width="55.5" height="28.03" fill="#2895ec"/><rect x="27.5" y="302.82" width="28" height="28.03" fill="#484ef1"/><rect x="55" y="302.82" width="523" height="28.03" fill="#4330c5"/><rect x="-27.5" y="330.35" width="55.5" height="28.03" fill="#2895ec"/><rect x="27.5" y="330.35" width="28" height="28.03" fill="#484ef1"/><rect x="55" y="330.35" width="523" height="28.03" fill="#4330c5"/><rect x="-27.5" y="357.88" width="55.5" height="28.03" fill="#2895ec"/><rect x="27.5" y="357.88" width="28" height="28.03" fill="#484ef1"/><rect x="55" y="357.88" width="330.5" height="28.03" fill="#4330c5"/><rect x="385" y="357.88" width="55.5" height="28.03" fill="#484ef1"/><rect x="440" y="357.88" width="138" height="28.03" fill="#4330c5"/><rect x="-27.5" y="385.41" width="55.5" height="28.03" fill="#2895ec"/><rect x="27.5" y="385.41" width="28" height="28.03" fill="#484ef1"/><rect x="55" y="385.41" width="330.5" height="28.03" fill="#4330c5"/><rect x="385" y="385.41" width="55.5" height="28.03" fill="#484ef1"/><rect x="440" y="385.41" width="138" height="28.03" fill="#4330c5"/><rect x="-27.5" y="412.94" width="55.5" height="28.03" fill="#2895ec"/><rect x="27.5" y="412.94" width="28" height="28.03" fill="#484ef1"/><rect x="55" y="412.94" width="523" height="28.03" fill="#4330c5"/><rect x="-27.5" y="440.47" width="55.5" height="28.03" fill="#2895ec"/><rect x="27.5" y="440.47" width="28" height="28.03" fill="#484ef1"/><rect x="55" y="440.47" width="523" height="28.03" fill="#4330c5"/><rect x="-27.5" y="468" width="55.5" height="28.03" fill="#2895ec"/><rect x="27.5" y="468" width="28" height="28.03" fill="#484ef1"/><rect x="55" y="468" width="523" height="28.03" fill="#4330c5"/></g><filter id="o103" filterUnits="userSpaceOnUse" x="-100" y="-100" width="750" height="668"><feGaussianBlur stdDeviation="1.5"/></filter><g filter="url(#o103)"><linearGradient id="go103" x1="0" y1="0" x2="1" y2="0"><stop offset="0" stop-color="#2895ec"/><stop offset="0.55" stop-color="#2895ec"/><stop offset="0.6" stop-color="#d7be28"/><stop offset="0.66" stop-color="#0ab4d2"/><stop offset="1" stop-color="#2895ec"/></linearGradient><rect x="0" y="0" width="550" height="22" fill="url(#go103)"/></g><filter id="o104" filterUnits="userSpaceOnUse" x="-100" y="-100" width="750" height="668"><feGaussianBlur stdDeviation="1.5"/></filter><g filter="url(#o104)"><rect x="0" y="0" width="24" height="468" fill="#0ab4d2"/></g><filter id="o105" filterUnits="userSpaceOnUse" x="-100" y="-100" width="750" height="668"><feGaussianBlur stdDeviation="4"/></filter><g filter="url(#o105)"><line x1="31" y1="180" x2="205" y2="34" stroke="#4330c5" stroke-width="14"/></g></svg>
<svg class="cb" style="left:420.2px;top:308.5px;width:5.4px;height:67.9px" viewBox="0 0 10 100" preserveAspectRatio="none"><rect width="10" height="100" fill="url(#pg)"/></svg>
<svg class="hm" style="left:15.3px;top:411px;width:79.5px;height:67.6px" viewBox="0 0 550 468" preserveAspectRatio="none"><filter id="f21" x="-10%" y="-10%" width="120%" height="120%"><feGaussianBlur stdDeviation="12"/></filter><g filter="url(#f21)"><rect x="-27.5" y="-27.53" width="55.5" height="28.03" fill="#3f6eff"/><rect x="27.5" y="-27.53" width="28" height="28.03" fill="#d7be28"/><rect x="55" y="-27.53" width="275.5" height="28.03" fill="#fdcc32"/><rect x="330" y="-27.53" width="28" height="28.03" fill="#2fc5a2"/><rect x="357.5" y="-27.53" width="220.5" height="28.03" fill="#0ab4d2"/><rect x="-27.5" y="0" width="55.5" height="28.03" fill="#3f6eff"/><rect x="27.5" y="0" width="28" height="28.03" fill="#d7be28"/><rect x="55" y="0" width="275.5" height="28.03" fill="#fdcc32"/><rect x="330" y="0" width="28" height="28.03" fill="#2fc5a2"/><rect x="357.5" y="0" width="220.5" height="28.03" fill="#0ab4d2"/><rect x="-27.5" y="27.53" width="55.5" height="28.03" fill="#2895ec"/><rect x="27.5" y="27.53" width="28" height="28.03" fill="#0ab4d2"/><rect x="55" y="27.53" width="28" height="28.03" fill="#2fc5a2"/><rect x="82.5" y="27.53" width="28" height="28.03" fill="#0ab4d2"/><rect x="110" y="27.53" width="28" height="28.03" fill="#484ef1"/><rect x="137.5" y="27.53" width="138" height="28.03" fill="#0ab4d2"/><rect x="275" y="27.53" width="28" height="28.03" fill="#2895ec"/><rect x="302.5" y="27.53" width="28" height="28.03" fill="#3f6eff"/><rect x="330" y="27.53" width="248" height="28.03" fill="#4330c5"/><rect x="-27.5" y="55.06" width="55.5" height="28.03" fill="#2895ec"/><rect x="27.5" y="55.06" width="28" height="28.03" fill="#2fc5a2"/><rect x="55" y="55.06" width="28" height="28.03" fill="#0ab4d2"/><rect x="82.5" y="55.06" width="28" height="28.03" fill="#484ef1"/><rect x="110" y="55.06" width="28" height="28.03" fill="#0ab4d2"/><rect x="137.5" y="55.06" width="110.5" height="28.03" fill="#2fc5a2"/><rect x="247.5" y="55.06" width="28" height="28.03" fill="#0ab4d2"/><rect x="275" y="55.06" width="28" height="28.03" fill="#2895ec"/><rect x="302.5" y="55.06" width="28" height="28.03" fill="#484ef1"/><rect x="330" y="55.06" width="248" height="28.03" fill="#4330c5"/><rect x="-27.5" y="82.59" width="55.5" height="28.03" fill="#2895ec"/><rect x="27.5" y="82.59" width="28" height="28.03" fill="#0ab4d2"/><rect x="55" y="82.59" width="28" height="28.03" fill="#484ef1"/><rect x="82.5" y="82.59" width="28" height="28.03" fill="#0ab4d2"/><rect x="110" y="82.59" width="28" height="28.03" fill="#2fc5a2"/><rect x="137.5" y="82.59" width="28" height="28.03" fill="#2895ec"/><rect x="165" y="82.59" width="83" height="28.03" fill="#2fc5a2"/><rect x="247.5" y="82.59" width="28" height="28.03" fill="#0ab4d2"/><rect x="275" y="82.59" width="28" height="28.03" fill="#2895ec"/><rect x="302.5" y="82.59" width="28" height="28.03" fill="#484ef1"/><rect x="330" y="82.59" width="248" height="28.03" fill="#4330c5"/><rect x="-27.5" y="110.12" width="55.5" height="28.03" fill="#2895ec"/><rect x="27.5" y="110.12" width="28" height="28.03" fill="#3f6eff"/><rect x="55" y="110.12" width="28" height="28.03" fill="#2895ec"/><rect x="82.5" y="110.12" width="83" height="28.03" fill="#2fc5a2"/><rect x="165" y="110.12" width="28" height="28.03" fill="#2895ec"/><rect x="192.5" y="110.12" width="55.5" height="28.03" fill="#2fc5a2"/><rect x="247.5" y="110.12" width="28" height="28.03" fill="#0ab4d2"/><rect x="275" y="110.12" width="28" height="28.03" fill="#3f6eff"/><rect x="302.5" y="110.12" width="275.5" height="28.03" fill="#4330c5"/><rect x="-27.5" y="137.65" width="55.5" height="28.03" fill="#2895ec"/><rect x="27.5" y="137.65" width="28" height="28.03" fill="#3f6eff"/><rect x="55" y="137.65" width="28" height="28.03" fill="#0ab4d2"/><rect x="82.5" y="137.65" width="110.5" height="28.03" fill="#2fc5a2"/><rect x="192.5" y="137.65" width="28" height="28.03" fill="#2895ec"/><rect x="220" y="137.65" width="28" height="28.03" fill="#0ab4d2"/><rect x="247.5" y="137.65" width="28" height="28.03" fill="#2895ec"/><rect x="275" y="137.65" width="28" height="28.03" fill="#484ef1"/><rect x="302.5" y="137.65" width="275.5" height="28.03" fill="#4330c5"/><rect x="-27.5" y="165.18" width="55.5" height="28.03" fill="#2895ec"/><rect x="27.5" y="165.18" width="28" height="28.03" fill="#3f6eff"/><rect x="55" y="165.18" width="28" height="28.03" fill="#0ab4d2"/><rect x="82.5" y="165.18" width="138" height="28.03" fill="#2fc5a2"/><rect x="220" y="165.18" width="28" height="28.03" fill="#484ef1"/><rect x="247.5" y="165.18" width="28" height="28.03" fill="#3f6eff"/><rect x="275" y="165.18" width="28" height="28.03" fill="#484ef1"/><rect x="302.5" y="165.18" width="275.5" height="28.03" fill="#4330c5"/><rect x="-27.5" y="192.71" width="55.5" height="28.03" fill="#2895ec"/><rect x="27.5" y="192.71" width="28" height="28.03" fill="#3f6eff"/><rect x="55" y="192.71" width="28" height="28.03" fill="#0ab4d2"/><rect x="82.5" y="192.71" width="83" height="28.03" fill="#2fc5a2"/><rect x="165" y="192.71" width="55.5" height="28.03" fill="#0ab4d2"/><rect x="220" y="192.71" width="28" height="28.03" fill="#3f6eff"/><rect x="247.5" y="192.71" width="28" height="28.03" fill="#484ef1"/><rect x="275" y="192.71" width="303" height="28.03" fill="#4330c5"/><rect x="-27.5" y="220.24" width="55.5" height="28.03" fill="#2895ec"/><rect x="27.5" y="220.24" width="28" height="28.03" fill="#3f6eff"/><rect x="55" y="220.24" width="28" height="28.03" fill="#2895ec"/><rect x="82.5" y="220.24" width="83" height="28.03" fill="#0ab4d2"/><rect x="165" y="220.24" width="28" height="28.03" fill="#2895ec"/><rect x="192.5" y="220.24" width="28" height="28.03" fill="#3f6eff"/><rect x="220" y="220.24" width="55.5" height="28.03" fill="#484ef1"/><rect x="275" y="220.24" width="303" height="28.03" fill="#4330c5"/><rect x="-27.5" y="247.76" width="55.5" height="28.03" fill="#2895ec"/><rect x="27.5" y="247.76" width="28" height="28.03" fill="#484ef1"/><rect x="55" y="247.76" width="110.5" height="28.03" fill="#3f6eff"/><rect x="165" y="247.76" width="55.5" height="28.03" fill="#484ef1"/><rect x="220" y="247.76" width="358" height="28.03" fill="#4330c5"/><rect x="-27.5" y="275.29" width="55.5" height="28.03" fill="#2fc5a2"/><rect x="27.5" y="275.29" width="138" height="28.03" fill="#484ef1"/><rect x="165" y="275.29" width="413" height="28.03" fill="#4330c5"/><rect x="-27.5" y="302.82" width="55.5" height="28.03" fill="#2895ec"/><rect x="27.5" y="302.82" width="28" height="28.03" fill="#484ef1"/><rect x="55" y="302.82" width="523" height="28.03" fill="#4330c5"/><rect x="-27.5" y="330.35" width="55.5" height="28.03" fill="#2895ec"/><rect x="27.5" y="330.35" width="28" height="28.03" fill="#484ef1"/><rect x="55" y="330.35" width="330.5" height="28.03" fill="#4330c5"/><rect x="385" y="330.35" width="110.5" height="28.03" fill="#484ef1"/><rect x="495" y="330.35" width="83" height="28.03" fill="#4330c5"/><rect x="-27.5" y="357.88" width="55.5" height="28.03" fill="#2895ec"/><rect x="27.5" y="357.88" width="28" height="28.03" fill="#484ef1"/><rect x="55" y="357.88" width="303" height="28.03" fill="#4330c5"/><rect x="357.5" y="357.88" width="55.5" height="28.03" fill="#484ef1"/><rect x="412.5" y="357.88" width="165.5" height="28.03" fill="#4330c5"/><rect x="-27.5" y="385.41" width="55.5" height="28.03" fill="#2895ec"/><rect x="27.5" y="385.41" width="28" height="28.03" fill="#484ef1"/><rect x="55" y="385.41" width="303" height="28.03" fill="#4330c5"/><rect x="357.5" y="385.41" width="28" height="28.03" fill="#484ef1"/><rect x="385" y="385.41" width="193" height="28.03" fill="#4330c5"/><rect x="-27.5" y="412.94" width="55.5" height="28.03" fill="#2895ec"/><rect x="27.5" y="412.94" width="28" height="28.03" fill="#484ef1"/><rect x="55" y="412.94" width="523" height="28.03" fill="#4330c5"/><rect x="-27.5" y="440.47" width="55.5" height="28.03" fill="#2895ec"/><rect x="27.5" y="440.47" width="28" height="28.03" fill="#484ef1"/><rect x="55" y="440.47" width="523" height="28.03" fill="#4330c5"/><rect x="-27.5" y="468" width="55.5" height="28.03" fill="#2895ec"/><rect x="27.5" y="468" width="28" height="28.03" fill="#484ef1"/><rect x="55" y="468" width="523" height="28.03" fill="#4330c5"/></g><filter id="o106" filterUnits="userSpaceOnUse" x="-100" y="-100" width="750" height="668"><feGaussianBlur stdDeviation="1.5"/></filter><g filter="url(#o106)"><linearGradient id="go106" x1="0" y1="0" x2="1" y2="0"><stop offset="0" stop-color="#0ab4d2"/><stop offset="0.06" stop-color="#ead44e"/><stop offset="0.58" stop-color="#ead44e"/><stop offset="0.62" stop-color="#2fc5a2"/><stop offset="1" stop-color="#0ab4d2"/></linearGradient><rect x="0" y="0" width="550" height="24" fill="url(#go106)"/></g><filter id="o107" filterUnits="userSpaceOnUse" x="-100" y="-100" width="750" height="668"><feGaussianBlur stdDeviation="2"/></filter><g filter="url(#o107)"><rect x="0" y="24" width="550" height="6" fill="#4330c5"/></g><filter id="o108" filterUnits="userSpaceOnUse" x="-100" y="-100" width="750" height="668"><feGaussianBlur stdDeviation="1.5"/></filter><g filter="url(#o108)"><linearGradient id="go108" x1="0" y1="0" x2="0" y2="1"><stop offset="0" stop-color="#2895ec"/><stop offset="0.5" stop-color="#2895ec"/><stop offset="0.58" stop-color="#2fc5a2"/><stop offset="0.65" stop-color="#2895ec"/><stop offset="1" stop-color="#2895ec"/></linearGradient><rect x="0" y="0" width="24" height="468" fill="url(#go108)"/></g><filter id="o109" filterUnits="userSpaceOnUse" x="-100" y="-100" width="750" height="668"><feGaussianBlur stdDeviation="4"/></filter><g filter="url(#o109)"><line x1="40" y1="130" x2="140" y2="40" stroke="#4330c5" stroke-width="10"/></g></svg>
<svg class="cb" style="left:96.4px;top:411px;width:5.4px;height:67.6px" viewBox="0 0 10 100" preserveAspectRatio="none"><rect width="10" height="100" fill="url(#pg)"/></svg>
<svg class="hm" style="left:124.1px;top:411px;width:78.6px;height:67.6px" viewBox="0 0 550 468" preserveAspectRatio="none"><filter id="f22" x="-10%" y="-10%" width="120%" height="120%"><feGaussianBlur stdDeviation="12"/></filter><g filter="url(#f22)"><rect x="-27.5" y="-27.53" width="55.5" height="28.03" fill="#3f6eff"/><rect x="27.5" y="-27.53" width="550.5" height="28.03" fill="#2895ec"/><rect x="-27.5" y="0" width="55.5" height="28.03" fill="#3f6eff"/><rect x="27.5" y="0" width="550.5" height="28.03" fill="#2895ec"/><rect x="-27.5" y="27.53" width="55.5" height="28.03" fill="#3f6eff"/><rect x="27.5" y="27.53" width="275.5" height="28.03" fill="#2895ec"/><rect x="302.5" y="27.53" width="193" height="28.03" fill="#3f6eff"/><rect x="495" y="27.53" width="83" height="28.03" fill="#2895ec"/><rect x="-27.5" y="55.06" width="55.5" height="28.03" fill="#3f6eff"/><rect x="27.5" y="55.06" width="28" height="28.03" fill="#2895ec"/><rect x="55" y="55.06" width="55.5" height="28.03" fill="#3f6eff"/><rect x="110" y="55.06" width="138" height="28.03" fill="#2895ec"/><rect x="247.5" y="55.06" width="248" height="28.03" fill="#3f6eff"/><rect x="495" y="55.06" width="83" height="28.03" fill="#2895ec"/><rect x="-27.5" y="82.59" width="55.5" height="28.03" fill="#3f6eff"/><rect x="27.5" y="82.59" width="55.5" height="28.03" fill="#2895ec"/><rect x="82.5" y="82.59" width="55.5" height="28.03" fill="#3f6eff"/><rect x="137.5" y="82.59" width="83" height="28.03" fill="#2895ec"/><rect x="220" y="82.59" width="275.5" height="28.03" fill="#3f6eff"/><rect x="495" y="82.59" width="83" height="28.03" fill="#2895ec"/><rect x="-27.5" y="110.12" width="55.5" height="28.03" fill="#3f6eff"/><rect x="27.5" y="110.12" width="83" height="28.03" fill="#2895ec"/><rect x="110" y="110.12" width="55.5" height="28.03" fill="#3f6eff"/><rect x="165" y="110.12" width="28" height="28.03" fill="#2895ec"/><rect x="192.5" y="110.12" width="303" height="28.03" fill="#3f6eff"/><rect x="495" y="110.12" width="83" height="28.03" fill="#2895ec"/><rect x="-27.5" y="137.65" width="55.5" height="28.03" fill="#3f6eff"/><rect x="27.5" y="137.65" width="110.5" height="28.03" fill="#2895ec"/><rect x="137.5" y="137.65" width="165.5" height="28.03" fill="#3f6eff"/><rect x="302.5" y="137.65" width="83" height="28.03" fill="#2895ec"/><rect x="385" y="137.65" width="110.5" height="28.03" fill="#3f6eff"/><rect x="495" y="137.65" width="83" height="28.03" fill="#2895ec"/><rect x="-27.5" y="165.18" width="55.5" height="28.03" fill="#3f6eff"/><rect x="27.5" y="165.18" width="138" height="28.03" fill="#2895ec"/><rect x="165" y="165.18" width="110.5" height="28.03" fill="#3f6eff"/><rect x="275" y="165.18" width="110.5" height="28.03" fill="#2895ec"/><rect x="385" y="165.18" width="110.5" height="28.03" fill="#3f6eff"/><rect x="495" y="165.18" width="83" height="28.03" fill="#2895ec"/><rect x="-27.5" y="192.71" width="55.5" height="28.03" fill="#3f6eff"/><rect x="27.5" y="192.71" width="83" height="28.03" fill="#2895ec"/><rect x="110" y="192.71" width="138" height="28.03" fill="#3f6eff"/><rect x="247.5" y="192.71" width="110.5" height="28.03" fill="#2895ec"/><rect x="357.5" y="192.71" width="138" height="28.03" fill="#3f6eff"/><rect x="495" y="192.71" width="83" height="28.03" fill="#2895ec"/><rect x="-27.5" y="220.24" width="55.5" height="28.03" fill="#3f6eff"/><rect x="27.5" y="220.24" width="55.5" height="28.03" fill="#2895ec"/><rect x="82.5" y="220.24" width="138" height="28.03" fill="#3f6eff"/><rect x="220" y="220.24" width="83" height="28.03" fill="#2895ec"/><rect x="302.5" y="220.24" width="193" height="28.03" fill="#3f6eff"/><rect x="495" y="220.24" width="83" height="28.03" fill="#2895ec"/><rect x="-27.5" y="247.76" width="55.5" height="28.03" fill="#3f6eff"/><rect x="27.5" y="247.76" width="28" height="28.03" fill="#2895ec"/><rect x="55" y="247.76" width="138" height="28.03" fill="#3f6eff"/><rect x="192.5" y="247.76" width="83" height="28.03" fill="#2895ec"/><rect x="275" y="247.76" width="220.5" height="28.03" fill="#3f6eff"/><rect x="495" y="247.76" width="28" height="28.03" fill="#0ab4d2"/><rect x="522.5" y="247.76" width="55.5" height="28.03" fill="#2fc5a2"/><rect x="-27.5" y="275.29" width="55.5" height="28.03" fill="#3f6eff"/><rect x="27.5" y="275.29" width="28" height="28.03" fill="#2895ec"/><rect x="55" y="275.29" width="110.5" height="28.03" fill="#3f6eff"/><rect x="165" y="275.29" width="83" height="28.03" fill="#2895ec"/><rect x="247.5" y="275.29" width="220.5" height="28.03" fill="#3f6eff"/><rect x="467.5" y="275.29" width="28" height="28.03" fill="#2fc5a2"/><rect x="495" y="275.29" width="83" height="28.03" fill="#d7be28"/><rect x="-27.5" y="302.82" width="55.5" height="28.03" fill="#3f6eff"/><rect x="27.5" y="302.82" width="28" height="28.03" fill="#2895ec"/><rect x="55" y="302.82" width="110.5" height="28.03" fill="#3f6eff"/><rect x="165" y="302.82" width="55.5" height="28.03" fill="#2895ec"/><rect x="220" y="302.82" width="220.5" height="28.03" fill="#3f6eff"/><rect x="440" y="302.82" width="28" height="28.03" fill="#2895ec"/><rect x="467.5" y="302.82" width="28" height="28.03" fill="#7acc5d"/><rect x="495" y="302.82" width="83" height="28.03" fill="#2fc5a2"/><rect x="-27.5" y="330.35" width="55.5" height="28.03" fill="#3f6eff"/><rect x="27.5" y="330.35" width="28" height="28.03" fill="#2895ec"/><rect x="55" y="330.35" width="385.5" height="28.03" fill="#3f6eff"/><rect x="440" y="330.35" width="28" height="28.03" fill="#2895ec"/><rect x="467.5" y="330.35" width="28" height="28.03" fill="#2fc5a2"/><rect x="495" y="330.35" width="83" height="28.03" fill="#0ab4d2"/><rect x="-27.5" y="357.88" width="55.5" height="28.03" fill="#3f6eff"/><rect x="27.5" y="357.88" width="28" height="28.03" fill="#2895ec"/><rect x="55" y="357.88" width="358" height="28.03" fill="#3f6eff"/><rect x="412.5" y="357.88" width="28" height="28.03" fill="#0ab4d2"/><rect x="440" y="357.88" width="28" height="28.03" fill="#2fc5a2"/><rect x="467.5" y="357.88" width="110.5" height="28.03" fill="#0ab4d2"/><rect x="-27.5" y="385.41" width="55.5" height="28.03" fill="#3f6eff"/><rect x="27.5" y="385.41" width="55.5" height="28.03" fill="#2895ec"/><rect x="82.5" y="385.41" width="248" height="28.03" fill="#3f6eff"/><rect x="330" y="385.41" width="28" height="28.03" fill="#0ab4d2"/><rect x="357.5" y="385.41" width="55.5" height="28.03" fill="#2fc5a2"/><rect x="412.5" y="385.41" width="165.5" height="28.03" fill="#0ab4d2"/><rect x="-27.5" y="412.94" width="55.5" height="28.03" fill="#3f6eff"/><rect x="27.5" y="412.94" width="83" height="28.03" fill="#2895ec"/><rect x="110" y="412.94" width="193" height="28.03" fill="#3f6eff"/><rect x="302.5" y="412.94" width="28" height="28.03" fill="#7acc5d"/><rect x="330" y="412.94" width="28" height="28.03" fill="#d7be28"/><rect x="357.5" y="412.94" width="28" height="28.03" fill="#2fc5a2"/><rect x="385" y="412.94" width="193" height="28.03" fill="#0ab4d2"/><rect x="-27.5" y="440.47" width="55.5" height="28.03" fill="#3f6eff"/><rect x="27.5" y="440.47" width="275.5" height="28.03" fill="#2895ec"/><rect x="302.5" y="440.47" width="55.5" height="28.03" fill="#d7be28"/><rect x="357.5" y="440.47" width="28" height="28.03" fill="#2fc5a2"/><rect x="385" y="440.47" width="193" height="28.03" fill="#0ab4d2"/><rect x="-27.5" y="468" width="55.5" height="28.03" fill="#3f6eff"/><rect x="27.5" y="468" width="275.5" height="28.03" fill="#2895ec"/><rect x="302.5" y="468" width="55.5" height="28.03" fill="#d7be28"/><rect x="357.5" y="468" width="28" height="28.03" fill="#2fc5a2"/><rect x="385" y="468" width="193" height="28.03" fill="#0ab4d2"/></g><filter id="o110" filterUnits="userSpaceOnUse" x="-100" y="-100" width="750" height="668"><feGaussianBlur stdDeviation="1"/></filter><g filter="url(#o110)"><rect x="0" y="0" width="550" height="8" fill="#2895ec"/></g><filter id="o111" filterUnits="userSpaceOnUse" x="-100" y="-100" width="750" height="668"><feGaussianBlur stdDeviation="1.5"/></filter><g filter="url(#o111)"><path d="M 8,470 L 8,30 Q 8,11 27,11 L 548,11" fill="none" stroke="#4330c5" stroke-width="8" stroke-linecap="round" stroke-linejoin="round"/></g><filter id="o112" filterUnits="userSpaceOnUse" x="-100" y="-100" width="750" height="668"><feGaussianBlur stdDeviation="1.5"/></filter><g filter="url(#o112)"><linearGradient id="go112" x1="0" y1="0" x2="1" y2="0"><stop offset="0" stop-color="#2895ec"/><stop offset="1" stop-color="#2895ec"/></linearGradient><rect x="22" y="16" width="528" height="13" fill="url(#go112)"/></g><filter id="o113" filterUnits="userSpaceOnUse" x="-100" y="-100" width="750" height="668"><feGaussianBlur stdDeviation="1.5"/></filter><g filter="url(#o113)"><rect x="12" y="22" width="11" height="446" fill="#2895ec"/></g><g transform="translate(0,0)"><filter id="o115" filterUnits="userSpaceOnUse" x="-100" y="-100" width="750" height="668"><feGaussianBlur stdDeviation="10"/></filter><g filter="url(#o115)"><path d="M 295,110 C 306,94 312,83 330,75 C 348,67 380,62 400,62 C 420,62 439,62 450,72 C 461,82 465,99 468,120 C 471,141 470,176 470,200 C 470,224 470,242 465,262 C 460,282 452,304 440,320 C 428,336 408,342 390,355 C 372,368 353,386 330,395 C 307,404 278,409 250,410 C 222,411 185,407 160,400 C 135,393 113,383 100,370 C 87,357 82,336 80,320 C 78,304 80,288 90,275 C 100,262 120,253 140,243 C 160,233 189,225 210,213 C 231,201 251,187 265,170 C 279,153 284,126 295,110 Z" fill="#3f6eff"/></g><filter id="o116" filterUnits="userSpaceOnUse" x="-100" y="-100" width="750" height="668"><feGaussianBlur stdDeviation="18"/></filter><g filter="url(#o116)"><ellipse cx="360" cy="190" rx="50" ry="50" fill="#2895ec"/></g><filter id="o117" filterUnits="userSpaceOnUse" x="-100" y="-100" width="750" height="668"><feGaussianBlur stdDeviation="18"/></filter><g filter="url(#o117)"><ellipse cx="230" cy="290" rx="55" ry="30" fill="#2895ec"/></g><filter id="o118" filterUnits="userSpaceOnUse" x="-100" y="-100" width="750" height="668"><feGaussianBlur stdDeviation="3"/></filter><g filter="url(#o118)"><line x1="20" y1="17" x2="550" y2="468" stroke="#2895ec" stroke-width="5"/></g><filter id="o119" filterUnits="userSpaceOnUse" x="-100" y="-100" width="750" height="668"><feGaussianBlur stdDeviation="14"/></filter><g filter="url(#o119)"><path d="M 295,110 C 306,94 312,83 330,75 C 348,67 380,62 400,62 C 420,62 439,62 450,72 C 461,82 465,99 468,120 C 471,141 470,176 470,200 C 470,224 470,242 465,262 C 460,282 452,304 440,320 C 428,336 408,342 390,355 C 372,368 353,386 330,395 C 307,404 278,409 250,410 C 222,411 185,407 160,400 C 135,393 113,383 100,370 C 87,357 82,336 80,320 C 78,304 80,288 90,275 C 100,262 120,253 140,243 C 160,233 189,225 210,213 C 231,201 251,187 265,170 C 279,153 284,126 295,110 Z" fill="none" stroke="#4330c5" stroke-width="68" stroke-linecap="round" stroke-linejoin="round"/></g><filter id="o120" filterUnits="userSpaceOnUse" x="-100" y="-100" width="750" height="668"><feGaussianBlur stdDeviation="14"/></filter><g filter="url(#o120)"><ellipse cx="357" cy="318" rx="62" ry="52" fill="#4330c5"/></g></g><filter id="o122" filterUnits="userSpaceOnUse" x="-100" y="-100" width="750" height="668"><feGaussianBlur stdDeviation="10"/></filter><g filter="url(#o122)"><path d="M 305,480 C 305,477 301,478 305,464 C 309,450 313,415 328,396 C 343,377 379,364 396,351 C 413,338 419,330 430,317 C 441,304 452,280 464,271 C 476,262 490,262 504,260 C 518,258 541,260 550,260 C 559,260 558,260 560,260 L 560,480 Z" fill="#0ab4d2"/></g><filter id="o123" filterUnits="userSpaceOnUse" x="-100" y="-100" width="750" height="668"><feGaussianBlur stdDeviation="10"/></filter><g filter="url(#o123)"><path d="M 327,486 C 331,475 335,437 350,418 C 365,399 407,380 418,373" fill="none" stroke="#b4c43a" stroke-width="58" stroke-linecap="round" stroke-linejoin="round"/></g><filter id="o124" filterUnits="userSpaceOnUse" x="-100" y="-100" width="750" height="668"><feGaussianBlur stdDeviation="10"/></filter><g filter="url(#o124)"><path d="M 486,293 C 493,291 512,284 526,282 C 540,280 564,282 572,282" fill="none" stroke="#b4c43a" stroke-width="58" stroke-linecap="round" stroke-linejoin="round"/></g></svg>
<svg class="cb" style="left:204.5px;top:411px;width:5px;height:67.6px" viewBox="0 0 10 100" preserveAspectRatio="none"><rect width="10" height="100" fill="url(#pg)"/></svg>
<svg class="hm" style="left:233.2px;top:411px;width:79.5px;height:67.6px" viewBox="0 0 550 468" preserveAspectRatio="none"><filter id="f23" x="-10%" y="-10%" width="120%" height="120%"><feGaussianBlur stdDeviation="12"/></filter><g filter="url(#f23)"><rect x="-27.5" y="-27.53" width="55.5" height="28.03" fill="#4330c5"/><rect x="27.5" y="-27.53" width="55.5" height="28.03" fill="#0ab4d2"/><rect x="82.5" y="-27.53" width="28" height="28.03" fill="#2fc5a2"/><rect x="110" y="-27.53" width="28" height="28.03" fill="#d7be28"/><rect x="137.5" y="-27.53" width="83" height="28.03" fill="#fdcc32"/><rect x="220" y="-27.53" width="83" height="28.03" fill="#f9fb15"/><rect x="302.5" y="-27.53" width="28" height="28.03" fill="#d7be28"/><rect x="330" y="-27.53" width="28" height="28.03" fill="#2fc5a2"/><rect x="357.5" y="-27.53" width="220.5" height="28.03" fill="#0ab4d2"/><rect x="-27.5" y="0" width="55.5" height="28.03" fill="#4330c5"/><rect x="27.5" y="0" width="55.5" height="28.03" fill="#0ab4d2"/><rect x="82.5" y="0" width="28" height="28.03" fill="#2fc5a2"/><rect x="110" y="0" width="28" height="28.03" fill="#d7be28"/><rect x="137.5" y="0" width="83" height="28.03" fill="#fdcc32"/><rect x="220" y="0" width="83" height="28.03" fill="#f9fb15"/><rect x="302.5" y="0" width="28" height="28.03" fill="#d7be28"/><rect x="330" y="0" width="28" height="28.03" fill="#2fc5a2"/><rect x="357.5" y="0" width="220.5" height="28.03" fill="#0ab4d2"/><rect x="-27.5" y="27.53" width="55.5" height="28.03" fill="#0ab4d2"/><rect x="27.5" y="27.53" width="28" height="28.03" fill="#3f6eff"/><rect x="55" y="27.53" width="55.5" height="28.03" fill="#4330c5"/><rect x="110" y="27.53" width="28" height="28.03" fill="#0ab4d2"/><rect x="137.5" y="27.53" width="83" height="28.03" fill="#fdcc32"/><rect x="220" y="27.53" width="83" height="28.03" fill="#f9fb15"/><rect x="302.5" y="27.53" width="28" height="28.03" fill="#2fc5a2"/><rect x="330" y="27.53" width="248" height="28.03" fill="#0ab4d2"/><rect x="-27.5" y="55.06" width="55.5" height="28.03" fill="#2fc5a2"/><rect x="27.5" y="55.06" width="28" height="28.03" fill="#3f6eff"/><rect x="55" y="55.06" width="28" height="28.03" fill="#4330c5"/><rect x="82.5" y="55.06" width="28" height="28.03" fill="#484ef1"/><rect x="110" y="55.06" width="28" height="28.03" fill="#2fc5a2"/><rect x="137.5" y="55.06" width="83" height="28.03" fill="#fdcc32"/><rect x="220" y="55.06" width="55.5" height="28.03" fill="#f9fb15"/><rect x="275" y="55.06" width="28" height="28.03" fill="#fdcc32"/><rect x="302.5" y="55.06" width="165.5" height="28.03" fill="#2895ec"/><rect x="467.5" y="55.06" width="110.5" height="28.03" fill="#0ab4d2"/><rect x="-27.5" y="82.59" width="55.5" height="28.03" fill="#d7be28"/><rect x="27.5" y="82.59" width="28" height="28.03" fill="#0ab4d2"/><rect x="55" y="82.59" width="28" height="28.03" fill="#2895ec"/><rect x="82.5" y="82.59" width="28" height="28.03" fill="#2fc5a2"/><rect x="110" y="82.59" width="110.5" height="28.03" fill="#fdcc32"/><rect x="220" y="82.59" width="55.5" height="28.03" fill="#f9fb15"/><rect x="275" y="82.59" width="28" height="28.03" fill="#7acc5d"/><rect x="302.5" y="82.59" width="165.5" height="28.03" fill="#484ef1"/><rect x="467.5" y="82.59" width="28" height="28.03" fill="#2895ec"/><rect x="495" y="82.59" width="83" height="28.03" fill="#0ab4d2"/><rect x="-27.5" y="110.12" width="55.5" height="28.03" fill="#fdcc32"/><rect x="27.5" y="110.12" width="55.5" height="28.03" fill="#d7be28"/><rect x="82.5" y="110.12" width="165.5" height="28.03" fill="#fdcc32"/><rect x="247.5" y="110.12" width="28" height="28.03" fill="#d7be28"/><rect x="275" y="110.12" width="28" height="28.03" fill="#3f6eff"/><rect x="302.5" y="110.12" width="138" height="28.03" fill="#4330c5"/><rect x="440" y="110.12" width="28" height="28.03" fill="#484ef1"/><rect x="467.5" y="110.12" width="28" height="28.03" fill="#3f6eff"/><rect x="495" y="110.12" width="83" height="28.03" fill="#0ab4d2"/><rect x="-27.5" y="137.65" width="248" height="28.03" fill="#fdcc32"/><rect x="220" y="137.65" width="28" height="28.03" fill="#7acc5d"/><rect x="247.5" y="137.65" width="28" height="28.03" fill="#3f6eff"/><rect x="275" y="137.65" width="110.5" height="28.03" fill="#484ef1"/><rect x="385" y="137.65" width="83" height="28.03" fill="#4330c5"/><rect x="467.5" y="137.65" width="28" height="28.03" fill="#3f6eff"/><rect x="495" y="137.65" width="83" height="28.03" fill="#0ab4d2"/><rect x="-27.5" y="165.18" width="220.5" height="28.03" fill="#fdcc32"/><rect x="192.5" y="165.18" width="28" height="28.03" fill="#d7be28"/><rect x="220" y="165.18" width="28" height="28.03" fill="#0ab4d2"/><rect x="247.5" y="165.18" width="28" height="28.03" fill="#484ef1"/><rect x="275" y="165.18" width="28" height="28.03" fill="#3f6eff"/><rect x="302.5" y="165.18" width="138" height="28.03" fill="#2895ec"/><rect x="440" y="165.18" width="28" height="28.03" fill="#3f6eff"/><rect x="467.5" y="165.18" width="28" height="28.03" fill="#484ef1"/><rect x="495" y="165.18" width="83" height="28.03" fill="#0ab4d2"/><rect x="-27.5" y="192.71" width="193" height="28.03" fill="#fdcc32"/><rect x="165" y="192.71" width="28" height="28.03" fill="#d7be28"/><rect x="192.5" y="192.71" width="28" height="28.03" fill="#2895ec"/><rect x="220" y="192.71" width="28" height="28.03" fill="#484ef1"/><rect x="247.5" y="192.71" width="28" height="28.03" fill="#0ab4d2"/><rect x="275" y="192.71" width="55.5" height="28.03" fill="#7acc5d"/><rect x="330" y="192.71" width="83" height="28.03" fill="#2fc5a2"/><rect x="412.5" y="192.71" width="28" height="28.03" fill="#0ab4d2"/><rect x="440" y="192.71" width="28" height="28.03" fill="#2895ec"/><rect x="467.5" y="192.71" width="28" height="28.03" fill="#484ef1"/><rect x="495" y="192.71" width="83" height="28.03" fill="#0ab4d2"/><rect x="-27.5" y="220.24" width="165.5" height="28.03" fill="#fdcc32"/><rect x="137.5" y="220.24" width="28" height="28.03" fill="#7acc5d"/><rect x="165" y="220.24" width="55.5" height="28.03" fill="#3f6eff"/><rect x="220" y="220.24" width="55.5" height="28.03" fill="#d7be28"/><rect x="275" y="220.24" width="83" height="28.03" fill="#7acc5d"/><rect x="357.5" y="220.24" width="28" height="28.03" fill="#2fc5a2"/><rect x="385" y="220.24" width="28" height="28.03" fill="#0ab4d2"/><rect x="412.5" y="220.24" width="28" height="28.03" fill="#2895ec"/><rect x="440" y="220.24" width="28" height="28.03" fill="#484ef1"/><rect x="467.5" y="220.24" width="28" height="28.03" fill="#3f6eff"/><rect x="495" y="220.24" width="83" height="28.03" fill="#0ab4d2"/><rect x="-27.5" y="247.76" width="55.5" height="28.03" fill="#fdcc32"/><rect x="27.5" y="247.76" width="28" height="28.03" fill="#d7be28"/><rect x="55" y="247.76" width="28" height="28.03" fill="#2fc5a2"/><rect x="82.5" y="247.76" width="28" height="28.03" fill="#0ab4d2"/><rect x="110" y="247.76" width="28" height="28.03" fill="#3f6eff"/><rect x="137.5" y="247.76" width="28" height="28.03" fill="#4330c5"/><rect x="165" y="247.76" width="28" height="28.03" fill="#484ef1"/><rect x="192.5" y="247.76" width="28" height="28.03" fill="#7acc5d"/><rect x="220" y="247.76" width="55.5" height="28.03" fill="#fdcc32"/><rect x="275" y="247.76" width="28" height="28.03" fill="#7acc5d"/><rect x="302.5" y="247.76" width="28" height="28.03" fill="#484ef1"/><rect x="330" y="247.76" width="110.5" height="28.03" fill="#4330c5"/><rect x="440" y="247.76" width="28" height="28.03" fill="#484ef1"/><rect x="467.5" y="247.76" width="28" height="28.03" fill="#0ab4d2"/><rect x="495" y="247.76" width="28" height="28.03" fill="#7acc5d"/><rect x="522.5" y="247.76" width="55.5" height="28.03" fill="#0ab4d2"/><rect x="-27.5" y="275.29" width="55.5" height="28.03" fill="#2fc5a2"/><rect x="27.5" y="275.29" width="28" height="28.03" fill="#2895ec"/><rect x="55" y="275.29" width="83" height="28.03" fill="#3f6eff"/><rect x="137.5" y="275.29" width="28" height="28.03" fill="#4330c5"/><rect x="165" y="275.29" width="28" height="28.03" fill="#3f6eff"/><rect x="192.5" y="275.29" width="28" height="28.03" fill="#7acc5d"/><rect x="220" y="275.29" width="28" height="28.03" fill="#d7be28"/><rect x="247.5" y="275.29" width="28" height="28.03" fill="#7acc5d"/><rect x="275" y="275.29" width="28" height="28.03" fill="#0ab4d2"/><rect x="302.5" y="275.29" width="138" height="28.03" fill="#4330c5"/><rect x="440" y="275.29" width="28" height="28.03" fill="#484ef1"/><rect x="467.5" y="275.29" width="28" height="28.03" fill="#0ab4d2"/><rect x="495" y="275.29" width="28" height="28.03" fill="#7acc5d"/><rect x="522.5" y="275.29" width="55.5" height="28.03" fill="#0ab4d2"/><rect x="-27.5" y="302.82" width="55.5" height="28.03" fill="#2fc5a2"/><rect x="27.5" y="302.82" width="28" height="28.03" fill="#2895ec"/><rect x="55" y="302.82" width="83" height="28.03" fill="#3f6eff"/><rect x="137.5" y="302.82" width="28" height="28.03" fill="#4330c5"/><rect x="165" y="302.82" width="28" height="28.03" fill="#3f6eff"/><rect x="192.5" y="302.82" width="28" height="28.03" fill="#2fc5a2"/><rect x="220" y="302.82" width="28" height="28.03" fill="#7acc5d"/><rect x="247.5" y="302.82" width="28" height="28.03" fill="#2fc5a2"/><rect x="275" y="302.82" width="28" height="28.03" fill="#2895ec"/><rect x="302.5" y="302.82" width="55.5" height="28.03" fill="#4330c5"/><rect x="357.5" y="302.82" width="55.5" height="28.03" fill="#484ef1"/><rect x="412.5" y="302.82" width="28" height="28.03" fill="#4330c5"/><rect x="440" y="302.82" width="28" height="28.03" fill="#3f6eff"/><rect x="467.5" y="302.82" width="28" height="28.03" fill="#2fc5a2"/><rect x="495" y="302.82" width="28" height="28.03" fill="#7acc5d"/><rect x="522.5" y="302.82" width="55.5" height="28.03" fill="#0ab4d2"/><rect x="-27.5" y="330.35" width="55.5" height="28.03" fill="#2fc5a2"/><rect x="27.5" y="330.35" width="28" height="28.03" fill="#2895ec"/><rect x="55" y="330.35" width="83" height="28.03" fill="#3f6eff"/><rect x="137.5" y="330.35" width="28" height="28.03" fill="#4330c5"/><rect x="165" y="330.35" width="28" height="28.03" fill="#3f6eff"/><rect x="192.5" y="330.35" width="28" height="28.03" fill="#0ab4d2"/><rect x="220" y="330.35" width="28" height="28.03" fill="#2fc5a2"/><rect x="247.5" y="330.35" width="28" height="28.03" fill="#0ab4d2"/><rect x="275" y="330.35" width="28" height="28.03" fill="#3f6eff"/><rect x="302.5" y="330.35" width="110.5" height="28.03" fill="#4330c5"/><rect x="412.5" y="330.35" width="28" height="28.03" fill="#2895ec"/><rect x="440" y="330.35" width="28" height="28.03" fill="#2fc5a2"/><rect x="467.5" y="330.35" width="55.5" height="28.03" fill="#7acc5d"/><rect x="522.5" y="330.35" width="55.5" height="28.03" fill="#0ab4d2"/><rect x="-27.5" y="357.88" width="55.5" height="28.03" fill="#2fc5a2"/><rect x="27.5" y="357.88" width="28" height="28.03" fill="#0ab4d2"/><rect x="55" y="357.88" width="28" height="28.03" fill="#2895ec"/><rect x="82.5" y="357.88" width="55.5" height="28.03" fill="#3f6eff"/><rect x="137.5" y="357.88" width="55.5" height="28.03" fill="#484ef1"/><rect x="192.5" y="357.88" width="83" height="28.03" fill="#2895ec"/><rect x="275" y="357.88" width="28" height="28.03" fill="#484ef1"/><rect x="302.5" y="357.88" width="28" height="28.03" fill="#4330c5"/><rect x="330" y="357.88" width="28" height="28.03" fill="#484ef1"/><rect x="357.5" y="357.88" width="28" height="28.03" fill="#3f6eff"/><rect x="385" y="357.88" width="28" height="28.03" fill="#2895ec"/><rect x="412.5" y="357.88" width="55.5" height="28.03" fill="#2fc5a2"/><rect x="467.5" y="357.88" width="28" height="28.03" fill="#7acc5d"/><rect x="495" y="357.88" width="28" height="28.03" fill="#d7be28"/><rect x="522.5" y="357.88" width="55.5" height="28.03" fill="#0ab4d2"/><rect x="-27.5" y="385.41" width="55.5" height="28.03" fill="#7acc5d"/><rect x="27.5" y="385.41" width="28" height="28.03" fill="#2fc5a2"/><rect x="55" y="385.41" width="55.5" height="28.03" fill="#0ab4d2"/><rect x="110" y="385.41" width="28" height="28.03" fill="#2895ec"/><rect x="137.5" y="385.41" width="28" height="28.03" fill="#3f6eff"/><rect x="165" y="385.41" width="55.5" height="28.03" fill="#4330c5"/><rect x="220" y="385.41" width="55.5" height="28.03" fill="#484ef1"/><rect x="275" y="385.41" width="28" height="28.03" fill="#3f6eff"/><rect x="302.5" y="385.41" width="28" height="28.03" fill="#2895ec"/><rect x="330" y="385.41" width="28" height="28.03" fill="#0ab4d2"/><rect x="357.5" y="385.41" width="83" height="28.03" fill="#2fc5a2"/><rect x="440" y="385.41" width="28" height="28.03" fill="#7acc5d"/><rect x="467.5" y="385.41" width="28" height="28.03" fill="#fdcc32"/><rect x="495" y="385.41" width="28" height="28.03" fill="#d7be28"/><rect x="522.5" y="385.41" width="55.5" height="28.03" fill="#0ab4d2"/><rect x="-27.5" y="412.94" width="83" height="28.03" fill="#d7be28"/><rect x="55" y="412.94" width="83" height="28.03" fill="#7acc5d"/><rect x="137.5" y="412.94" width="28" height="28.03" fill="#2fc5a2"/><rect x="165" y="412.94" width="28" height="28.03" fill="#0ab4d2"/><rect x="192.5" y="412.94" width="28" height="28.03" fill="#2895ec"/><rect x="220" y="412.94" width="28" height="28.03" fill="#0ab4d2"/><rect x="247.5" y="412.94" width="28" height="28.03" fill="#2fc5a2"/><rect x="275" y="412.94" width="165.5" height="28.03" fill="#7acc5d"/><rect x="440" y="412.94" width="28" height="28.03" fill="#d7be28"/><rect x="467.5" y="412.94" width="28" height="28.03" fill="#fdcc32"/><rect x="495" y="412.94" width="28" height="28.03" fill="#7acc5d"/><rect x="522.5" y="412.94" width="55.5" height="28.03" fill="#0ab4d2"/><rect x="-27.5" y="440.47" width="605.5" height="28.03" fill="#2895ec"/><rect x="-27.5" y="468" width="605.5" height="28.03" fill="#2895ec"/></g><filter id="o125" filterUnits="userSpaceOnUse" x="-100" y="-100" width="750" height="668"><feGaussianBlur stdDeviation="1.5"/></filter><g filter="url(#o125)"><line x1="15" y1="13" x2="550" y2="468" stroke="#b88a3a" stroke-width="3"/></g><filter id="o126" filterUnits="userSpaceOnUse" x="-100" y="-100" width="750" height="668"><feGaussianBlur stdDeviation="2.5"/></filter><g filter="url(#o126)"><line x1="520" y1="0" x2="520" y2="468" stroke="#4330c5" stroke-width="9"/></g><filter id="o127" filterUnits="userSpaceOnUse" x="-100" y="-100" width="750" height="668"><feGaussianBlur stdDeviation="2.5"/></filter><g filter="url(#o127)"><line x1="0" y1="444" x2="550" y2="444" stroke="#4330c5" stroke-width="9"/></g><filter id="o128" filterUnits="userSpaceOnUse" x="-100" y="-100" width="750" height="668"><feGaussianBlur stdDeviation="4.5"/></filter><g filter="url(#o128)"><path d="M 178,191 C 194,175 217,156 240,142 C 263,128 285,113 314,105 C 343,97 385,87 412,93 C 439,99 466,122 474,142 C 482,162 474,196 462,216 C 450,236 420,255 400,265 C 380,275 353,265 339,277 C 325,289 322,318 314,339 C 306,360 301,384 289,400 C 277,416 258,431 240,437 C 222,443 194,445 178,437 C 162,429 150,408 142,388 C 134,368 129,339 129,314 C 129,289 134,260 142,240 C 150,220 162,207 178,191 Z" fill="none" stroke="#4330c5" stroke-width="20" stroke-linecap="round" stroke-linejoin="round"/></g></svg>
<svg class="cb" style="left:314.1px;top:411px;width:5px;height:67.6px" viewBox="0 0 10 100" preserveAspectRatio="none"><rect width="10" height="100" fill="url(#pg)"/></svg>
<svg class="hm" style="left:339.3px;top:411px;width:79.2px;height:67.6px" viewBox="0 0 550 468" preserveAspectRatio="none"><filter id="f24" x="-10%" y="-10%" width="120%" height="120%"><feGaussianBlur stdDeviation="12"/></filter><g filter="url(#f24)"><rect x="-27.5" y="-27.53" width="358" height="28.03" fill="#2895ec"/><rect x="330" y="-27.53" width="28" height="28.03" fill="#d7be28"/><rect x="357.5" y="-27.53" width="28" height="28.03" fill="#2fc5a2"/><rect x="385" y="-27.53" width="193" height="28.03" fill="#0ab4d2"/><rect x="-27.5" y="0" width="358" height="28.03" fill="#2895ec"/><rect x="330" y="0" width="28" height="28.03" fill="#d7be28"/><rect x="357.5" y="0" width="28" height="28.03" fill="#2fc5a2"/><rect x="385" y="0" width="193" height="28.03" fill="#0ab4d2"/><rect x="-27.5" y="27.53" width="55.5" height="28.03" fill="#2895ec"/><rect x="27.5" y="27.53" width="28" height="28.03" fill="#2fc5a2"/><rect x="55" y="27.53" width="28" height="28.03" fill="#7acc5d"/><rect x="82.5" y="27.53" width="28" height="28.03" fill="#0ab4d2"/><rect x="110" y="27.53" width="28" height="28.03" fill="#484ef1"/><rect x="137.5" y="27.53" width="28" height="28.03" fill="#0ab4d2"/><rect x="165" y="27.53" width="83" height="28.03" fill="#2fc5a2"/><rect x="247.5" y="27.53" width="28" height="28.03" fill="#0ab4d2"/><rect x="275" y="27.53" width="28" height="28.03" fill="#2895ec"/><rect x="302.5" y="27.53" width="28" height="28.03" fill="#3f6eff"/><rect x="330" y="27.53" width="248" height="28.03" fill="#4330c5"/><rect x="-27.5" y="55.06" width="55.5" height="28.03" fill="#2895ec"/><rect x="27.5" y="55.06" width="28" height="28.03" fill="#2fc5a2"/><rect x="55" y="55.06" width="28" height="28.03" fill="#0ab4d2"/><rect x="82.5" y="55.06" width="28" height="28.03" fill="#484ef1"/><rect x="110" y="55.06" width="28" height="28.03" fill="#2fc5a2"/><rect x="137.5" y="55.06" width="110.5" height="28.03" fill="#7acc5d"/><rect x="247.5" y="55.06" width="28" height="28.03" fill="#2fc5a2"/><rect x="275" y="55.06" width="28" height="28.03" fill="#2895ec"/><rect x="302.5" y="55.06" width="28" height="28.03" fill="#484ef1"/><rect x="330" y="55.06" width="248" height="28.03" fill="#4330c5"/><rect x="-27.5" y="82.59" width="83" height="28.03" fill="#2895ec"/><rect x="55" y="82.59" width="28" height="28.03" fill="#484ef1"/><rect x="82.5" y="82.59" width="28" height="28.03" fill="#2fc5a2"/><rect x="110" y="82.59" width="28" height="28.03" fill="#7acc5d"/><rect x="137.5" y="82.59" width="28" height="28.03" fill="#0ab4d2"/><rect x="165" y="82.59" width="83" height="28.03" fill="#7acc5d"/><rect x="247.5" y="82.59" width="28" height="28.03" fill="#2fc5a2"/><rect x="275" y="82.59" width="28" height="28.03" fill="#2895ec"/><rect x="302.5" y="82.59" width="28" height="28.03" fill="#484ef1"/><rect x="330" y="82.59" width="248" height="28.03" fill="#4330c5"/><rect x="-27.5" y="110.12" width="55.5" height="28.03" fill="#2895ec"/><rect x="27.5" y="110.12" width="28" height="28.03" fill="#3f6eff"/><rect x="55" y="110.12" width="28" height="28.03" fill="#2895ec"/><rect x="82.5" y="110.12" width="28" height="28.03" fill="#2fc5a2"/><rect x="110" y="110.12" width="55.5" height="28.03" fill="#7acc5d"/><rect x="165" y="110.12" width="28" height="28.03" fill="#0ab4d2"/><rect x="192.5" y="110.12" width="55.5" height="28.03" fill="#7acc5d"/><rect x="247.5" y="110.12" width="28" height="28.03" fill="#0ab4d2"/><rect x="275" y="110.12" width="28" height="28.03" fill="#3f6eff"/><rect x="302.5" y="110.12" width="275.5" height="28.03" fill="#4330c5"/><rect x="-27.5" y="137.65" width="55.5" height="28.03" fill="#2895ec"/><rect x="27.5" y="137.65" width="28" height="28.03" fill="#484ef1"/><rect x="55" y="137.65" width="28" height="28.03" fill="#0ab4d2"/><rect x="82.5" y="137.65" width="138" height="28.03" fill="#7acc5d"/><rect x="220" y="137.65" width="28" height="28.03" fill="#2895ec"/><rect x="247.5" y="137.65" width="28" height="28.03" fill="#0ab4d2"/><rect x="275" y="137.65" width="28" height="28.03" fill="#2895ec"/><rect x="302.5" y="137.65" width="28" height="28.03" fill="#484ef1"/><rect x="330" y="137.65" width="248" height="28.03" fill="#4330c5"/><rect x="-27.5" y="165.18" width="55.5" height="28.03" fill="#2895ec"/><rect x="27.5" y="165.18" width="28" height="28.03" fill="#484ef1"/><rect x="55" y="165.18" width="28" height="28.03" fill="#0ab4d2"/><rect x="82.5" y="165.18" width="83" height="28.03" fill="#7acc5d"/><rect x="165" y="165.18" width="28" height="28.03" fill="#2fc5a2"/><rect x="192.5" y="165.18" width="28" height="28.03" fill="#0ab4d2"/><rect x="220" y="165.18" width="28" height="28.03" fill="#484ef1"/><rect x="247.5" y="165.18" width="28" height="28.03" fill="#3f6eff"/><rect x="275" y="165.18" width="28" height="28.03" fill="#484ef1"/><rect x="302.5" y="165.18" width="275.5" height="28.03" fill="#4330c5"/><rect x="-27.5" y="192.71" width="55.5" height="28.03" fill="#2895ec"/><rect x="27.5" y="192.71" width="28" height="28.03" fill="#484ef1"/><rect x="55" y="192.71" width="28" height="28.03" fill="#0ab4d2"/><rect x="82.5" y="192.71" width="110.5" height="28.03" fill="#2fc5a2"/><rect x="192.5" y="192.71" width="28" height="28.03" fill="#0ab4d2"/><rect x="220" y="192.71" width="28" height="28.03" fill="#2895ec"/><rect x="247.5" y="192.71" width="28" height="28.03" fill="#3f6eff"/><rect x="275" y="192.71" width="28" height="28.03" fill="#484ef1"/><rect x="302.5" y="192.71" width="275.5" height="28.03" fill="#4330c5"/><rect x="-27.5" y="220.24" width="55.5" height="28.03" fill="#2895ec"/><rect x="27.5" y="220.24" width="28" height="28.03" fill="#484ef1"/><rect x="55" y="220.24" width="28" height="28.03" fill="#2895ec"/><rect x="82.5" y="220.24" width="83" height="28.03" fill="#0ab4d2"/><rect x="165" y="220.24" width="28" height="28.03" fill="#2895ec"/><rect x="192.5" y="220.24" width="28" height="28.03" fill="#3f6eff"/><rect x="220" y="220.24" width="55.5" height="28.03" fill="#484ef1"/><rect x="275" y="220.24" width="303" height="28.03" fill="#4330c5"/><rect x="-27.5" y="247.76" width="55.5" height="28.03" fill="#0ab4d2"/><rect x="27.5" y="247.76" width="28" height="28.03" fill="#484ef1"/><rect x="55" y="247.76" width="55.5" height="28.03" fill="#3f6eff"/><rect x="110" y="247.76" width="83" height="28.03" fill="#484ef1"/><rect x="192.5" y="247.76" width="385.5" height="28.03" fill="#4330c5"/><rect x="-27.5" y="275.29" width="55.5" height="28.03" fill="#7acc5d"/><rect x="27.5" y="275.29" width="28" height="28.03" fill="#484ef1"/><rect x="55" y="275.29" width="523" height="28.03" fill="#4330c5"/><rect x="-27.5" y="302.82" width="55.5" height="28.03" fill="#2895ec"/><rect x="27.5" y="302.82" width="28" height="28.03" fill="#484ef1"/><rect x="55" y="302.82" width="523" height="28.03" fill="#4330c5"/><rect x="-27.5" y="330.35" width="55.5" height="28.03" fill="#2895ec"/><rect x="27.5" y="330.35" width="28" height="28.03" fill="#484ef1"/><rect x="55" y="330.35" width="330.5" height="28.03" fill="#4330c5"/><rect x="385" y="330.35" width="83" height="28.03" fill="#484ef1"/><rect x="467.5" y="330.35" width="110.5" height="28.03" fill="#4330c5"/><rect x="-27.5" y="357.88" width="55.5" height="28.03" fill="#2895ec"/><rect x="27.5" y="357.88" width="28" height="28.03" fill="#484ef1"/><rect x="55" y="357.88" width="330.5" height="28.03" fill="#4330c5"/><rect x="385" y="357.88" width="55.5" height="28.03" fill="#484ef1"/><rect x="440" y="357.88" width="138" height="28.03" fill="#4330c5"/><rect x="-27.5" y="385.41" width="55.5" height="28.03" fill="#2895ec"/><rect x="27.5" y="385.41" width="28" height="28.03" fill="#484ef1"/><rect x="55" y="385.41" width="330.5" height="28.03" fill="#4330c5"/><rect x="385" y="385.41" width="28" height="28.03" fill="#484ef1"/><rect x="412.5" y="385.41" width="165.5" height="28.03" fill="#4330c5"/><rect x="-27.5" y="412.94" width="55.5" height="28.03" fill="#2895ec"/><rect x="27.5" y="412.94" width="28" height="28.03" fill="#484ef1"/><rect x="55" y="412.94" width="523" height="28.03" fill="#4330c5"/><rect x="-27.5" y="440.47" width="55.5" height="28.03" fill="#2895ec"/><rect x="27.5" y="440.47" width="28" height="28.03" fill="#484ef1"/><rect x="55" y="440.47" width="523" height="28.03" fill="#4330c5"/><rect x="-27.5" y="468" width="55.5" height="28.03" fill="#2895ec"/><rect x="27.5" y="468" width="28" height="28.03" fill="#484ef1"/><rect x="55" y="468" width="523" height="28.03" fill="#4330c5"/></g><filter id="o129" filterUnits="userSpaceOnUse" x="-100" y="-100" width="750" height="668"><feGaussianBlur stdDeviation="1.5"/></filter><g filter="url(#o129)"><linearGradient id="go129" x1="0" y1="0" x2="1" y2="0"><stop offset="0" stop-color="#2895ec"/><stop offset="0.53" stop-color="#2895ec"/><stop offset="0.58" stop-color="#d7be28"/><stop offset="0.64" stop-color="#0ab4d2"/><stop offset="1" stop-color="#0ab4d2"/></linearGradient><rect x="0" y="0" width="550" height="20" fill="url(#go129)"/></g><filter id="o130" filterUnits="userSpaceOnUse" x="-100" y="-100" width="750" height="668"><feGaussianBlur stdDeviation="1.5"/></filter><g filter="url(#o130)"><linearGradient id="go130" x1="0" y1="0" x2="0" y2="1"><stop offset="0" stop-color="#0ab4d2"/><stop offset="0.5" stop-color="#0ab4d2"/><stop offset="0.58" stop-color="#d7be28"/><stop offset="0.66" stop-color="#0ab4d2"/><stop offset="1" stop-color="#0ab4d2"/></linearGradient><rect x="0" y="0" width="24" height="468" fill="url(#go130)"/></g><filter id="o131" filterUnits="userSpaceOnUse" x="-100" y="-100" width="750" height="668"><feGaussianBlur stdDeviation="4"/></filter><g filter="url(#o131)"><line x1="40" y1="130" x2="140" y2="40" stroke="#4330c5" stroke-width="10"/></g></svg>
<svg class="cb" style="left:420.2px;top:411px;width:5.4px;height:67.6px" viewBox="0 0 10 100" preserveAspectRatio="none"><rect width="10" height="100" fill="url(#pg)"/></svg>
<svg class="lp" style="left:0;top:0;width:550px;height:505px" viewBox="0 0 550 505"><rect x="452.6" y="3" width="89.4" height="68" fill="none" stroke="#c4c4c4" stroke-width="0.6"/><polyline points="458.5,71 459.3,50 460.2,25 460.7,16.5 461.5,18 462.6,28 464.1,38.6 465.5,40.5 467.8,41.6 470,45 472.3,49 476,53 479.7,55.7 485.7,58 491.6,58 494.5,57 497.5,55.7 500,54.5 502.4,55.5 505.4,56.2 506.9,50.5 508.2,44 509.1,38.6 510.6,22.3 512.8,11.1 514.3,9.7 515.5,11.5 517.3,16.3 519,20.5 521,23.8 527,24.1 530.7,19.3 533.9,16 535.5,17.5 537.3,19.3 539.6,20 541.8,28.2" fill="none" stroke="#bdd7e0" stroke-width="1.1" stroke-linejoin="round"/><rect x="452.4" y="104" width="88.1" height="68" fill="none" stroke="#c4c4c4" stroke-width="0.6"/><polyline points="461.6,166 462.3,150 463,133 463.4,128 464.2,131 465,137 466,143 468,145 470,146 473,148.5 476,151 479,152.5 482,153.6 488,154.4 494,153.6 496,151.5 497,150 500,149.6 504,150 506,147 507.5,138 509,126 510.5,120 512,116 513.5,116.5 515,119 517,124 519,129 521.5,132.5 524,134 526,133 528,131 530.5,127.5 533,124 535,122.5 537,122 538.5,123 540.5,127" fill="none" stroke="#bdd7e0" stroke-width="1.1" stroke-linejoin="round"/><rect x="452.4" y="205.6" width="88.1" height="67.4" fill="none" stroke="#c4c4c4" stroke-width="0.6"/><polyline points="464,273 464,240 464,212 464.3,208 465,209 466,212 467,225 468,245 470,246.4 472.5,248.5 475,250 478,251.8 481,253 485,253.5 489,253.6 494,252 496,250 498,248 501,247.4 504,247.4 505,246 506,243 507.5,232 509,222 510.5,217 512,214 513.5,214.3 515,216 517,221 519,226 521.5,230.5 524,233 526,232.8 528,231 530,227.5 532,224 534,221 536,219 538,219.3 540.5,220" fill="none" stroke="#bdd7e0" stroke-width="1.1" stroke-linejoin="round"/><rect x="451.4" y="309.4" width="90.1" height="67.6" fill="none" stroke="#c4c4c4" stroke-width="0.6"/><polyline points="452.9,309.4 453,320.8 453.8,331 454.6,341.6 455.5,351 456.6,360.3 458.5,364 460.8,366.5 464,368.8 467,370.7 471.2,372.3 474,371.8 477.4,370.7 483.7,368.6 486.5,366.5 488.9,364.4 491,363 493,362 496.1,362.8 499.3,360.3 500.8,350 502.4,337.4 504,327 505.5,319.8 507.6,317.7 509,320.5 510.7,327 512.8,333 514.8,338.5 517.5,341.2 520,342.6 522.5,342.6 525.2,341.6 527.5,338.5 529.4,333.3 531,327 532.5,321.8 534.6,320.8 536,322.5 537.7,325 539.5,326 541.5,326.6" fill="none" stroke="#bdd7e0" stroke-width="1.1" stroke-linejoin="round"/><rect x="452.5" y="410.4" width="89.4" height="68.6" fill="none" stroke="#c4c4c4" stroke-width="0.6"/><polyline points="455.6,479 456.7,474 457.7,468.6 458.7,460 459.8,454 461.2,457.5 462.9,460.3 465,461.5 467,462.4 469,463.7 471.2,464.9 474,464.3 477.4,463.4 480.5,462.4 483.7,461.3 486.5,459.8 488.9,458.2 490.5,457 492,456.1 493.5,457 495.1,457.8 497,457 499.3,456.1 500.8,447 502.4,437.4 503.7,429 504.9,422.9 506.2,420.5 507.6,419.8 509,421.5 510.7,425 512.8,430 514.8,434.3 517.5,437.2 520,438.5 522.5,438.5 525.2,437.4 527.4,434.5 529.4,431.2 531,428 532.5,425 535,424.5 541.9,425.4" fill="none" stroke="#bdd7e0" stroke-width="1.1" stroke-linejoin="round"/></svg>
<svg class="tx" style="left:0;top:0;width:550px;height:505px" viewBox="0 0 550 505"><text class="tk" x="102.7" y="9.7" text-anchor="start">0.6</text>
<text class="tk" x="102.7" y="19.8" text-anchor="start">0.5</text>
<text class="tk" x="102.7" y="30.2" text-anchor="start">0.4</text>
<text class="tk" x="102.7" y="40.3" text-anchor="start">0.3</text>
<text class="tk" x="102.7" y="50.7" text-anchor="start">0.2</text>
<text class="tk" x="102.7" y="61.1" text-anchor="start">0.1</text>
<text class="tk" x="14.4" y="3.5" text-anchor="end">520</text>
<text class="tk" x="15.3" y="76.2" text-anchor="middle">520</text>
<text class="tk" x="14.4" y="18.01" text-anchor="end">580</text>
<text class="tk" x="32.34" y="76.2" text-anchor="middle">580</text>
<text class="tk" x="14.4" y="32.51" text-anchor="end">640</text>
<text class="tk" x="49.37" y="76.2" text-anchor="middle">640</text>
<text class="tk" x="14.4" y="47.02" text-anchor="end">700</text>
<text class="tk" x="66.41" y="76.2" text-anchor="middle">700</text>
<text class="tk" x="14.4" y="61.53" text-anchor="end">760</text>
<text class="tk" x="83.44" y="76.2" text-anchor="middle">760</text>
<text class="xl" x="55.05" y="81" text-anchor="middle">Wavelength(nm)</text>
<text class="xl" x="0" y="0" text-anchor="middle" transform="translate(5.1,36.85) rotate(-90)">Wavelength(nm)</text>
<text class="cp" x="33.6" y="93.6" text-anchor="start">(</text>
<text class="cl" x="39.3" y="93.6" text-anchor="start" textLength="13" lengthAdjust="spacingAndGlyphs">a-1</text>
<text class="cp" x="53.3" y="93.6" text-anchor="start">)</text>
<text class="cn" x="63.3" y="93.6" text-anchor="start" textLength="14.9" lengthAdjust="spacingAndGlyphs">FRI</text>
<text class="tk" x="210.4" y="7.2" text-anchor="start">0.45</text>
<text class="tk" x="210.4" y="14.6" text-anchor="start">0.4</text>
<text class="tk" x="210.4" y="22" text-anchor="start">0.35</text>
<text class="tk" x="210.4" y="28.7" text-anchor="start">0.3</text>
<text class="tk" x="210.4" y="36.2" text-anchor="start">0.25</text>
<text class="tk" x="210.4" y="42.8" text-anchor="start">0.2</text>
<text class="tk" x="210.4" y="50.3" text-anchor="start">0.15</text>
<text class="tk" x="210.4" y="57" text-anchor="start">0.1</text>
<text class="tk" x="210.4" y="64.4" text-anchor="start">0.05</text>
<text class="tk" x="123.2" y="3.5" text-anchor="end">520</text>
<text class="tk" x="124.1" y="76.2" text-anchor="middle">520</text>
<text class="tk" x="123.2" y="18.01" text-anchor="end">580</text>
<text class="tk" x="140.94" y="76.2" text-anchor="middle">580</text>
<text class="tk" x="123.2" y="32.51" text-anchor="end">640</text>
<text class="tk" x="157.79" y="76.2" text-anchor="middle">640</text>
<text class="tk" x="123.2" y="47.02" text-anchor="end">700</text>
<text class="tk" x="174.63" y="76.2" text-anchor="middle">700</text>
<text class="tk" x="123.2" y="61.53" text-anchor="end">760</text>
<text class="tk" x="191.47" y="76.2" text-anchor="middle">760</text>
<text class="xl" x="163.4" y="81" text-anchor="middle">Wavelength(nm)</text>
<text class="xl" x="0" y="0" text-anchor="middle" transform="translate(113.9,36.85) rotate(-90)">Wavelength(nm)</text>
<text class="cp" x="136.4" y="93.6" text-anchor="start">(</text>
<text class="cl" x="141" y="93.6" text-anchor="start" textLength="13" lengthAdjust="spacingAndGlyphs">a-2</text>
<text class="cp" x="155.5" y="93.6" text-anchor="start">)</text>
<text class="cn" x="163.6" y="93.6" text-anchor="start" textLength="15.6" lengthAdjust="spacingAndGlyphs">FDI</text>
<text class="tk" x="320" y="10.9" text-anchor="start">0.6</text>
<text class="tk" x="320" y="21" text-anchor="start">0.5</text>
<text class="tk" x="320" y="31" text-anchor="start">0.4</text>
<text class="tk" x="320" y="40.9" text-anchor="start">0.3</text>
<text class="tk" x="320" y="51" text-anchor="start">0.2</text>
<text class="tk" x="320" y="61.4" text-anchor="start">0.1</text>
<text class="tk" x="232.3" y="3.5" text-anchor="end">520</text>
<text class="tk" x="233.2" y="76.2" text-anchor="middle">520</text>
<text class="tk" x="232.3" y="18.01" text-anchor="end">580</text>
<text class="tk" x="250.24" y="76.2" text-anchor="middle">580</text>
<text class="tk" x="232.3" y="32.51" text-anchor="end">640</text>
<text class="tk" x="267.27" y="76.2" text-anchor="middle">640</text>
<text class="tk" x="232.3" y="47.02" text-anchor="end">700</text>
<text class="tk" x="284.31" y="76.2" text-anchor="middle">700</text>
<text class="tk" x="232.3" y="61.53" text-anchor="end">760</text>
<text class="tk" x="301.34" y="76.2" text-anchor="middle">760</text>
<text class="xl" x="272.95" y="81" text-anchor="middle">Wavelength(nm)</text>
<text class="xl" x="0" y="0" text-anchor="middle" transform="translate(223,36.85) rotate(-90)">Wavelength(nm)</text>
<text class="cp" x="243.6" y="93.6" text-anchor="start">(</text>
<text class="cl" x="248.7" y="93.6" text-anchor="start" textLength="13" lengthAdjust="spacingAndGlyphs">a-3</text>
<text class="cp" x="262.7" y="93.6" text-anchor="start">)</text>
<text class="cn" x="271.6" y="93.6" text-anchor="start" textLength="21.8" lengthAdjust="spacingAndGlyphs">FRDI</text>
<text class="tk" x="426.5" y="7.2" text-anchor="start">0.6</text>
<text class="tk" x="426.5" y="17.6" text-anchor="start">0.5</text>
<text class="tk" x="426.5" y="28" text-anchor="start">0.4</text>
<text class="tk" x="426.5" y="39.4" text-anchor="start">0.3</text>
<text class="tk" x="426.5" y="50.3" text-anchor="start">0.2</text>
<text class="tk" x="426.5" y="61.1" text-anchor="start">0.1</text>
<text class="tk" x="338.4" y="3.5" text-anchor="end">520</text>
<text class="tk" x="339.3" y="76.2" text-anchor="middle">520</text>
<text class="tk" x="338.4" y="18.01" text-anchor="end">580</text>
<text class="tk" x="356.27" y="76.2" text-anchor="middle">580</text>
<text class="tk" x="338.4" y="32.51" text-anchor="end">640</text>
<text class="tk" x="373.24" y="76.2" text-anchor="middle">640</text>
<text class="tk" x="338.4" y="47.02" text-anchor="end">700</text>
<text class="tk" x="390.21" y="76.2" text-anchor="middle">700</text>
<text class="tk" x="338.4" y="61.53" text-anchor="end">760</text>
<text class="tk" x="407.19" y="76.2" text-anchor="middle">760</text>
<text class="xl" x="378.9" y="81" text-anchor="middle">Wavelength(nm)</text>
<text class="xl" x="0" y="0" text-anchor="middle" transform="translate(329.1,36.85) rotate(-90)">Wavelength(nm)</text>
<text class="cp" x="353.5" y="93.6" text-anchor="start">(</text>
<text class="cl" x="357.5" y="93.6" text-anchor="start" textLength="13" lengthAdjust="spacingAndGlyphs">a-4</text>
<text class="cp" x="371" y="93.6" text-anchor="start">)</text>
<text class="cn" x="380.4" y="93.6" text-anchor="start" textLength="15.9" lengthAdjust="spacingAndGlyphs">FNI</text>
<text class="tk" x="451.7" y="3.5" text-anchor="end">0.4</text>
<text class="tk" x="451.7" y="20.5" text-anchor="end">0.3</text>
<text class="tk" x="451.7" y="37.5" text-anchor="end">0.2</text>
<text class="tk" x="451.7" y="54.5" text-anchor="end">0.1</text>
<text class="tk" x="451.7" y="71.5" text-anchor="end">0</text>
<text class="tk" x="458.4" y="76.5" text-anchor="middle">520</text>
<text class="tk" x="476.3" y="76.5" text-anchor="middle">580</text>
<text class="tk" x="494.2" y="76.5" text-anchor="middle">640</text>
<text class="tk" x="512.1" y="76.5" text-anchor="middle">700</text>
<text class="tk" x="530" y="76.5" text-anchor="middle">760</text>
<text class="xl" x="497.3" y="81.3" text-anchor="middle">Wavelength(nm)</text>
<text class="xl" x="0" y="0" text-anchor="middle" transform="translate(443.1,37) rotate(-90)">Wavelength(nm)</text>
<text class="cp" x="438" y="92.9" text-anchor="start">(</text>
<text class="cl" x="442.8" y="92.9" text-anchor="start" textLength="13.5" lengthAdjust="spacingAndGlyphs">a-5</text>
<text class="cp" x="457.1" y="92.9" text-anchor="start">)</text>
<text class="cs" x="464.6" y="92.9" text-anchor="start" textLength="79" lengthAdjust="spacingAndGlyphs">Single wavelength</text>
<text class="tk" x="102.7" y="110.2" text-anchor="start">0.6</text>
<text class="tk" x="102.7" y="120.5" text-anchor="start">0.5</text>
<text class="tk" x="102.7" y="131" text-anchor="start">0.4</text>
<text class="tk" x="102.7" y="141.4" text-anchor="start">0.3</text>
<text class="tk" x="102.7" y="151.8" text-anchor="start">0.2</text>
<text class="tk" x="102.7" y="162.2" text-anchor="start">0.1</text>
<text class="tk" x="14.4" y="104.5" text-anchor="end">530</text>
<text class="tk" x="15.3" y="177.5" text-anchor="middle">530</text>
<text class="tk" x="14.4" y="119.61" text-anchor="end">590</text>
<text class="tk" x="32.97" y="177.5" text-anchor="middle">590</text>
<text class="tk" x="14.4" y="134.72" text-anchor="end">650</text>
<text class="tk" x="50.63" y="177.5" text-anchor="middle">650</text>
<text class="tk" x="14.4" y="149.83" text-anchor="end">710</text>
<text class="tk" x="68.3" y="177.5" text-anchor="middle">710</text>
<text class="tk" x="14.4" y="164.94" text-anchor="end">770</text>
<text class="tk" x="85.97" y="177.5" text-anchor="middle">770</text>
<text class="xl" x="55.05" y="182.3" text-anchor="middle">Wavelength(nm)</text>
<text class="xl" x="0" y="0" text-anchor="middle" transform="translate(5.1,138) rotate(-90)">Wavelength(nm)</text>
<text class="cp" x="33.6" y="193.5" text-anchor="start">(</text>
<text class="cl" x="39.3" y="193.5" text-anchor="start" textLength="13" lengthAdjust="spacingAndGlyphs">b-1</text>
<text class="cp" x="53.3" y="193.5" text-anchor="start">)</text>
<text class="cn" x="63.3" y="193.5" text-anchor="start" textLength="14.9" lengthAdjust="spacingAndGlyphs">FRI</text>
<text class="tk" x="210.4" y="112.4" text-anchor="start">0.35</text>
<text class="tk" x="210.4" y="120.5" text-anchor="start">0.3</text>
<text class="tk" x="210.4" y="129.5" text-anchor="start">0.25</text>
<text class="tk" x="210.4" y="138.4" text-anchor="start">0.2</text>
<text class="tk" x="210.4" y="146.5" text-anchor="start">0.15</text>
<text class="tk" x="210.4" y="155.5" text-anchor="start">0.1</text>
<text class="tk" x="210.4" y="164.4" text-anchor="start">0.05</text>
<text class="tk" x="123.2" y="104.5" text-anchor="end">530</text>
<text class="tk" x="124.1" y="177.5" text-anchor="middle">530</text>
<text class="tk" x="123.2" y="119.61" text-anchor="end">590</text>
<text class="tk" x="141.57" y="177.5" text-anchor="middle">590</text>
<text class="tk" x="123.2" y="134.72" text-anchor="end">650</text>
<text class="tk" x="159.03" y="177.5" text-anchor="middle">650</text>
<text class="tk" x="123.2" y="149.83" text-anchor="end">710</text>
<text class="tk" x="176.5" y="177.5" text-anchor="middle">710</text>
<text class="tk" x="123.2" y="164.94" text-anchor="end">770</text>
<text class="tk" x="193.97" y="177.5" text-anchor="middle">770</text>
<text class="xl" x="163.4" y="182.3" text-anchor="middle">Wavelength(nm)</text>
<text class="xl" x="0" y="0" text-anchor="middle" transform="translate(113.9,138) rotate(-90)">Wavelength(nm)</text>
<text class="cp" x="136.4" y="193.5" text-anchor="start">(</text>
<text class="cl" x="141" y="193.5" text-anchor="start" textLength="13" lengthAdjust="spacingAndGlyphs">b-2</text>
<text class="cp" x="155.5" y="193.5" text-anchor="start">)</text>
<text class="cn" x="163.6" y="193.5" text-anchor="start" textLength="15.6" lengthAdjust="spacingAndGlyphs">FDI</text>
<text class="tk" x="320" y="110.9" text-anchor="start">0.6</text>
<text class="tk" x="320" y="121.3" text-anchor="start">0.5</text>
<text class="tk" x="320" y="131.7" text-anchor="start">0.4</text>
<text class="tk" x="320" y="141.8" text-anchor="start">0.3</text>
<text class="tk" x="320" y="152.5" text-anchor="start">0.2</text>
<text class="tk" x="320" y="162.9" text-anchor="start">0.1</text>
<text class="tk" x="232.3" y="104.5" text-anchor="end">530</text>
<text class="tk" x="233.2" y="177.5" text-anchor="middle">530</text>
<text class="tk" x="232.3" y="119.61" text-anchor="end">590</text>
<text class="tk" x="250.87" y="177.5" text-anchor="middle">590</text>
<text class="tk" x="232.3" y="134.72" text-anchor="end">650</text>
<text class="tk" x="268.53" y="177.5" text-anchor="middle">650</text>
<text class="tk" x="232.3" y="149.83" text-anchor="end">710</text>
<text class="tk" x="286.2" y="177.5" text-anchor="middle">710</text>
<text class="tk" x="232.3" y="164.94" text-anchor="end">770</text>
<text class="tk" x="303.87" y="177.5" text-anchor="middle">770</text>
<text class="xl" x="272.95" y="182.3" text-anchor="middle">Wavelength(nm)</text>
<text class="xl" x="0" y="0" text-anchor="middle" transform="translate(223,138) rotate(-90)">Wavelength(nm)</text>
<text class="cp" x="243.6" y="193.5" text-anchor="start">(</text>
<text class="cl" x="248.7" y="193.5" text-anchor="start" textLength="13" lengthAdjust="spacingAndGlyphs">b-3</text>
<text class="cp" x="262.7" y="193.5" text-anchor="start">)</text>
<text class="cn" x="271.6" y="193.5" text-anchor="start" textLength="21.8" lengthAdjust="spacingAndGlyphs">FRDI</text>
<text class="tk" x="426.5" y="115.4" text-anchor="start">0.5</text>
<text class="tk" x="426.5" y="127.2" text-anchor="start">0.4</text>
<text class="tk" x="426.5" y="138.4" text-anchor="start">0.3</text>
<text class="tk" x="426.5" y="149.5" text-anchor="start">0.2</text>
<text class="tk" x="426.5" y="161.4" text-anchor="start">0.1</text>
<text class="tk" x="338.4" y="104.5" text-anchor="end">530</text>
<text class="tk" x="339.3" y="177.5" text-anchor="middle">530</text>
<text class="tk" x="338.4" y="119.61" text-anchor="end">590</text>
<text class="tk" x="356.9" y="177.5" text-anchor="middle">590</text>
<text class="tk" x="338.4" y="134.72" text-anchor="end">650</text>
<text class="tk" x="374.5" y="177.5" text-anchor="middle">650</text>
<text class="tk" x="338.4" y="149.83" text-anchor="end">710</text>
<text class="tk" x="392.1" y="177.5" text-anchor="middle">710</text>
<text class="tk" x="338.4" y="164.94" text-anchor="end">770</text>
<text class="tk" x="409.7" y="177.5" text-anchor="middle">770</text>
<text class="xl" x="378.9" y="182.3" text-anchor="middle">Wavelength(nm)</text>
<text class="xl" x="0" y="0" text-anchor="middle" transform="translate(329.1,138) rotate(-90)">Wavelength(nm)</text>
<text class="cp" x="353.5" y="193.5" text-anchor="start">(</text>
<text class="cl" x="357.5" y="193.5" text-anchor="start" textLength="13" lengthAdjust="spacingAndGlyphs">b-4</text>
<text class="cp" x="371" y="193.5" text-anchor="start">)</text>
<text class="cn" x="380.4" y="193.5" text-anchor="start" textLength="15.9" lengthAdjust="spacingAndGlyphs">FNI</text>
<text class="tk" x="451.5" y="104.5" text-anchor="end">0.5</text>
<text class="tk" x="451.5" y="118.1" text-anchor="end">0.4</text>
<text class="tk" x="451.5" y="131.7" text-anchor="end">0.3</text>
<text class="tk" x="451.5" y="145.3" text-anchor="end">0.2</text>
<text class="tk" x="451.5" y="158.9" text-anchor="end">0.1</text>
<text class="tk" x="451.5" y="172.5" text-anchor="end">0</text>
<text class="tk" x="460" y="177.5" text-anchor="middle">530</text>
<text class="tk" x="478" y="177.5" text-anchor="middle">590</text>
<text class="tk" x="496" y="177.5" text-anchor="middle">650</text>
<text class="tk" x="513.6" y="177.5" text-anchor="middle">710</text>
<text class="tk" x="531.6" y="177.5" text-anchor="middle">770</text>
<text class="xl" x="496.45" y="182.3" text-anchor="middle">Wavelength(nm)</text>
<text class="xl" x="0" y="0" text-anchor="middle" transform="translate(442.9,138) rotate(-90)">Wavelength(nm)</text>
<text class="cp" x="442.3" y="193.5" text-anchor="start">(</text>
<text class="cl" x="446.9" y="193.5" text-anchor="start" textLength="13.5" lengthAdjust="spacingAndGlyphs">b-5</text>
<text class="cp" x="462.5" y="193.5" text-anchor="start">)</text>
<text class="cs" x="470.4" y="193.5" text-anchor="start" textLength="79" lengthAdjust="spacingAndGlyphs">Single wavelength</text>
<text class="tk" x="102.7" y="211.6" text-anchor="start">0.6</text>
<text class="tk" x="102.7" y="222.5" text-anchor="start">0.5</text>
<text class="tk" x="102.7" y="232.9" text-anchor="start">0.4</text>
<text class="tk" x="102.7" y="242.8" text-anchor="start">0.3</text>
<text class="tk" x="102.7" y="253.2" text-anchor="start">0.2</text>
<text class="tk" x="102.7" y="263.7" text-anchor="start">0.1</text>
<text class="tk" x="14.4" y="205.5" text-anchor="end">540</text>
<text class="tk" x="15.3" y="278.8" text-anchor="middle">540</text>
<text class="tk" x="14.4" y="221.26" text-anchor="end">600</text>
<text class="tk" x="33.65" y="278.8" text-anchor="middle">600</text>
<text class="tk" x="14.4" y="237.02" text-anchor="end">660</text>
<text class="tk" x="51.99" y="278.8" text-anchor="middle">660</text>
<text class="tk" x="14.4" y="252.78" text-anchor="end">720</text>
<text class="tk" x="70.34" y="278.8" text-anchor="middle">720</text>
<text class="tk" x="14.4" y="268.55" text-anchor="end">780</text>
<text class="tk" x="88.68" y="278.8" text-anchor="middle">780</text>
<text class="xl" x="55.05" y="283.6" text-anchor="middle">Wavelength(nm)</text>
<text class="xl" x="0" y="0" text-anchor="middle" transform="translate(5.1,239.15) rotate(-90)">Wavelength(nm)</text>
<text class="cp" x="33.6" y="292.6" text-anchor="start">(</text>
<text class="cl" x="39.3" y="292.6" text-anchor="start" textLength="13" lengthAdjust="spacingAndGlyphs">c-1</text>
<text class="cp" x="53.3" y="292.6" text-anchor="start">)</text>
<text class="cn" x="63.3" y="292.6" text-anchor="start" textLength="14.9" lengthAdjust="spacingAndGlyphs">FRI</text>
<text class="tk" x="210.4" y="210.2" text-anchor="start">0.45</text>
<text class="tk" x="210.4" y="217.1" text-anchor="start">0.4</text>
<text class="tk" x="210.4" y="224.3" text-anchor="start">0.35</text>
<text class="tk" x="210.4" y="231.7" text-anchor="start">0.3</text>
<text class="tk" x="210.4" y="238.8" text-anchor="start">0.25</text>
<text class="tk" x="210.4" y="245.8" text-anchor="start">0.2</text>
<text class="tk" x="210.4" y="252.8" text-anchor="start">0.15</text>
<text class="tk" x="210.4" y="259.9" text-anchor="start">0.1</text>
<text class="tk" x="210.4" y="267.4" text-anchor="start">0.05</text>
<text class="tk" x="123.2" y="205.5" text-anchor="end">540</text>
<text class="tk" x="124.1" y="278.8" text-anchor="middle">540</text>
<text class="tk" x="123.2" y="221.26" text-anchor="end">600</text>
<text class="tk" x="142.24" y="278.8" text-anchor="middle">600</text>
<text class="tk" x="123.2" y="237.02" text-anchor="end">660</text>
<text class="tk" x="160.38" y="278.8" text-anchor="middle">660</text>
<text class="tk" x="123.2" y="252.78" text-anchor="end">720</text>
<text class="tk" x="178.52" y="278.8" text-anchor="middle">720</text>
<text class="tk" x="123.2" y="268.55" text-anchor="end">780</text>
<text class="tk" x="196.65" y="278.8" text-anchor="middle">780</text>
<text class="xl" x="163.4" y="283.6" text-anchor="middle">Wavelength(nm)</text>
<text class="xl" x="0" y="0" text-anchor="middle" transform="translate(113.9,239.15) rotate(-90)">Wavelength(nm)</text>
<text class="cp" x="136.4" y="292.6" text-anchor="start">(</text>
<text class="cl" x="141" y="292.6" text-anchor="start" textLength="13" lengthAdjust="spacingAndGlyphs">c-2</text>
<text class="cp" x="155.5" y="292.6" text-anchor="start">)</text>
<text class="cn" x="163.6" y="292.6" text-anchor="start" textLength="15.6" lengthAdjust="spacingAndGlyphs">FDI</text>
<text class="tk" x="320" y="213.1" text-anchor="start">0.6</text>
<text class="tk" x="320" y="222.8" text-anchor="start">0.5</text>
<text class="tk" x="320" y="233.2" text-anchor="start">0.4</text>
<text class="tk" x="320" y="243.6" text-anchor="start">0.3</text>
<text class="tk" x="320" y="253.7" text-anchor="start">0.2</text>
<text class="tk" x="320" y="263.7" text-anchor="start">0.1</text>
<text class="tk" x="232.3" y="205.5" text-anchor="end">540</text>
<text class="tk" x="233.2" y="278.8" text-anchor="middle">540</text>
<text class="tk" x="232.3" y="221.26" text-anchor="end">600</text>
<text class="tk" x="251.55" y="278.8" text-anchor="middle">600</text>
<text class="tk" x="232.3" y="237.02" text-anchor="end">660</text>
<text class="tk" x="269.89" y="278.8" text-anchor="middle">660</text>
<text class="tk" x="232.3" y="252.78" text-anchor="end">720</text>
<text class="tk" x="288.24" y="278.8" text-anchor="middle">720</text>
<text class="tk" x="232.3" y="268.55" text-anchor="end">780</text>
<text class="tk" x="306.58" y="278.8" text-anchor="middle">780</text>
<text class="xl" x="272.95" y="283.6" text-anchor="middle">Wavelength(nm)</text>
<text class="xl" x="0" y="0" text-anchor="middle" transform="translate(223,239.15) rotate(-90)">Wavelength(nm)</text>
<text class="cp" x="243.6" y="292.6" text-anchor="start">(</text>
<text class="cl" x="248.7" y="292.6" text-anchor="start" textLength="13" lengthAdjust="spacingAndGlyphs">c-3</text>
<text class="cp" x="262.7" y="292.6" text-anchor="start">)</text>
<text class="cn" x="271.6" y="292.6" text-anchor="start" textLength="21.8" lengthAdjust="spacingAndGlyphs">FRDI</text>
<text class="tk" x="426.5" y="210.2" text-anchor="start">0.6</text>
<text class="tk" x="426.5" y="220.6" text-anchor="start">0.5</text>
<text class="tk" x="426.5" y="231.4" text-anchor="start">0.4</text>
<text class="tk" x="426.5" y="242.1" text-anchor="start">0.3</text>
<text class="tk" x="426.5" y="252.5" text-anchor="start">0.2</text>
<text class="tk" x="426.5" y="263.2" text-anchor="start">0.1</text>
<text class="tk" x="338.4" y="205.5" text-anchor="end">540</text>
<text class="tk" x="339.3" y="278.8" text-anchor="middle">540</text>
<text class="tk" x="338.4" y="221.26" text-anchor="end">600</text>
<text class="tk" x="357.58" y="278.8" text-anchor="middle">600</text>
<text class="tk" x="338.4" y="237.02" text-anchor="end">660</text>
<text class="tk" x="375.85" y="278.8" text-anchor="middle">660</text>
<text class="tk" x="338.4" y="252.78" text-anchor="end">720</text>
<text class="tk" x="394.13" y="278.8" text-anchor="middle">720</text>
<text class="tk" x="338.4" y="268.55" text-anchor="end">780</text>
<text class="tk" x="412.41" y="278.8" text-anchor="middle">780</text>
<text class="xl" x="378.9" y="283.6" text-anchor="middle">Wavelength(nm)</text>
<text class="xl" x="0" y="0" text-anchor="middle" transform="translate(329.1,239.15) rotate(-90)">Wavelength(nm)</text>
<text class="cp" x="353.5" y="292.6" text-anchor="start">(</text>
<text class="cl" x="357.5" y="292.6" text-anchor="start" textLength="13" lengthAdjust="spacingAndGlyphs">c-4</text>
<text class="cp" x="371" y="292.6" text-anchor="start">)</text>
<text class="cn" x="380.4" y="292.6" text-anchor="start" textLength="15.9" lengthAdjust="spacingAndGlyphs">FNI</text>
<text class="tk" x="451.5" y="206.1" text-anchor="end">0.5</text>
<text class="tk" x="451.5" y="219.6" text-anchor="end">0.4</text>
<text class="tk" x="451.5" y="233.1" text-anchor="end">0.3</text>
<text class="tk" x="451.5" y="246.5" text-anchor="end">0.2</text>
<text class="tk" x="451.5" y="260" text-anchor="end">0.1</text>
<text class="tk" x="451.5" y="273.5" text-anchor="end">0</text>
<text class="tk" x="464" y="278.5" text-anchor="middle">540</text>
<text class="tk" x="481.5" y="278.5" text-anchor="middle">600</text>
<text class="tk" x="499" y="278.5" text-anchor="middle">660</text>
<text class="tk" x="516.5" y="278.5" text-anchor="middle">720</text>
<text class="tk" x="534" y="278.5" text-anchor="middle">780</text>
<text class="xl" x="496.45" y="283.3" text-anchor="middle">Wavelength(nm)</text>
<text class="xl" x="0" y="0" text-anchor="middle" transform="translate(442.9,239.3) rotate(-90)">Wavelength(nm)</text>
<text class="cp" x="439.1" y="292.4" text-anchor="start">(</text>
<text class="cl" x="444.2" y="292.4" text-anchor="start" textLength="13.5" lengthAdjust="spacingAndGlyphs">c-5</text>
<text class="cp" x="458.2" y="292.4" text-anchor="start">)</text>
<text class="cs" x="465.4" y="292.4" text-anchor="start" textLength="79" lengthAdjust="spacingAndGlyphs">Single wavelength</text>
<text class="tk" x="102.7" y="312.2" text-anchor="start">0.6</text>
<text class="tk" x="102.7" y="323" text-anchor="start">0.5</text>
<text class="tk" x="102.7" y="334.5" text-anchor="start">0.4</text>
<text class="tk" x="102.7" y="344.9" text-anchor="start">0.3</text>
<text class="tk" x="102.7" y="356" text-anchor="start">0.2</text>
<text class="tk" x="102.7" y="366.4" text-anchor="start">0.1</text>
<text class="tk" x="14.4" y="309" text-anchor="end">550</text>
<text class="tk" x="15.3" y="381.9" text-anchor="middle">550</text>
<text class="tk" x="14.4" y="325.3" text-anchor="end">610</text>
<text class="tk" x="34.38" y="381.9" text-anchor="middle">610</text>
<text class="tk" x="14.4" y="341.59" text-anchor="end">670</text>
<text class="tk" x="53.46" y="381.9" text-anchor="middle">670</text>
<text class="tk" x="14.4" y="357.89" text-anchor="end">730</text>
<text class="tk" x="72.54" y="381.9" text-anchor="middle">730</text>
<text class="tk" x="14.4" y="374.18" text-anchor="end">790</text>
<text class="tk" x="91.62" y="381.9" text-anchor="middle">790</text>
<text class="xl" x="55.05" y="386.7" text-anchor="middle">Wavelength(nm)</text>
<text class="xl" x="0" y="0" text-anchor="middle" transform="translate(5.1,342.45) rotate(-90)">Wavelength(nm)</text>
<text class="cp" x="33.6" y="399.7" text-anchor="start">(</text>
<text class="cl" x="39.3" y="399.7" text-anchor="start" textLength="13" lengthAdjust="spacingAndGlyphs">d-1</text>
<text class="cp" x="53.3" y="399.7" text-anchor="start">)</text>
<text class="cn" x="63.3" y="399.7" text-anchor="start" textLength="14.9" lengthAdjust="spacingAndGlyphs">FRI</text>
<text class="tk" x="210.4" y="312.2" text-anchor="start">0.45</text>
<text class="tk" x="210.4" y="319.6" text-anchor="start">0.4</text>
<text class="tk" x="210.4" y="327" text-anchor="start">0.35</text>
<text class="tk" x="210.4" y="333.7" text-anchor="start">0.3</text>
<text class="tk" x="210.4" y="341.2" text-anchor="start">0.25</text>
<text class="tk" x="210.4" y="348.6" text-anchor="start">0.2</text>
<text class="tk" x="210.4" y="355.3" text-anchor="start">0.15</text>
<text class="tk" x="210.4" y="362.7" text-anchor="start">0.1</text>
<text class="tk" x="210.4" y="370.1" text-anchor="start">0.05</text>
<text class="tk" x="123.2" y="309" text-anchor="end">550</text>
<text class="tk" x="124.1" y="381.9" text-anchor="middle">550</text>
<text class="tk" x="123.2" y="325.3" text-anchor="end">610</text>
<text class="tk" x="142.96" y="381.9" text-anchor="middle">610</text>
<text class="tk" x="123.2" y="341.59" text-anchor="end">670</text>
<text class="tk" x="161.83" y="381.9" text-anchor="middle">670</text>
<text class="tk" x="123.2" y="357.89" text-anchor="end">730</text>
<text class="tk" x="180.69" y="381.9" text-anchor="middle">730</text>
<text class="tk" x="123.2" y="374.18" text-anchor="end">790</text>
<text class="tk" x="199.56" y="381.9" text-anchor="middle">790</text>
<text class="xl" x="163.4" y="386.7" text-anchor="middle">Wavelength(nm)</text>
<text class="xl" x="0" y="0" text-anchor="middle" transform="translate(113.9,342.45) rotate(-90)">Wavelength(nm)</text>
<text class="cp" x="136.4" y="399.7" text-anchor="start">(</text>
<text class="cl" x="141" y="399.7" text-anchor="start" textLength="13" lengthAdjust="spacingAndGlyphs">d-2</text>
<text class="cp" x="155.5" y="399.7" text-anchor="start">)</text>
<text class="cn" x="163.6" y="399.7" text-anchor="start" textLength="15.6" lengthAdjust="spacingAndGlyphs">FDI</text>
<text class="tk" x="320" y="314.7" text-anchor="start">0.6</text>
<text class="tk" x="320" y="324.8" text-anchor="start">0.5</text>
<text class="tk" x="320" y="335.2" text-anchor="start">0.4</text>
<text class="tk" x="320" y="345.6" text-anchor="start">0.3</text>
<text class="tk" x="320" y="356" text-anchor="start">0.2</text>
<text class="tk" x="320" y="366.7" text-anchor="start">0.1</text>
<text class="tk" x="232.3" y="309" text-anchor="end">550</text>
<text class="tk" x="233.2" y="381.9" text-anchor="middle">550</text>
<text class="tk" x="232.3" y="325.3" text-anchor="end">610</text>
<text class="tk" x="252.28" y="381.9" text-anchor="middle">610</text>
<text class="tk" x="232.3" y="341.59" text-anchor="end">670</text>
<text class="tk" x="271.36" y="381.9" text-anchor="middle">670</text>
<text class="tk" x="232.3" y="357.89" text-anchor="end">730</text>
<text class="tk" x="290.44" y="381.9" text-anchor="middle">730</text>
<text class="tk" x="232.3" y="374.18" text-anchor="end">790</text>
<text class="tk" x="309.52" y="381.9" text-anchor="middle">790</text>
<text class="xl" x="272.95" y="386.7" text-anchor="middle">Wavelength(nm)</text>
<text class="xl" x="0" y="0" text-anchor="middle" transform="translate(223,342.45) rotate(-90)">Wavelength(nm)</text>
<text class="cp" x="243.6" y="399.7" text-anchor="start">(</text>
<text class="cl" x="248.7" y="399.7" text-anchor="start" textLength="13" lengthAdjust="spacingAndGlyphs">d-3</text>
<text class="cp" x="262.7" y="399.7" text-anchor="start">)</text>
<text class="cn" x="271.6" y="399.7" text-anchor="start" textLength="21.8" lengthAdjust="spacingAndGlyphs">FRDI</text>
<text class="tk" x="426.5" y="312.2" text-anchor="start">0.5</text>
<text class="tk" x="426.5" y="324.8" text-anchor="start">0.4</text>
<text class="tk" x="426.5" y="338.5" text-anchor="start">0.3</text>
<text class="tk" x="426.5" y="351.6" text-anchor="start">0.2</text>
<text class="tk" x="426.5" y="364.6" text-anchor="start">0.1</text>
<text class="tk" x="338.4" y="309" text-anchor="end">550</text>
<text class="tk" x="339.3" y="381.9" text-anchor="middle">550</text>
<text class="tk" x="338.4" y="325.3" text-anchor="end">610</text>
<text class="tk" x="358.31" y="381.9" text-anchor="middle">610</text>
<text class="tk" x="338.4" y="341.59" text-anchor="end">670</text>
<text class="tk" x="377.32" y="381.9" text-anchor="middle">670</text>
<text class="tk" x="338.4" y="357.89" text-anchor="end">730</text>
<text class="tk" x="396.32" y="381.9" text-anchor="middle">730</text>
<text class="tk" x="338.4" y="374.18" text-anchor="end">790</text>
<text class="tk" x="415.33" y="381.9" text-anchor="middle">790</text>
<text class="xl" x="378.9" y="386.7" text-anchor="middle">Wavelength(nm)</text>
<text class="xl" x="0" y="0" text-anchor="middle" transform="translate(329.1,342.45) rotate(-90)">Wavelength(nm)</text>
<text class="cp" x="353.5" y="399.7" text-anchor="start">(</text>
<text class="cl" x="357.5" y="399.7" text-anchor="start" textLength="13" lengthAdjust="spacingAndGlyphs">d-4</text>
<text class="cp" x="371" y="399.7" text-anchor="start">)</text>
<text class="cn" x="380.4" y="399.7" text-anchor="start" textLength="15.9" lengthAdjust="spacingAndGlyphs">FNI</text>
<text class="tk" x="450.5" y="309.9" text-anchor="end">0.5</text>
<text class="tk" x="450.5" y="326.8" text-anchor="end">0.4</text>
<text class="tk" x="450.5" y="343.7" text-anchor="end">0.3</text>
<text class="tk" x="450.5" y="360.6" text-anchor="end">0.2</text>
<text class="tk" x="450.5" y="377.5" text-anchor="end">0.1</text>
<text class="tk" x="451.4" y="382.5" text-anchor="middle">550</text>
<text class="tk" x="473" y="382.5" text-anchor="middle">610</text>
<text class="tk" x="494.6" y="382.5" text-anchor="middle">670</text>
<text class="tk" x="516.2" y="382.5" text-anchor="middle">730</text>
<text class="tk" x="537.8" y="382.5" text-anchor="middle">790</text>
<text class="xl" x="496.45" y="387.3" text-anchor="middle">Wavelength(nm)</text>
<text class="xl" x="0" y="0" text-anchor="middle" transform="translate(441.9,343.2) rotate(-90)">Wavelength(nm)</text>
<text class="cp" x="441.8" y="399.7" text-anchor="start">(</text>
<text class="cl" x="446.4" y="399.7" text-anchor="start" textLength="13.5" lengthAdjust="spacingAndGlyphs">d-5</text>
<text class="cp" x="462" y="399.7" text-anchor="start">)</text>
<text class="cs" x="469.8" y="399.7" text-anchor="start" textLength="79" lengthAdjust="spacingAndGlyphs">Single wavelength</text>
<text class="tk" x="102.7" y="414.4" text-anchor="start">0.6</text>
<text class="tk" x="102.7" y="424.8" text-anchor="start">0.5</text>
<text class="tk" x="102.7" y="436.7" text-anchor="start">0.4</text>
<text class="tk" x="102.7" y="447.1" text-anchor="start">0.3</text>
<text class="tk" x="102.7" y="458.2" text-anchor="start">0.2</text>
<text class="tk" x="102.7" y="468.7" text-anchor="start">0.1</text>
<text class="tk" x="14.4" y="411.5" text-anchor="end">560</text>
<text class="tk" x="15.3" y="484.1" text-anchor="middle">560</text>
<text class="tk" x="14.4" y="425.58" text-anchor="end">610</text>
<text class="tk" x="31.86" y="484.1" text-anchor="middle">610</text>
<text class="tk" x="14.4" y="439.67" text-anchor="end">660</text>
<text class="tk" x="48.42" y="484.1" text-anchor="middle">660</text>
<text class="tk" x="14.4" y="453.75" text-anchor="end">710</text>
<text class="tk" x="64.99" y="484.1" text-anchor="middle">710</text>
<text class="tk" x="14.4" y="467.83" text-anchor="end">760</text>
<text class="tk" x="81.55" y="484.1" text-anchor="middle">760</text>
<text class="xl" x="55.05" y="488.9" text-anchor="middle">Wavelength(nm)</text>
<text class="xl" x="0" y="0" text-anchor="middle" transform="translate(5.1,444.8) rotate(-90)">Wavelength(nm)</text>
<text class="cp" x="33.6" y="498.4" text-anchor="start">(</text>
<text class="cl" x="39.3" y="498.4" text-anchor="start" textLength="13" lengthAdjust="spacingAndGlyphs">e-1</text>
<text class="cp" x="53.3" y="498.4" text-anchor="start">)</text>
<text class="cn" x="63.3" y="498.4" text-anchor="start" textLength="14.9" lengthAdjust="spacingAndGlyphs">FRI</text>
<text class="tk" x="210.4" y="418.1" text-anchor="start">0.5</text>
<text class="tk" x="210.4" y="430.8" text-anchor="start">0.4</text>
<text class="tk" x="210.4" y="442.6" text-anchor="start">0.3</text>
<text class="tk" x="210.4" y="454.5" text-anchor="start">0.2</text>
<text class="tk" x="210.4" y="467.2" text-anchor="start">0.1</text>
<text class="tk" x="123.2" y="411.5" text-anchor="end">560</text>
<text class="tk" x="124.1" y="484.1" text-anchor="middle">560</text>
<text class="tk" x="123.2" y="425.58" text-anchor="end">610</text>
<text class="tk" x="140.47" y="484.1" text-anchor="middle">610</text>
<text class="tk" x="123.2" y="439.67" text-anchor="end">660</text>
<text class="tk" x="156.85" y="484.1" text-anchor="middle">660</text>
<text class="tk" x="123.2" y="453.75" text-anchor="end">710</text>
<text class="tk" x="173.22" y="484.1" text-anchor="middle">710</text>
<text class="tk" x="123.2" y="467.83" text-anchor="end">760</text>
<text class="tk" x="189.6" y="484.1" text-anchor="middle">760</text>
<text class="xl" x="163.4" y="488.9" text-anchor="middle">Wavelength(nm)</text>
<text class="xl" x="0" y="0" text-anchor="middle" transform="translate(113.9,444.8) rotate(-90)">Wavelength(nm)</text>
<text class="cp" x="136.4" y="498.4" text-anchor="start">(</text>
<text class="cl" x="141" y="498.4" text-anchor="start" textLength="13" lengthAdjust="spacingAndGlyphs">e-2</text>
<text class="cp" x="155.5" y="498.4" text-anchor="start">)</text>
<text class="cn" x="163.6" y="498.4" text-anchor="start" textLength="15.6" lengthAdjust="spacingAndGlyphs">FDI</text>
<text class="tk" x="320" y="418.6" text-anchor="start">0.6</text>
<text class="tk" x="320" y="428.5" text-anchor="start">0.5</text>
<text class="tk" x="320" y="438.9" text-anchor="start">0.4</text>
<text class="tk" x="320" y="448.6" text-anchor="start">0.3</text>
<text class="tk" x="320" y="459" text-anchor="start">0.2</text>
<text class="tk" x="320" y="469.4" text-anchor="start">0.1</text>
<text class="tk" x="232.3" y="411.5" text-anchor="end">560</text>
<text class="tk" x="233.2" y="484.1" text-anchor="middle">560</text>
<text class="tk" x="232.3" y="425.58" text-anchor="end">610</text>
<text class="tk" x="249.76" y="484.1" text-anchor="middle">610</text>
<text class="tk" x="232.3" y="439.67" text-anchor="end">660</text>
<text class="tk" x="266.32" y="484.1" text-anchor="middle">660</text>
<text class="tk" x="232.3" y="453.75" text-anchor="end">710</text>
<text class="tk" x="282.89" y="484.1" text-anchor="middle">710</text>
<text class="tk" x="232.3" y="467.83" text-anchor="end">760</text>
<text class="tk" x="299.45" y="484.1" text-anchor="middle">760</text>
<text class="xl" x="272.95" y="488.9" text-anchor="middle">Wavelength(nm)</text>
<text class="xl" x="0" y="0" text-anchor="middle" transform="translate(223,444.8) rotate(-90)">Wavelength(nm)</text>
<text class="cp" x="243.6" y="498.4" text-anchor="start">(</text>
<text class="cl" x="248.7" y="498.4" text-anchor="start" textLength="13" lengthAdjust="spacingAndGlyphs">e-3</text>
<text class="cp" x="262.7" y="498.4" text-anchor="start">)</text>
<text class="cn" x="271.6" y="498.4" text-anchor="start" textLength="21.8" lengthAdjust="spacingAndGlyphs">FRDI</text>
<text class="tk" x="426.5" y="415.2" text-anchor="start">0.5</text>
<text class="tk" x="426.5" y="427.8" text-anchor="start">0.4</text>
<text class="tk" x="426.5" y="441.2" text-anchor="start">0.3</text>
<text class="tk" x="426.5" y="453.8" text-anchor="start">0.2</text>
<text class="tk" x="426.5" y="466.7" text-anchor="start">0.1</text>
<text class="tk" x="338.4" y="411.5" text-anchor="end">560</text>
<text class="tk" x="339.3" y="484.1" text-anchor="middle">560</text>
<text class="tk" x="338.4" y="425.58" text-anchor="end">610</text>
<text class="tk" x="355.8" y="484.1" text-anchor="middle">610</text>
<text class="tk" x="338.4" y="439.67" text-anchor="end">660</text>
<text class="tk" x="372.3" y="484.1" text-anchor="middle">660</text>
<text class="tk" x="338.4" y="453.75" text-anchor="end">710</text>
<text class="tk" x="388.8" y="484.1" text-anchor="middle">710</text>
<text class="tk" x="338.4" y="467.83" text-anchor="end">760</text>
<text class="tk" x="405.3" y="484.1" text-anchor="middle">760</text>
<text class="xl" x="378.9" y="488.9" text-anchor="middle">Wavelength(nm)</text>
<text class="xl" x="0" y="0" text-anchor="middle" transform="translate(329.1,444.8) rotate(-90)">Wavelength(nm)</text>
<text class="cp" x="353.5" y="498.4" text-anchor="start">(</text>
<text class="cl" x="357.5" y="498.4" text-anchor="start" textLength="13" lengthAdjust="spacingAndGlyphs">e-4</text>
<text class="cp" x="371" y="498.4" text-anchor="start">)</text>
<text class="cn" x="380.4" y="498.4" text-anchor="start" textLength="15.9" lengthAdjust="spacingAndGlyphs">FNI</text>
<text class="tk" x="451.6" y="410.9" text-anchor="end">0.5</text>
<text class="tk" x="451.6" y="424.6" text-anchor="end">0.4</text>
<text class="tk" x="451.6" y="438.3" text-anchor="end">0.3</text>
<text class="tk" x="451.6" y="452.1" text-anchor="end">0.2</text>
<text class="tk" x="451.6" y="465.8" text-anchor="end">0.1</text>
<text class="tk" x="451.6" y="479.5" text-anchor="end">0</text>
<text class="tk" x="454.1" y="484.5" text-anchor="middle">560</text>
<text class="tk" x="471.5" y="484.5" text-anchor="middle">610</text>
<text class="tk" x="489" y="484.5" text-anchor="middle">660</text>
<text class="tk" x="506.5" y="484.5" text-anchor="middle">710</text>
<text class="tk" x="524" y="484.5" text-anchor="middle">760</text>
<text class="xl" x="497.2" y="489.3" text-anchor="middle">Wavelength(nm)</text>
<text class="xl" x="0" y="0" text-anchor="middle" transform="translate(443,444.7) rotate(-90)">Wavelength(nm)</text>
<text class="cp" x="438" y="498.4" text-anchor="start">(</text>
<text class="cl" x="442.5" y="498.4" text-anchor="start" textLength="13.5" lengthAdjust="spacingAndGlyphs">e-5</text>
<text class="cp" x="457.6" y="498.4" text-anchor="start">)</text>
<text class="cs" x="464.9" y="498.4" text-anchor="start" textLength="79" lengthAdjust="spacingAndGlyphs">Single wavelength</text></svg>
</body></html>
